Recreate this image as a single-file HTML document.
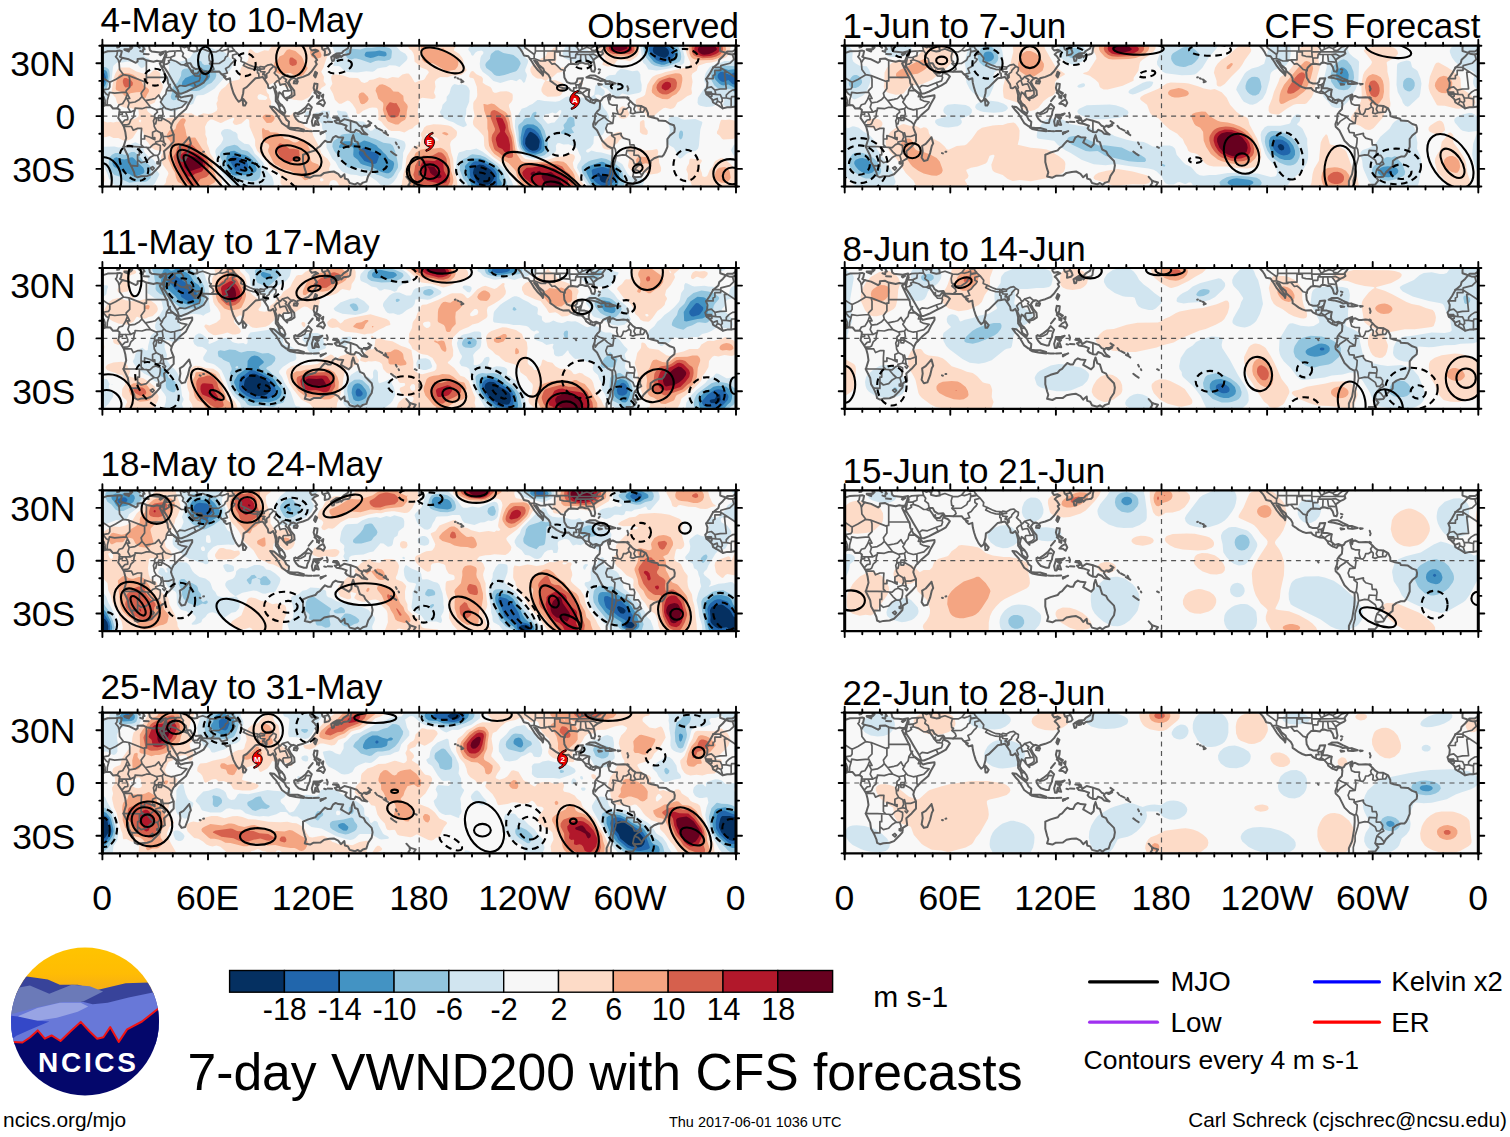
<!DOCTYPE html>
<html><head><meta charset="utf-8"><title>7-day VWND200 with CFS forecasts</title>
<style>html,body{margin:0;padding:0;background:#fff}svg{display:block}text{font-family:"Liberation Sans",sans-serif;fill:#000}</style></head><body>
<svg width="1510" height="1137" viewBox="0 0 1510 1137">
<defs>
<clipPath id="pc"><rect x="0" y="0" width="633.6" height="140.8"/></clipPath>
<g id="map" fill="none" stroke="#5E5E5E" stroke-linejoin="round" stroke-linecap="round"><path stroke-width="2.0" d="M0,7.4 5.3,5.6 14.1,5.3 17.6,4.9 19.4,5.6 18.5,9.7 17.6,10.9 19.4,12 26.4,13.6 33.4,17.1 35.2,15.8 35.2,13.2 40.5,12.8 44,14.6 51,16 54.6,15 56.8,15.5 60.2,15.3 57.4,17.8 59,21.1 62.5,28.2 65.1,33.4 65.6,37.3 68.6,43.1 72.2,45.8 75.7,48.4 76.2,50 78.3,51.9 82.7,50.7 89.8,49.6 89.8,51.9 86.2,58.1 83.6,63.4 77.4,68.6 73.9,72.2 71.3,74.8 69.5,78.3 68.6,81.8 69.5,84.5 71.3,88.9 71.3,95.9 66.9,100.8 61.6,105.6 62.5,112.6 58.1,115.3 57.7,119.7 54.6,123.2 49.3,128.5 44.9,130.2 38.7,130.6 35.2,131.6 32.4,130.2 31.7,126.7 29,120.6 26.4,116.2 25.5,110 21.1,101.2 23.8,92.4 22.9,86.2 21.5,81 19.4,77.4 15.8,72.2 16.7,68.6 17.2,64.2 15,62.5 10.6,62.8 7.9,59.5 3.5,59.3 0,60.7M633.6,60.7 628.3,61.6 624.8,61.6 620.4,62.7 616,59.8 610.7,56.8 609.8,53.7 607.2,51 604,48.4 602.8,44.5 604.6,42.2 605.1,37 603.7,33.4 607.2,28.2 610.7,22 616,17.6 616.9,14.1 620.4,10.9 623.4,7.4 626.6,8.4 630.1,8.8 633.6,7.4M618.1,0 617.8,2.3 617.8,5.3 622.2,6.7 623.9,6.9 624.8,5.8 630.1,5.8 632.7,4.2 633.6,2.5M0,2.3 0.5,0M60.2,15.3 61.6,12.3 63.4,7 63.4,5.6 58.1,6.7 53.7,6.2 49.3,5.8 47.5,4.4 46.6,0M60.2,15.3 61.4,18.5 60.4,21.5 59.1,20.8 57.4,17.8M61.4,18.5 61.6,21.1 65.1,26.4 68.6,32.6 72.2,38.7 75.3,44 76.6,48 79.2,47.9 84.5,45.8 91.5,42.2 96.8,39.6 101.2,37 105.2,30.8 103,28.7 99.4,27.3 99.1,24.3 96.8,25.5 95,27.8 90.6,27.6 90.6,24.6 89.4,26.4 88,23.8 85.4,20.2 84.5,17.6 88,17.6 89.8,21.1 93.3,23.4 98.6,22.9 100.3,25.5 108.2,26 117,25.9 118.8,28.2 120.6,29.6 123.2,30.8 121.4,31.2 124.1,33.8 127.6,32.6 128.1,37 129.4,42.2 131.1,47.5 133.8,52.8 136.4,56.1 139,54.2 140.8,47.5 141.2,43.1 144.3,41.4 149.6,36.1 153.1,32.6 156.6,32 160.2,31.2 161.9,33.4 165.4,38.7 166,42.2 168.1,42.6 170.7,40.8 172.1,44 173.4,49.3 173.4,55.4 176,59 177.8,65.1 182.2,67.9 183,66 181.8,62.5 179.5,59.5 176.9,57.2 175.1,53.7 176,49.3 176.9,46.6 179.5,48.4 181.3,51 184.8,54.6 184.8,52.8 188.3,51.9 192.2,49.3 191.8,44.9 188.3,40.5 186.2,36.1 188.3,33.4 191,32.2 193.6,33.4 194.5,34.3 195.4,32.6 200.6,31.2 205.9,29 209.4,25.5 211.2,22.9 214.4,18.5 213,15.8 214.7,14.4 212.1,10.6 210,8.8 212.1,6.7 215.6,5.3 213,4 209.4,4.8 207.7,2.6 207.7,1.4 211.2,0M219.1,0 220,3.5 222.6,5.3 222.3,9.7 226.2,8.8 227.9,7 227,4.4 225.3,1.8 224.4,0M228.8,11.4 229.7,15.3 231.4,15 232.3,11.4 230.6,10.6 233.2,10 237.6,9.5 238.8,11.4 241.1,9.3 244.6,8.8 246.4,8.4 247.8,7 248.2,3.5 249,0M246.4,0 245.5,2.6 241.1,5.3 239.4,7.4 234.1,7.9 230.6,10 228.8,11.4M233.2,10.7 236.7,10.2 236.4,11.8 234.1,12.3 233.2,10.7M213,26 214.7,27.3 213,31.7 211.6,29.9 213,26M191.8,35.2 195.4,35.6 194.5,37.8 191.3,37.5 191.8,35.2M140.8,53.3 144,57.2 142.6,59.8 140.8,59.8 140.4,56.3 140.8,53.3M86.8,91.5 88.5,97.7 87.1,100.3 85.4,107.4 82.7,114.4 79.2,115.3 76.9,111.8 78,105.6 77.4,100.3 81,98.2 84.5,94.2 86.8,91.5M167.7,60.7 171.6,61.2 176.9,66 182.2,70.4 183.9,73.9 186.6,76 186.2,80.6 183.9,80.6 179.5,77.4 176.9,73 173.7,67.8 170.7,64.6 167.7,60.7M185.2,81.8 191,82.2 195.4,82.2 201.5,84 201.5,85.5 193.6,84.5 187.4,83.2 185.2,81.8M191.8,67.8 195.4,67.4 198.9,65.1 203.3,61.6 205.9,58.1 209.4,61.6 207.7,66 207.3,69 205,73.9 204.2,77.4 201.5,77.4 196.2,75.7 193.6,73 191.8,69.9 191.8,67.8M211.2,69 216.5,68.8 220,67.8 217.4,69.9 212.1,70.4 213.5,72.2 216.5,72 214.7,73.9 215.6,76.6 216.5,79.2 213.8,78.7 213,75.2 212.1,80.1 210.3,80.1 209.4,75.7 210.8,71.3 211.2,69M203.3,85.2 205.9,85.4 209.4,85.5M211.2,85.4 216.5,85.2M218.2,87.1 223.5,85.4 220,87.1 218.2,88.4 218.2,87.1M224.4,67.2 225.3,69.5 224.9,71.8M225.3,76 229.7,76.2M221.8,76.2 223.5,76.6M212.1,37.8 215.1,38.2 214.7,42.2 213.8,44.9 218.2,47.5 217.4,48.4 214.7,46.1 212.4,45.8 211.2,42.2 212.1,37.8M214.7,58.1 217.4,55.4 220.9,53.7 222.6,57.2 220.9,60.4 218.2,58.4 214.7,58.1M206.3,55.4 210.3,50.5M216.5,52.8 217,50.2M219.1,50.2 220.9,48.8 220.5,51.9 219.1,50.2M214.7,51.9 216.1,50.2 214.5,49.6 214.7,51.9M212.1,47 213.8,48.4M230.6,71.8 235.8,71.8 237.6,76.2 242,73.4 248.2,75 254.3,77.1 257,80.1 260.1,81.3 259.1,82.7 261.4,86.2 264.9,88.9 259.6,88 257,85.4 253.4,84 251.7,86.6 248.2,86.2 244.6,84.5 242.9,82.7 244.3,80.1 239.4,78.3 234.1,77.4 232.3,75.3 235.8,74.4 233.2,72.2 230.6,71.8M261.4,80.1 264.9,80.1 267.5,78 267.5,79.7 264,81.5 261.4,80.1M265.8,75.3 268.9,77.4M272.8,80.1 274.6,82.4M276.3,83.2 279.8,85M281.2,86.8 283,87.8M283,85.4 283.9,87.3M284.2,88.5 285.6,89.4M293.4,96.8 294.3,98.6M296.2,101.2 296.6,102.1M288.6,105.8 291.3,107.9 293.9,109.6M312.4,101.2 314.2,102.1M200.6,109.1 200.6,116.2 202.4,123.2 203.6,126.7 202.4,130.8 207.7,132 211.2,130.1 218.2,129.9 221.8,127.2 227,126.2 231.4,125.8 235.8,128.1 238.5,131.6 242,128.5 242.5,132.9 245.5,133.8 247.3,137.3 252.6,138.7 255.2,137.3 257.8,139 260.5,136.9 264,135.9 265.8,130.2 269.3,125 270.2,119.7 269.3,115.3 265.8,111.8 263.1,109.1 261.4,105.6 257.5,103.8 256.1,99.4 255.2,96.4 252.6,95.4 250.8,89.4 249.4,93.3 249,98.6 246.4,101.4 242.9,99.4 238.5,96.8 240.8,91.9 235.8,91.5 233.2,90.3 230.6,92 228.4,96.4 225.3,96.4 222.6,95 220,97.7 217.4,100.8 215.1,102.1 213,104.7 205.9,106.8 200.6,109.1M304,131.1 307.1,134.6 308.9,135.5 313.3,136.8 311.5,139.6 311.2,140.8M307.1,134.6 307.5,137.3 305.9,139.6 308,140.8M359,36.6 361,35.9 359.4,34.8 359,36.6M357.8,33.8 358.9,34M355.2,32.6 356,32.9M352.5,31.7 353.2,31.5M414.8,0 418,3.5 419.8,6.2 421.5,9.7 425.9,10.6 427.7,13.2 429.4,15.8 432.1,20.2 435.6,24.6 439.5,28.2 440.5,29.9 440.9,27.3 437.4,22.9 433.8,17.6 431.7,14.8 434.7,15.8 436.5,19.4 440.9,22.9 441.8,25.5 446.2,29.4 447.9,32.6 447.9,35.2 450.6,37 454.1,39.6 457.6,41.4 461.1,42.6 466.4,42.2 468.2,44.4 471.7,46.1 475.2,47.2 479.6,47.5 482.8,51 483.6,53.2 486.6,55.4 488.4,56.3 491.9,57.6 493.7,54.9 497.2,55.4 497.7,58.1 497.2,63.4 494.6,66 492.8,68.6 492.4,73.9 490.7,78.3 491,81 494.6,84.5 497.2,89.8 499.8,95 505.1,100.3 509.9,102.8 510,109.1 509.5,116.2 508.3,123.2 507.4,128.5 504.2,135.5 504.2,140.8M524.5,141.7 524.1,139 530.6,138.7 533.8,134.6 532.9,133.8 530.6,130.8 533.3,131.6 538.6,131.1 541.2,126.7 544.7,123.2 547.9,120.6 548.2,115.3 551.8,112.6 556.2,110.9 559.7,110.9 561.4,109.1 563.2,105.6 565,101.2 565,93.3 567.6,89.8 572,86.2 572.4,82.7 571.5,79.6 567.6,78.3 563.2,75.3 556.2,74.8 555.3,73 549.1,71.6 545.6,70.4 545.6,67.4 543.5,62.8 538.6,60.2 533.3,59.8 530.6,58.1 528,55.4 524.5,51.9 521,51.6 516.6,51.9 513.9,51.9 510.4,50.2 508.1,51 507.4,54 506.9,51 507.4,48.8 502.5,51 500.7,51.9 499,54.6 497.6,55.4 493.7,53.7 490.2,54.6 486.6,51.4 486.3,48.4 487,44 482.2,42.6 478.7,42.6 477.8,42.2 478.7,38.7 480.5,32.6 475.2,32.9 474.3,36.1 472.6,37.8 468.2,37.8 464.6,36.4 462,31.7 461.5,26.4 462.9,22 466.4,18.5 469.9,18.1 475.2,18.8 477,17.1 479.6,16.9 483.1,18 485.8,18 488,21.1 489.3,25.5 491.9,26 492.8,22.9 491.6,16.7 491,14.1 495.4,10.9 499,9.3 500.7,7.9 499.8,5.3 502.5,1.8 503.4,0M484,31.7 487.5,29.9 492.8,29.9 498.1,32.6 503,34.8 498.1,35.4 495.4,34 489.3,32.4 484,31.7M502.7,35.6 506.9,35.6 513,37.7 508.6,38.4 503.4,38.2 502.7,35.6M495.8,38 499.5,38.7 496.3,39.1 495.8,38M515.3,38 518,38.2 515.7,38.7 515.3,38M525,51.6 526.2,52.4 524.8,52.6 525,51.6M525.4,44.9 525.9,43.1M525.5,42.2 525,40.5M496.3,23.6 497.7,24.1M496.3,27.6 497.2,26.4M22,3.5 27.3,3.2 26.4,5.8 22,4 22,3.5M28.2,3.5 29.9,1.8 29,0M27.6,0 28.2,3.5M37.8,5.3 40.5,6.2 40.8,3.5 42.2,3.5 40.1,0M37.3,2.1 35.2,0M41.4,8.3 46.3,8.6M57.2,8.8 60.7,7.7 58.1,9.5 57.2,8.8M15,0 14.8,1.8 16.7,1.4 17.1,0M87.1,0 86.8,1.8 86.2,4.4 88,4.9 91.5,5.8 95,5.3 94.7,1.8 93.3,0M473.1,71.1 473.8,72.2M100.8,106.1 101.6,106M97.3,107.4 98.2,107.7"/><path stroke-width="1.7" d="M15.1,5.5 14.4,9.7 13.2,10.9 15.8,14.1 16.7,17.2 18.1,14.6 20.2,12M16.7,17.2 17.2,23.8 21.1,29 13.2,33.8 7.4,36.6 5.6,35.6 0,32M633.6,32 625.2,26.4M21.1,29 26.4,29.9 42.2,36.1 42.2,35.2 44,35.2 44,31.7 44,14.8M44,31.7 64.9,31.7M26.4,29.9 27.3,33.4 27.3,41.4 23.8,44.9 23.8,46.5 17.6,47 12.3,47.5 7,46.6 6.3,49.8M7.4,36.6 7.4,41.4 6.2,43.3 1.8,44 0.4,44 3.9,48.4 6.3,49.8 4.9,54.6 4.8,59.1M2.8,59.5 2.6,54.6 1.4,51M2.1,59.7 0.9,56.3 0,51M15,62.1 16.7,59 20.2,58.1 22.9,53.7 25,48.4 24.6,47.5 23.8,46.5M24.6,47.5 26.4,51 27.3,52.8 24.6,52.8 26.8,57.2 32.6,56.3 37,53.7 39.6,51 38.7,47.5 42.2,42.8 42.2,36.1M26.8,57.2 25.5,61.6 28.2,66.5 23.2,66.5 19.9,66.5 17.2,66.4M17.2,68.6 19.9,68.6 19.9,66.5M28.2,66.5 32.6,64.2 32.7,62.5 39.6,63 44,61.6 48.2,61.6M39.6,51 43.1,55.1 48.2,61.6M43.1,54.9 49.3,53.7 52.8,52.8 56.3,49.3 58.1,52.8 59.8,53.7M67.8,38.7 64.2,44 63.4,48.4 60.7,51.4 59.8,53.7 58.1,56.3 61.6,60.9M64.2,44.9 66.9,44.9 70.4,44.9 74.6,48.4 73.6,51 75.7,51 76,50.2M75.7,51 75.7,53.7 79.2,55.4 84.5,56.3 79.2,61.6 73.9,63 72.2,63.5 68.6,64.2 63.4,62.7 61.6,60.9 59.8,63 54.6,63.9 54.2,64.2 48.2,61.6M72.2,63.5 72.2,70.4 73,73.4M59.8,63 60.7,68.6 59.8,70 59.8,72.2 66.4,76 69,78.7M54.2,64.2 55.1,66.5 52.3,69 52.1,72.9 53.7,72.2 59.8,72.2M56.3,69.9 59.8,69.9 59.8,72.2 59,74.8 56.3,74.8 55.8,72.2 56.3,69.9M52.1,72.9 51,75.2 51.6,78.1 51.9,81 54,84.8 50.2,86.6 50.2,92.4 52.4,91.9 52.4,94 47.5,91.5 42.2,89.8 42.2,93.3 38.7,93.3 38.7,89.8 39.2,82.7 35.2,82.7 30.8,84.5 29,80.8 22.9,80.8 21.5,80.6M53.7,72.2 54.2,74.6 53.7,76.2 53.3,78.1 51.7,78.1M21.5,79.2 25.5,78.8 26.9,78 28.5,73.9 31.3,71.3 31.7,66.9 32.6,64.2M19.7,77.3 22.5,74.3 25.3,73.9 25.3,71.3 23.2,66.5M38.7,93.3 38.7,98.9 41.2,101.4M20.8,100.8 24.6,101 32.6,101 41.2,101.4 44.4,101.7M37,102.6 37,109.1 35.2,109.1 35.2,114 35.2,120.4 29.9,120 29,120.7M35.2,114 38.7,117 44,115.6 47.5,111.9 51.7,109.5 48.4,106.5 44.4,101.7 47.5,101.9 50.7,98.9 53.5,97.9 53.2,96.4 58.1,95M53.5,97.9 57.9,99.8 57.9,103.8 57,107.9 55.1,109.8 51.7,109.5M55.1,109.8 56.3,113.5 56.3,117.6 57.9,117.7M54.6,116.2 56.3,116.5 56.1,118.3 54.6,117.9 54.6,116.2M48,122.3 50.2,120.9 51.7,122.5 50.2,124.3 48,122.3M54,84.8 58.1,87.1 59,91.5 57.7,94.5 58.1,95 60.7,95.9 63.2,98.4 62,100.3 60.4,98.6M59.8,87.1 60.7,90.6 61.2,95 61.6,95.7M60.7,90.6 66,90.8 71.1,88.9M630.1,8.8 631.5,13.7 627.4,17.6 618.5,19.9 618.3,21.6 610.4,21.6M603.7,32.9 610.7,32.9 610.7,29.9 612.5,29 612.5,24.6 618.3,24.6 618.3,22 625.2,26.4 622,26.4 623.7,41.4 623.9,43.1 617.8,43.3 612.5,44.4 609,41.2 604.6,42.2M612.5,44.4 613.4,48.6 609.8,48.2 604.2,48.8M604.2,46.5 609,46.5 609,47.2 604.2,47.3M609.5,48.4 609.5,50.5 607.2,51M613.4,48.6 617.8,48.9 619.5,52.3 619.9,55.4 618.6,57 620.4,62.7M610.4,54.6 614.8,52.8 615.1,55.4 618.6,57M615.1,55.4 613.4,58.3M619.5,52.3 623.9,52.3 623.9,49.3 626.6,46.6 630.1,44.4 633.6,44M628.7,61.4 628.8,56.3 628.7,53.7 629.2,51 633.6,51M623.9,52.3 628.7,53.2M625.2,26.4 633.6,32M61.4,18.5 62.5,13.2 62.7,12 64.2,9.7 63.7,7M61.8,12.1 63.4,11.8 68.3,11.6M61.6,18.8 64.2,18.5 66.9,16.7 66,15 68.6,14.1 68.3,11.6 72.2,9.9 72.5,6.2 74.6,5.1M63.7,7 66.9,5.6 74.6,5.1 78.8,4.9 81,7.9 80.1,10.6 83.6,13.2 84.5,17.6M68.6,14.1 73.9,15.8 78.7,19 81.8,19.2 84,20.2 85.2,20.2M81.8,19.2 84,17.6 84.5,17.6M75.3,41.5 77.4,39.8 82.7,40.5 91.5,37 96.8,35.2 97.9,31.7 97.2,30.4 92.6,30.1 90.8,27.8M91.5,37 93.5,41.2M97.2,30.4 98.2,27.8 99.1,26 98.7,24.6M78.8,4.9 78,1.1 78.8,0.5 81.8,1.9 84.5,0.7 86.1,2.8M78.8,0.5 76.9,0M94.9,4.8 100.3,3.2 104.7,4.9 107.7,6 106.5,10.6 107,15 108.8,15.8 107.2,18 110.5,20.8 111.4,23.4 108.4,26M107.2,18 116.7,17.8 122,14.3 123.2,11.4 125.1,10.4 126,6.3 131.1,5.3M107.7,6 113.5,6.3 117,4.6 119.7,5.3 123.2,4.2 125.8,3 126,5.8 131.1,4.9 132,4.4 130.2,2.6 129.7,0.9 125,0.9 124.1,0M117,4.6 119.3,1.8 120.6,0M120,28.7 125,27.3 123.2,22.9 126.5,21.1 129.2,17.6 131.3,15.7 132.5,13.6 130.2,12.3 130.2,9.3 135.5,7.9 132,4.9M135.5,7.9 139,12.3 138.5,15.5 142.6,17.2 147.8,19.7 151.4,21.1 155.1,21.3 156.6,22 158,20.8 161.9,21.5 165.4,19.4 169,18.7 171.2,20.6M141,19.7 146.1,22.2 151,23.6 155.1,23.9 155.1,21.3M142.6,17.2 141,19.7M156.6,22 158,23.4 161.9,23.1 161.9,21.5M171.2,20.6 169.3,22.4 167.2,24.6 166.7,26.4 164.2,28.2 164.4,31.7 163,32.9 162.4,34M156.6,32 156.3,27.6 155.1,27.3 155.1,23.9 158,24.6 158,25.9 162.6,26.2 160.5,28 160.5,29 162.4,28.7 163,32.9M171.2,20.6 173.7,22 173.5,25 171.8,27.3 174.1,29.6 175.1,30.1 176.4,32.7 178.1,33.1 176.2,34.5 174.2,35.6 172,37.8 173.7,41.7 172.8,43.6 174.6,47.5 173.5,52.8M178.1,33.1 179.9,31 184.1,34.1 183,35.7 185.2,37.5 189.2,44.5 189.4,48.8 186.6,51 183.9,52.1M176.2,34.5 177.8,39.4 179.5,38.7 183,38.2 184.4,41.4 185.9,45.1 181.3,45.2 180.4,46.5 181.1,49.8M185.9,45.1 189.2,44.5M179.9,31 185.3,29.4 187.8,31.7 190.1,32.6M176.2,59.1 177.9,60.4 179.7,59.5M192.9,66.9 195.4,68.6 198.9,67.8 202.4,66 203.8,62.8 207,63M248.2,75 248.2,86.2M221.8,3.5 226,2.5M218.2,86.8 220,86.6 220.4,87.3M427.5,13.2 431.7,12.8 438.2,15.3 443.2,15.3 443.2,14.4 446.2,14.4 449.7,18.5 452.3,18 455,20.2 458.5,23.8 462.5,24.8M422.4,1.8 431.9,8.8 431.7,12.8M422.4,1.8 422.4,0M433,5.3 433,0M432.8,7 433,5.3 467.1,5.3M431.9,8.8 432.8,7M441.8,15.3 441.8,0M446.2,14.1 452.3,14.1 452.3,6.2 457.6,6.2 457.6,9.7 461.1,10.6 467.5,11.1M452.3,6.2 452.3,5.3M454.1,5.3 454.1,0M468.2,12.3 468.5,17.6M468.2,12.3 473.1,12.3 473.4,8.8 476.1,6.2 476.6,5.3 479.6,3.5 484.4,1.6 488.2,2.8 489.3,4.4M467.5,11.1 467.1,6.2 467.1,0M467.1,6.2 475.7,6.2M478,17.1 478.4,8.8M483.8,15.8 482.9,8.8M474.8,8.8 487,8.8 491,8.4 495.3,10.7M484,15.8 490.2,16.4M476.1,6.2 489.8,6 500,6.1M487,8.8 491,14.1M476.6,5.3 474.8,1.8 472.6,0M489.3,4.4 492.8,4.8 497.2,1.2 500.7,0.5M488.2,2.8 491.9,0.5 491.9,0M479.6,3.5 479.6,0M484.4,1.6 484.4,0M471.3,44.9 471.3,42.1 474.3,42.1 473.4,39.1 476.6,39.1 478.4,37.8M476.6,39.1 476.6,42.4 477.3,42.4M477.3,42.8 476.4,45.1 475,46.3M476.4,45.1 479.1,46.8 479.4,47.5M480,47.5 482.2,45.8 484.9,44.4 487,44M482.8,50.9 486.3,51.2M487.7,56.1 488.2,53.5M497.4,57.6 497.6,55.1M507.9,49.5 505.3,51.9 506.2,55.4 506.9,58.1 510.4,59.5 514.8,59.5 514.3,63.4 515.7,68.3 510.4,67.4 511.3,71.3 510.4,77.8 505.1,74.4 501.2,70.6 497.2,69.2 494.9,67.9M501.2,70.6 500.7,72.2 495.4,75.7 492.8,79.2 492.4,76.4M510.4,77.8 505.1,78.3 503.4,82.7 504.8,86.6 509.5,87.1 509.3,89.8 512.5,92.4 512.2,96.8 511.5,101.2 509.9,102.6M511.5,101.2 513,103.8 513.9,110.5 513,114.4 510.4,123.2 510.4,128.5 508.6,134.6 508.6,140.8M509.3,89.8 518.7,87.6 518.7,89.8 521,92.4 527.1,94.2 527.6,99.1 531.5,99.1 532.4,102.1 531.9,105.2 524.5,104.7 523.6,109.5 520.1,109.1 513.9,110.5M523.6,109.5 530.6,114.4 532,118.3 535,118.4 537.7,115.5 538,112.6 535.9,109.6 531.5,109.5 531.9,105.2M537.7,115.5 539.1,118.3 535,120.6 532.2,123.6 535.9,125 539.6,129.7M532.2,123.6 531.2,126.7 530.6,130.2M515.7,68.3 518.3,69 520.1,66.5 521,63.4 523.6,63.4 526.8,61.2 528.4,62.5 528.5,64.4 528,67.2 530.6,68.1 533.3,66.9 538.2,66.4 540.8,66.4 542.6,63M526.8,61.2 525.9,58.6 528,55.6M533.3,66.9 531.5,63.4 532.9,59.8M538.6,60.4 537.9,64.2 538.2,66.4M507.2,35.7 507.4,38.5"/></g>
<clipPath id="lc"><circle cx="85" cy="1021.5" r="74"/></clipPath>
</defs>
<rect width="1510" height="1137" fill="#fff"/>
<!-- panel 1 -->
<g transform="translate(102.4,45.7)" clip-path="url(#pc)">
<rect x="0" y="0" width="633.6" height="140.8" fill="#F8F8F8"/>
<path d="M149.1,0 147,0.7 145.5,0ZM247.4,140 237,140 234.6,136 233,134.7 231,134.2 228.5,135 227.6,136 226.4,140 180.3,140 178.3,138 178,137.1 178.3,131 177.1,128 175,126 168,121.8 164.8,116 154.7,105 152.8,100 152.7,94 147.2,81 146.7,74 145,73.2 144,73.4 139,77.9 134,79.4 132,78.8 130.5,77 130.4,76 132,73 131,71.8 123.1,75 119.4,77 118,77.2 110,73.7 108,73.9 105,76.2 102.6,81 103.1,86 103,89 104.7,93 104.4,96 104.7,98 106.4,102 108,108 111.3,113 114.4,124 118.7,132 119.2,134 119.6,140 61,140 63.4,137 63.9,133 66.1,128 65.5,126 60.4,119 59.6,117 58.5,111 60.1,107 59.9,106 59,105.4 53,104.2 49,101.8 45.8,97 43,94 40.6,86 39,83.3 38,82.6 37,82.5 36,83.2 30.4,92 28,93.8 25,94.8 21,94.9 16,92.4 11,92.2 7,90.3 4,91.3 0,91.9 0,75 5,76.8 8,76.3 11,76.8 14,76 17,76.1 23,75.2 28,73.6 32,73.3 35.7,71 36.5,69 36,64 35,62.6 32,63.7 29,62.4 22.9,62 17,59.8 14.6,57 13.2,52 10,48.2 9.2,45 11.5,32 13,27.6 15.7,23 17,22.2 19,21.7 27,21.8 34,25.8 45,29 47,28.6 51,24.8 53,24.4 55,25 57.6,27 58.1,31 57.7,35 60.2,39 60.5,42 57,49.9 54.1,53 52.1,57 47,59.4 45,61 44.5,64 45.6,66 57,74.8 58,74.9 65,72.3 72,71.8 74,70.9 78,67.8 80,67.2 85,67.8 89,67.6 93,69.8 95,70.2 101,67.6 106,68.4 109,67.9 112,66.6 114.3,65 115,63 114,57.5 115.4,55 115.2,52 116.8,47 119,43.7 123,40.7 126.3,37 130,35.3 136,34.1 137.5,33 137.8,32 137.1,27 138.7,22 141,19.1 145.5,15 146.4,11 145.4,7 147,3.8 148,3.5 149,3.9 152.9,7 155,7.3 162,4.6 166,5 168.2,2 170.3,0 220.6,0 222,2.3 225.4,5 226.1,8 223.9,13 221,22 218.8,26 221.6,31 221.2,35 221.5,36 223.2,38 223.4,39 222.6,40 219.2,42 217,45 215,46 212,45.4 210,45.9 207.9,50 206,51.8 201,54.3 199,54.7 191.3,54 189,53.2 188,52 187.7,48 188,47.2 191.1,46 191.2,44 190.3,42 189,41.6 184,41.8 180,39 173,36.9 170.6,37 165.6,40 164.2,42 164,45 165,47.2 166.6,49 166.9,52 168.9,56 168.3,60 169,62 171,62.6 173,62.3 174,62.7 178.1,67 186,69.5 189,69.4 191,66.9 192,67 193.3,69 192.8,71 194.2,73 199.9,77 203,81.1 209.4,84 210.9,90 217.3,102 218.6,107 221.1,110 225.1,113 227.7,117 228,119 226.6,123 227,124.7 236,129.4 242,131.2 244,132.4 245.6,134 246.8,136 247.7,139ZM227.8,43 227.7,42 230,38 228.8,33 228.8,31 229.9,29 231,28.7 234,28.7 241,29.9 247,32.1 255,32.2 256.6,33 259,36.4 262,37.4 265,36.3 267,34.3 271,33.9 277,31.6 285,33 290,31.4 296,32 300,28.7 304,27.7 306,27.9 307,28.6 309,31.1 312,36.4 313,36.8 317,35 321,34.3 322.4,33 324,30 326.3,27 326.3,26 324.6,24 318,21.6 315,18 312.2,16 311.7,10 310.7,7 309.4,5 306.8,3 305.2,0 354.4,0 351.8,3 351.5,4 351.8,5 356.7,8 359.7,12 360.7,14 361.5,20 364.2,24 364,25 359,29.2 350,29.9 345,31.6 338,31.4 336,32.2 333.6,34 332.4,36 333.1,41 331.6,47 333.1,50 333,52 332,52.8 330,53.3 320,52.1 318,52.7 316.5,56 315.3,66 316.8,76 316.4,78 312.6,80 310,82.8 307,83.8 302,86.9 297,85.2 289,85.3 286,84 281.1,79 279,76 275.8,74 276.1,71 275.7,65 275.1,63 274,62.1 270,61.7 267,62.2 260.6,65 257,68 255,68.3 254,67 253.9,65 253.1,63 250,58.3 247,55.2 245,54.8 239,58.1 237,58.1 236,57.6 232.5,54 230.6,48ZM491.8,0 535.7,0 536.5,3 536.5,6 535.7,9 534.3,11 528,15.4 527,15.6 523,14.6 516,14 514.5,15 512.3,18 509.4,20 507,20.9 505,20.9 500,19 500.4,17 502.7,14 503,13 502.6,12 498,7.2 495,2.6ZM535.5,64 533.5,58 533.3,55 533.6,54 534.9,53 541,50.6 542.7,49 545,38.7 548.5,33 550.3,31 554,29.1 559,27.9 563,26.2 584,21.7 587.6,19 588,17 584.5,9 583.5,5 583.2,0 628.4,0 628.2,2 625.9,9 624.4,11 622.9,12 614,15.6 609,16.8 604,17.4 595.8,20 594.3,25 590,27.9 589.2,30 590.2,36 589,43 589.6,47 589,48.9 585,50.3 579,54.8 575,56.9 572.7,61 571,62.6 568,63.4 563,62 561,62.5 556.2,66 550,71.6 547,72.6 545,72 543.3,68 541,65.4 539,64.7 536,64.7ZM433,31.8 430,29.2 428.2,26 427.8,23 429,20.6 431,18.7 435.1,16 438,13.2 442.5,11 443.5,10 444.9,6 449,5.3 451,2.2 452,1.5 454,1.8 454.4,3 453.7,6 454.1,13 453.1,17 453.3,18 457,21.9 458,22.2 461,21.5 462,23 461.2,25 459,26.4 455,27.1 450,31.6 446.3,33 444,34.8 443,35 439,33 435,32.7ZM158.5,25 158.7,24 158.2,23 156,21.9 153,21.7 152,22 151.5,23 151.6,24 152.5,25 155,26 157,26.3ZM482.2,140 415.8,140 414.5,137 410.7,132 408.3,127 405,122 401,118.3 390.6,111 382.9,103 381.8,100 381.5,92 381,90 375.6,84 372.2,81 370.9,79 370.5,77 370.7,75 372.3,70 370.9,63 370.8,58 371.3,56 373.7,53 374.6,51 374.9,49 374.4,41 371.4,33 370,32.2 368,32 366.8,31 367,29 368.5,26 370,25.3 371,25.5 374,28.5 379.3,31 380.6,33 380.3,37 383.2,39 388,41.4 389.3,43 390.5,46 392,47 394,47.1 398,45.7 404,45.5 406.4,46 409.9,48 410.4,50 410.2,54 409,56.2 406.5,59 406.6,61 408.7,67 410.6,81 412.4,89 414.7,103 416.6,107 421,111.8 423,113.3 431,114.6 442,114.3 446,113.8 454,111.3 460,110.7 464,108.3 468,108.1 471,108.9 472,109.8 472.5,111 472.2,113 470.4,117 471.3,122 476.1,130 478.4,135ZM439.3,46 438.9,44 439.3,42 441.5,37 443,35 447,35.3 450,34.4 453,34.5 459.6,37 461,38.2 461.5,42 460,47 458.7,49 457,50.2 454,50.8 445,51.1 441,48.6ZM480,39.1 479,39.5 478,39.2 476.8,38 476.4,36 477,35.4 479,35.9 480.4,37 480.6,38ZM164.9,52 164,50.8 158,48.3 156,49 155,51 155.5,53 157,54 163,54.3 164.6,53ZM521,73 519,72.9 517,71.9 515.9,70 515.4,67 516,64 518,61.7 520,60.5 523,61.4 524.8,63 526.7,68 526.6,69 525.3,71 523,72.5ZM38,76.8 38.9,75 38,73.9 37,74 36.4,75 36.6,76ZM614.6,88 614.5,86 616.2,83 617,79 618.3,75 619,74 623,74.3 627,73.8 633,75.1 633,92.2 630,93.4 621,93.8 619.6,93 617.4,90ZM544,89.2 540,88.6 538,87.1 537.5,86 537.5,77 538,75.8 540,74.5 541,74.4 542,75.3 542.4,81 545.3,85 545.3,88ZM354.9,140 299.2,140 299.8,135 300.7,132 300.7,129 302.9,122 303.9,113 304.8,110 310,102.1 312,100.7 316.7,99 317.9,98 319.7,92 318.5,90 318.2,88 320.4,85 321.6,82 324,80 331,78.5 338,78.8 346,79.8 349.3,81 354.1,85 354.7,87 354.2,90 353,91.7 349,95 348,97 347.7,99 348.9,107 350.8,113 351.4,124 353.9,132 354.9,137ZM500.4,102 499,98 499.5,96 507.9,89 516,86.1 518,86.2 519.2,87 520.7,90 520.2,92 517.4,94 515,97.5 512,99.1 511.4,101 511.6,103 508.4,104 505.1,104 502,103.2ZM336.5,94 334,91.8 328,90.3 325,87.9 323.8,88 322.9,91 323.1,92 333,95.1 335.9,95ZM558,126.4 555,127.7 548,128.7 542,126.6 537,126.1 532,126.4 529,124.9 526.2,122 525.6,120 527.2,111 526.8,109 525.5,107 524.8,105 526,101.5 527,100.4 528,100.1 533,102.2 538,102.5 541,104.3 543,104.7 550,104.3 554,103.4 555,103.7 555.9,106 555.3,109 556.5,113 556.8,117 558.7,122 558.6,125ZM632.3,140 589.5,140 588.2,136 586,134.3 585.3,133 585.5,128 583.9,124 584.6,121 586.5,118 587,114 588,113 589,112.9 592,113.3 597,113.2 599,114 599.4,115 599.2,116 597.3,119 597.4,122 599.4,127 600,130.6 602,131.4 604,130.8 605,129.8 607.4,124 610.1,121 612,116.5 613,115.3 618,112.6 620,112.6 622,113.3 628.9,119 633,125.1 633,137.9ZM0,137.8 0,126.1 1.9,130 2.3,134 1.9,136ZM220.9,135 221.2,134 220,132.5 219,132.2 217.8,133 217.5,134 218,135.4 219,135.9ZM256.6,140 258,137.7 259,137.1 260,137.2 260.4,138 260.2,139 259.3,140ZM254.3,140 251,140 252,139.2Z" fill="#FDDBC7" fill-rule="evenodd"/>
<path d="M355,21.2 352.7,24 344,25.6 331,17.9 329,17.4 325,17.6 322,16.6 319.7,14 320.1,8 318.1,1 319,0 321.2,0 325,1.2 329,1.5 334,4.3 336,4.2 340,2.6 341,2.6 347,8 352,10 353.3,11 355.9,16 355.9,19ZM534.3,5 532.8,8 531,9.3 528,10.5 511,10.7 506,9 502.8,7 500.9,4 500,0 533.4,0 534.2,2ZM623.6,4 622.7,7 621.5,9 619.1,11 617,12 610,14.2 598,14.6 592,13.5 590,12.5 588.5,11 587.2,8 586.6,0 623.2,0ZM218.8,11 217.9,12 214,13.1 210.7,12 209,10.7 207.6,7 207.4,5 208.3,4 211,3 214,3 216,3.7 217.4,5 219.1,9ZM205.2,23 201,29.4 199,30.3 195,30.6 192.7,30 188,27.2 185,27.2 180,29.2 176,27.9 174,26.8 172.5,25 171.6,23 171.5,21 172,17 172.8,16 175,15 177,10.9 181,9.1 184,4.9 185,4 187,3.6 193,5.3 199,10.6 200.5,13 202.3,18 205.2,22ZM43.3,52 42,52.6 40.2,52 39.7,48 38,46.4 34,46.6 28,47.5 25,50.5 24,50.8 22,49.9 18.4,46 14,44.5 13.3,43 13.7,37 15,32 16,30 18,28.1 20,27.2 27,27.7 30.8,29 37.7,34 39,35.6 41,39.8 45,42.2 46.6,44 46.5,46 44.5,49ZM549.7,47 549.3,45 550.2,40 554,34.7 556,32.9 565,29.3 573,27.6 577,27.7 579.1,29 579.9,32 579.9,35 578.7,41 577.5,44 574,48.4 570,50.3 567,52.8 565,53.6 560,53.3 554,50.8ZM296,78.8 293,78.9 286,76 284.9,75 282.2,70 280.4,64 281,59 280.7,57 275.9,53 274.5,48 273.1,45 273.9,42 277,39 280,38.6 283,39.6 288,42.3 291,45.8 296,46 300.9,50 301.4,55 304.8,59 305.4,61 304.4,66 304.1,71 302.7,74 299,76.1ZM260,58.6 259,58.3 257.8,57 256,51 256.8,48 259,46.7 261,46.9 262,47.5 265.5,51 266.2,53 266,54.1 264.7,56 262,58ZM477.5,140 422.2,140 415.3,132 414.4,130 413.7,126 412.4,124 406,117.2 399,113.1 392,108.2 389.3,105 386.7,100 386.1,95 385.8,86 385,83 384.9,74 381.8,65 381,58.3 382,58.2 385,59.1 389,57.9 392,58.6 397.5,63 403,66.4 405,68.3 407.4,76 408.2,82 410.9,91 413.5,107 419,115.3 422,116.5 432,116.9 438,116.2 447,116.2 455,115.2 461.1,116 464,118.1 470.3,126 471.9,129 473.6,136ZM172.3,73 171,75.4 169,77 165,77.4 164,77 160.2,72 160.2,71 161,69.9 163,68.9 170,69.3 172,70.7ZM106.2,140 80.5,140 79,137.8 76,136.5 75,135.4 73.6,132 72.6,127 70.2,123 65.8,113 65.9,110 68.3,104 68.1,97 67.5,95 64.5,92 64.4,89 67,84.8 68,84.3 71,84.6 73,83.3 74.2,79 78,73.9 80,72.5 82,72.8 83.3,74 83.4,75 81.6,79 83.1,84 84.2,90 85,91.1 87,92 92,91.7 93,92 99.1,102 108.1,114 109.6,117 111.6,126 113.7,131 113.8,133 113,135.6 111.9,137ZM216,122.6 213,126 209.3,128 206,133.3 205,134 203,134.5 202,134.2 199,131.3 195.2,130 192.8,128 188,125.1 180,123.2 176,120.4 173,119 171.1,117 165.8,106 165.7,104 166.9,101 166.6,99 165,97.7 162,96.5 161,95.1 160.1,92 159.5,84 160,82.5 161,82.2 163,84.3 166,84.6 168,86.6 173,86.7 175,87.1 179,89.3 181.8,93 186,93.9 191,96.6 193,96.9 195,96.4 198,94.1 199,93.9 202,95.1 204.8,98 207.5,104 207.1,109 208.5,115 210,116.5 216,118.9 216.7,121ZM345.9,89 344,89.8 340,88.1 339.9,87 342,86.3 344,86.7 345.8,88ZM349.5,140 307,140 305,127 307.2,122 308.3,118 311.6,113 312.3,109 313.4,107 318,104.1 327,102.2 332,102.7 338,102.1 340,102.7 342,104 345,107.4 347.5,114 348.6,125 350.3,130 351,134 350.7,137ZM533.7,114 534.8,112 537,110.8 545,111.6 549.4,117 548.8,118 548,118.2 543,117.5 538,119.4 536,119.6 534.4,119 534,118.2ZM625,136.3 622,137.1 619,137.1 612.9,134 612.2,133 612,131 613.2,126 615,123.3 617,122.1 622,121.3 624,121.7 626,123.4 627.3,126 628.3,132 627,134.6Z" fill="#F4A582" fill-rule="evenodd"/>
<path d="M532,5 530.6,7 527,8.5 511,8.4 507.4,7 505,5.4 503.6,3 503.7,0 531.1,0 532,2ZM620.6,4 619.9,6 618,8.5 614,10.8 609,12.1 600,12.5 593,10.5 591,9.3 589.7,7 589.2,2 589.7,0 619.8,0 620.6,2ZM193,19.6 190,20.2 187.7,19 187.1,18 186.9,15 187.2,13 188,11.9 190,11.8 194,14.6 194.6,17 194,18.7ZM557,47 555,44.7 554,42 554.6,39 557,35.8 560.1,34 567,31.8 572,32.9 573.5,34 574.6,37 574.2,41 573.4,43 571.4,45 566,48.3 564,48.9 560,48.5ZM29.8,40 28,41.1 23,41.8 21.5,40 20.5,37 20.4,35 21.1,33 22,32.3 24,32.2 29,34.7 30.5,37 30.4,39ZM295,71.1 292,72 289,72 287.2,71 286,69.6 283.5,63 284,60.9 287,56.8 288,56.5 292,57.5 294,57.4 297.4,63 297.8,65 296.1,70ZM409.6,112 406,112.4 400.2,110 396,106.6 393,104.9 391.7,103 389.4,95 389.2,92 389.9,89 392.4,85 392.6,83 388.6,73 387.9,70 388.2,67 389,65.5 390,64.7 392,64.4 395,65.6 401,69.2 403,71.6 405.1,77 406.2,84 409,91.8 410,97 410.7,109 410.5,111ZM92.6,140 89.4,140 86,138.2 82,134.1 78,131.1 76.8,126 73,119.1 70.9,111 73.3,107 75,101.6 76.8,100 82,99.8 87,97.7 89,98.2 103,111.7 105.9,116 106.7,120 105.9,124 106.7,128 106.4,129 104,131.2 98,133.2 94.6,138ZM194.7,114 193,115 189,115.5 187,117.4 186,117.7 184,117.4 182,116.2 177.7,111 173.9,104 174.1,102 176.6,98 178,97.5 182,99 187,103.1 191,103.1 196.2,104 196.8,105 197.3,110ZM345.4,140 314.7,140 312.9,137 312,132.2 310.9,129 312,125.2 312.7,120 317,112.2 321,109.7 326,110.2 330,109.7 336,106.5 339,106.9 341,108.4 343,110.8 344.1,113 345.3,124 347.8,132 347.7,136ZM470.9,140 427.2,140 421.9,136 418.1,131 417.1,128 417.3,124 418.5,122 420.9,120 424,119 432,119.1 440,117.9 448,118.7 453,118.5 455.7,119 460,120.8 462.9,125 467,128.1 468,130 469.1,135Z" fill="#D6604D" fill-rule="evenodd"/>
<path d="M529.5,4 529,5.1 527,6.2 518,7 512,6.6 510,6 508,4.7 506.7,3 506.4,1 506.8,0 528.3,0 529.5,2ZM618,4 616,6.9 613,8.6 608,10.2 601,10.8 597.8,10 593,7.1 592,5 591.9,3 592.5,1 593.3,0 616.3,0 617.8,2ZM563,44.8 559.8,43 559.2,42 559.4,40 560.7,38 563,36.4 565,36.1 567,36.6 568.5,38 568.6,41 566,43.9ZM406,106.7 404,106.8 402,106.1 400,103.4 396,101.6 395,100.1 393.4,94 393.6,92 395,89.3 397.7,86 397.7,85 393.7,73 394,71.8 397,71.7 400,72.9 402.9,79 403.4,82 402.3,86 406,91.9 407.6,99 407.5,105 407,106.1ZM89,131.1 86,130.7 83.5,129 79.2,123 76.5,117 76.1,112 76.7,110 84,104.8 86,104.8 91,106.2 96,108.9 101,112.8 103,116 103,120 100,125.2 98.9,126 92.6,128ZM344,136.5 342,137.6 337,137.8 324.5,135 323,130.8 320,128.1 318.1,123 318.1,120 320,116 322,115.1 324,114.8 332,115.3 337,113.1 339,113.8 340.1,115 340.8,117 341.5,125 344.3,130 345,132 345,134ZM465.8,138 464.6,140 435.3,140 432,138.2 428,137 423,133 420.6,130 419.8,127 420.9,125 424.3,122 430,121.8 439,119.9 442,119.9 446,121.5 451,122.3 454,123.9 459,128.9 464.6,133 465.7,135Z" fill="#B2182B" fill-rule="evenodd"/>
<path d="M524.9,2 524.3,3 519,5.1 517,5.2 511.4,4 510.2,3 509.8,2 510.7,0 516,0 524,0ZM614.5,3 614.3,4 613.3,5 610,7.1 606,8.5 602,9 600,8.8 598,7.9 596,6 595.4,4 596,1.8 598.9,0 610.9,0 613.2,1ZM82,121 81.5,118 82.2,115 85,112.1 88,110.5 91,110.7 97,112.9 99,114 100.5,116 100.4,119 99.3,121 98,122.1 87,125.9 85,125.1ZM339,131.2 338,132.2 336,132.5 329.9,129 327.8,127 326.6,123 324.7,121 325,120.5 331,120.9 332,121.4 333.7,124 339.1,130ZM428.3,129 428.1,128 429,126.8 431,125.9 432.8,126 432.9,127 430,129.5 429,129.6ZM438,128.5 437,128.4 434.9,127 434.5,126 437,125.1 438,125.5 438.4,127ZM458.9,140 444.5,140 443,138.6 439.5,132 439.1,130 440.3,129 444,127.2 448,126.4 449,126.6 456,132 459,137 459.2,138Z" fill="#67001F" fill-rule="evenodd"/>
<path d="M0,60.7 0,3.5 3.4,0 44.8,0 43.3,2 43.1,6 41.8,10 42.4,11 46.8,13 47.2,14 46.8,15 43.6,18 42,21 41,21.9 39,22.2 38,21.8 36,19.5 33,14.7 32,14.6 29,16.2 25,15.9 20,16.7 16,16.3 14,17.2 11.1,20 10.7,21 9.3,33 4.3,53 2.7,56 2,59.1 1.3,60ZM57,62 58.6,56 62,50.5 64.2,48 65.1,46 65,42 65.7,37 64.7,32 66.1,28 66.8,21 65.5,17 66,15.1 67,14.3 70,13.2 72,13.3 75,15.4 77,16 82,14.9 87.6,12 90.8,7 96.1,3 98,1 99.9,0 103,0.4 110,2.6 113,4 116,3.6 118,4 124.3,8 126.2,11 129.7,14 130.4,19 128.8,23 124,28.2 121,33 112,43 105.6,47 101,49.3 96,49.5 94.5,50 93.7,51 90.9,58 88.4,59 80,59.9 75,64.6 72,66.1 65,64.8ZM305,13 304,14.7 297,21.2 293,19.9 287,19.6 284,21.4 280,21.7 275,22.7 272,25.3 270,26 264,25.6 255,26.7 245,26.4 241.9,25 238,21 236,20.3 230.9,20 230.8,19 232.3,16 232.1,12 233.1,9 229.7,0 292.6,0 295.1,2 298,5.3 303,8 305,11ZM422.7,36 422,36.9 421,37 418.9,34 417,33.3 414,35.5 410,34.3 408,34.2 398,37.3 391,35.2 386,30.2 380.2,26 377.8,22 377.3,18 378.1,12 378.9,10 380.8,8 381,6 379,4.9 375,5.6 372.8,7 371,9.8 370,10.1 369,9.2 368.2,7 365.9,4 366.3,2 368.6,0 422.8,0 423,2 422.4,3 419.6,5 421,7 423,11.9 425.4,14 425.8,15 425.5,17 422.8,24 423,26 424.2,28 424.5,30ZM492.8,14 491,15.9 489,16.6 481,16 477,17.7 475,17.6 472,16.2 466,14.4 462,12.4 460.2,10 460.2,7 461.9,3 464,0.4 464.9,0 472.4,0 476,2.2 482,2.5 486.7,5 491,6.4 492,7.2 492.9,9 493.2,12ZM581.8,17 580,18.8 568,22.5 558,24.4 554,24.9 546,23.8 543.2,19 541,17.4 540.3,16 538.4,3 537.5,0 579.6,0 582.2,11ZM596,59.1 595.1,57 595.5,52 603.6,40 603.9,39 602.2,36 601.7,34 603.1,28 604.1,26 607,21.8 609.3,20 617,17.6 622,15.4 628,15.3 631.7,13 632.4,12 631.9,6 633,3.9 633,60.7 628,61.2 625,60.2 621.7,60 620.7,59 620.7,58 621.9,55 621.9,54 621,52.7 620,52.8 618,54.1 615.6,58 610,60.7 604,61.2 597.8,60ZM499.7,40 499.5,39 502.1,36 503.2,32 504.2,31 507,29.6 512.9,29 514.7,26 518,23.4 522,23.5 530,25.6 535,24.9 536.6,26 538,28.7 538.1,34 539.3,39 539.1,45 538,46.5 536,47.4 526,49.4 520,47.9 519,48.3 516,51 511,51.5 510,50.6 509,47.9 504.6,43 501,41.5ZM361,81.5 355,79 351,76.5 346.2,75 342,72.9 339.9,71 337.7,67 337.6,66 339.3,63 340.2,59 344.1,55 344.3,51 347,47.9 348.6,42 350,39.9 352,38.4 356,39.3 359,38.5 364,39.9 366,41.9 367.4,45 366.8,56 363.9,63 363.7,68 362.3,73 362.6,75 364.5,79 364,80ZM540.3,140 485.4,140 479.8,132 474.6,122 475.1,119 478.4,114 478.7,111 477,108.2 475.3,104 474,102.1 472,100.7 466,98.5 461,98.8 457,97.2 455,97.6 453.4,100 453.8,104 453.1,106 447,110.6 444,112 441,112.7 432,113 426,111.8 423,110.5 418.2,106 415.7,101 412.5,81 412.6,75 413.2,72 415.9,69 419.3,63 424,61.5 427,59.5 430,58.2 435,54.4 437,54.3 442,55.4 453,56.1 457,55.2 463,51.5 465,50.9 470,51 475,52.5 479,51.9 483,52.5 489,51 491.8,49 493,40.2 494.1,39 496,38.6 497.7,40 498.7,42 501.6,44 502.5,46 502.2,48 501,49.9 500,50.6 496,48.7 493.5,49 492.5,50 495,53.3 498,55.4 501.3,62 504.5,66 506.7,71 506,77 505.4,79 502.9,83 501.6,87 500,89.3 498,90.3 492,90.4 491.5,91 491,98 488,102.1 484,104.4 483.7,106 485,106.9 486,106.8 489,104.8 494,106.4 499,106.9 509,109.5 513.2,114 520,118.6 525,127.7 527,130.1 530,131.5 539,132.6 541,133.7 541.6,136ZM291,136.6 288,138.9 284,139.9 280,139.9 278,139 274,135 268,131 264,130.1 259,130.7 254,129.2 248,128.9 241,126.5 238.9,125 236.3,122 233.1,116 229.9,113 224.1,102 223.9,97 223.2,94 223.5,90 223.1,88 219.8,83 219.6,79 219,77.4 213,73.4 211.7,72 210.9,70 211.9,68 214,66.9 217,66.8 220,64.8 224,65.2 227,64.9 227.5,66 227,70 230,74.4 231,74.6 235.7,69 235.6,68 234.5,66 234.7,65 236,64.8 239,65.6 243,65.8 244.6,67 247.2,73 247.1,75 248,76.3 253,75.5 261,75.9 262.6,77 264.3,79 265.8,83 267.7,85 270,84.9 273,82.1 275.1,82 277,83 277.8,84 279,86.8 282,88.4 285,91.2 292,92.4 300,94.7 302,95.9 303,98 303.2,100 302.6,103 300.7,107 300.7,111 299.3,123 296,128 294.3,132ZM440.8,73 445,77.8 446,78.1 449,77 452,76.9 456,72 458.7,67 459,65 458,64.2 457,64.5 454,67.6 453,67.8 450,66.7 446.5,68 443,68.5 441.4,70ZM205,70.4 203,69.6 202.5,68 203.7,66 205,65.2 206,65.4 206.5,66 206.9,68 206.3,70ZM578,112.7 577,112.5 575.6,111 572.7,104 571.3,102 566.2,99 564,96 564,93 566.9,88 567.5,85 567.2,82 565.7,77 565.8,74 567.1,72 570,70.7 575,71.1 579,73.3 582,74.1 593,73.4 599.7,76 600,77 597.9,84 596.5,100 595.6,103 593,105.3 589,105.9 584,108.1 579.6,112ZM171.2,140 130.5,140 127.3,136 123,132.1 116.9,123 116,118 114.5,114 112.8,106 113.3,104 114.6,102 118.6,98 120.7,94 120.7,92 118.6,88 118.5,87 119.6,85 122,83.5 125,83.2 128,83.9 131,85.8 133,86.4 135,88.2 135.4,92 136.5,94 142,98.1 146,98.5 147,99 150,103.1 152.4,108 155.8,111 161,117 163.6,124 169.8,131 171.4,137ZM52.3,138 50.1,140 14.8,140 11.6,139 6.7,133 5.4,129 0.6,118 0,114.4 0,99.9 2,101.1 12,100.7 16,101.9 20,101.5 24,101.9 26,101.1 29,98 33,96.6 39,99.2 41.1,102 41.6,105 42.4,107 46,110.9 51,113.7 54,118 54.7,125 56.8,128 56.9,129ZM633,111.9 630,107.6 628.7,105 629,103.5 631,99.7 632,98.7 633,98.8ZM411.1,140 359.2,140 358.6,137 354.3,126 353.7,123 353.6,120 354.6,112 356,107.5 357,106.6 361,105.6 364,104.3 368,104.2 374,102.7 380,105.7 397.8,119 403,124 409.6,136Z" fill="#D1E5F0" fill-rule="evenodd"/>
<path d="M578.4,14 577,16 576,16.6 565,20.5 559,21.3 552,19.8 549,18 543.9,12 541.5,6 540.5,0 574.8,0 576.4,2 578.4,7 578.8,11ZM289.5,6 288.9,12 287.2,14 282,15.4 276,14.9 273,15.2 268,17.2 258,13.7 254,12.8 252,12.9 249,13.8 247,13.4 245,12.3 244,11 242.9,7 243.5,5 248,2.9 258,3.8 264,1.8 269,2 278,0.9 283,1.3 287,2.4 289.1,4ZM414.3,25 413,25.8 402,29.3 397,30.3 394,30.1 391.8,29 389.2,26 384,22.4 383,20.1 383,18.5 383.7,17 387.6,13 388,10 388.9,8 393,4.7 396,4.5 401,7.2 411,9.2 415.8,13 417.8,16 418.3,18 416,22.7ZM69,53.4 68.3,51 69.6,47 70.3,42 71.4,40 75,37 78.6,30 79,26 80.1,24 82,23.1 85,22.7 88,22.9 92,24 94,23.4 95.3,21 94.5,17 94.8,16 96,15 97,14.9 99,15.9 100.1,18 102,19.4 108,18.7 110,19.1 111.2,20 113.7,26 113.9,30 112.8,33 109,37.4 105,39 102,41.7 97,44.7 94,45.2 84,45.3 82,46 77.9,51 73,54.4 71,54.6ZM633,47 632,46.7 629,44.1 627,43.1 617,43.5 615,42.4 612,39.7 609.3,35 608.4,31 608.9,27 611,23.9 615,21.3 621,19.7 633,20.6ZM0,46.9 0,20.8 4,21.9 6,23.2 7,25 7.4,30 6.9,34 4.4,42 2,45.5ZM521.4,41 520,41.8 519,41.5 518.5,41 518.5,40 519,39.3 520.2,39 521.4,40ZM432,111.1 428,110.4 424,108.8 421,106.4 418.5,103 417.2,100 416.3,95 416.3,87 415.7,81 416.3,79 420,76 422,73.4 424,72.4 427.8,72 429.9,68 431,66.9 433,66 434,66.4 434,68 432.1,72 432.6,73 438.9,79 442.3,85 445.5,97 445.6,104 444.9,107 442,109.6 439,110.5ZM459.1,88 458.5,87 458.7,86 462,83 461.1,80 461.2,79 463.9,76 465.2,73 467,71.2 468,70.8 471.3,72 471.8,73 472.5,80 469.3,82 469.2,83 471.7,87 465,88.7ZM578,93.8 576.6,92 576.4,89 577.2,86 578,85.1 579,84.9 580.5,86 580.7,89 579.9,92 579,93.4ZM295.5,122 291,129.9 289,131.8 286,133 283,132.4 279,130.3 274,128.7 269,125.8 264.2,124 255,122 249,122.4 246,121.9 243.3,120 238.3,112 235,109.2 231.6,105 230,101 230.3,97 231.5,95 235.9,92 239,89.1 242,88.3 248,87.9 254,86.4 264,89.6 268.6,92 273,93.4 281,97.1 288,98.1 290.5,100 292.9,106 293.4,110 294.4,112 295.7,119ZM157,132.6 154,134.7 150,135.7 140,133.5 134,134.3 129,132.2 124.1,127 120.1,121 119.6,115 117.4,110 118,107.1 122,102.6 124,101.1 132,99 135,100 139.3,104 145,105.3 147,106.8 153,112.9 158.4,120 158.8,122 158,130ZM48,132.6 45,135.2 43,136 41,136.3 36,135.9 27,137 21,134.4 17,130.9 12,129.2 8.1,125 7.2,123 6.2,118 6.9,112 9.5,109 13,107.2 16,107.2 22,109.1 24,108.7 29,106.2 32,106.2 37,110.4 40.3,115 45.3,118 48.4,121 48.6,123 48.1,127 48.5,131ZM404.3,140 365.5,140 364.4,137 360.9,133 357.3,124 357.5,120 359.5,115 361,113.3 364,112.2 368,109.3 370,108.6 378,109.6 383,111.6 394.9,120 399.4,125 401.3,128 402.4,133 404.2,136ZM521.5,140 488.7,140 486.9,138 480,127 479.1,123 479.4,121 482.6,118 486,115.8 489,114.6 499,112.2 504,113.2 512,117.3 517.5,122 520.1,127 521,132 522.4,135 522.5,136Z" fill="#92C5DE" fill-rule="evenodd"/>
<path d="M574.8,12 573.6,14 572.2,15 562,19 559,19.1 554,17.5 551.4,16 546.4,10 543.6,4 544,0 568.3,0 573,2.3 575,4.9 575.7,8ZM262.2,9 262.9,7 264.2,6 273,5.6 277,4.8 283,6 284,7.4 284.2,9 283.9,10 282,10.9 276,10.1 271,11.9 268,12.3 263.4,11 262.4,10ZM633,42.1 631,41.6 626,38.7 621,39.9 619,39.4 617,38 613.1,34 611.4,31 611.5,29 613.2,26 615.5,24 619,22.8 622,22.9 626,24.2 631,23.5 633,23.7ZM0,42.1 0,23.8 3,24.6 4,25.3 4.9,27 5.4,31 5,34 3,39.4 2,40.9ZM80,40.8 79.4,39 80,36.1 83,32.3 94,27.7 99,24 101,23.7 104,24.6 106,25.9 107.4,28 107.7,31 106,33.7 101,37.2 97,38.7 95.5,41 94,41.9 92,41.8 87,40.2 82,41.2ZM439,107.4 433,109.1 429,108.8 424,106.7 422,104.9 420,102.2 418.5,98 418.2,92 419.7,83 420.6,81 422,79.7 425,78.5 431,78.9 435,81 438,84.5 441.6,95 442.3,102 441.7,105ZM291,122 290,124.2 288,126.5 286,127.5 284,127.5 278.5,126 271,122 260,118.8 258,117.7 255.4,114 251.4,111 250.8,109 251.2,103 250,101.1 245,100.2 238,102.3 236.8,102 236.5,101 236.8,100 240,96.2 242,95.6 248,95.6 252,97.7 258,96.7 261,95 262,94.9 267,96.2 274,99.5 276,102.1 278.7,104 281,106.9 283.6,109 286.2,113 291,115.8 291.8,118ZM153.2,126 151,127.6 143,129.3 133,129.9 130,129.2 126.8,125 123.8,119 124,112 125.4,108 128,105.6 132,105 139,108.5 143,109.3 146,110.7 150,114.4 151.7,117 154.3,123 154,124.9ZM41.8,127 40.6,128 34,130.5 32,130.8 30,130.4 27,128.4 20,126.2 17.1,124 12,121.4 11,120.2 10.1,118 10,116 10.6,114 12,112.3 14,111.5 19,113.3 22,113.7 24,113.4 28,111.7 30,111.6 32.1,113 35.4,117 41,122 42,125ZM399.2,140 369,140 367.8,136 364.6,131 363.2,126 362.5,121 362.8,120 368,114.6 370,113.1 372,112.7 378,112.9 382,114.1 391.2,120 395.3,124 397.1,128 397,133 399.4,137ZM515.8,138 513.3,140 493.2,140 490,137.8 488.5,136 484.1,127 483.8,125 484.2,123 485,121.8 487,120.4 499,116.1 501,116.2 505,118.5 510,119.7 514.2,123 516.9,128 517,130 515.9,134Z" fill="#4393C3" fill-rule="evenodd"/>
<path d="M572.2,9 571,11.3 569,13 562,16.4 559,16.6 554,14.5 548.7,9 546.7,5 546.4,3 547.3,0 564.4,0 571.3,5 572.5,7ZM633,39.1 630,38.2 626,34.2 621,36.3 619,35.9 616.8,34 615.4,32 615.2,30 615.9,28 618,26.2 620,26 627,29.1 628,29 631,27.1 633,26.7ZM0,38.8 0,26.6 1.4,27 2.4,28 3.5,32 3.2,34 2,36.8ZM434,106.8 431,107.2 426,105.7 423,103.2 420.5,99 420.2,96 421,90.5 423.2,84 425,82.3 428,82 432.2,84 436,87.9 438.7,93 439.4,96 438.9,103 437.2,105ZM274.4,117 273,118.1 271,118.3 262,115.3 256.9,109 256.3,107 257,105.2 260.7,102 264,101.6 265.1,102 267,105.4 272,106.5 275,108 276,109.1 276.6,111ZM144.3,124 142,125.5 139,126.1 133,124.7 127.9,116 128,113.7 129.4,111 131,110.2 133,110.5 143,114.4 144.3,116 145.7,119 145.6,121ZM394.2,140 374.9,140 373,138.7 368.4,132 367.6,130 367,122 367.6,120 368.9,118 371,116.2 373,115.6 380,115.9 390.2,122 392.9,125 394.3,128 394.3,134 394.9,138ZM512.6,134 511,136.4 508,138.7 504.8,140 499.3,140 495,137.7 491.8,135 490.7,133 489.2,125 489.7,124 491,123.2 499,121.2 501,121.4 505,122.9 509,122.6 511.2,125 513,129 513.2,131Z" fill="#2166AC" fill-rule="evenodd"/>
<path d="M565.6,10 563,12 561,12.1 556,10.3 552.1,8 551.1,7 550.4,5 550.5,3 551.3,1 552.3,0 559.4,0 563.9,2 565.8,4 566.5,6 566.6,8ZM433,104.9 430,105 427,103.7 424,100.7 422.7,98 423.1,93 426.6,87 428,86.1 430,86.7 433,88.8 435,90.8 437,94 437.3,96 436.3,102 435,103.9ZM387,138.5 385,139 378,138.4 376,137.5 374.5,136 371,129 370.5,127 371.4,123 373.7,120 377,118.8 381,119.4 388.3,124 390.9,127 392,130 391.5,133 388.8,137ZM506.6,134 504.8,136 503,137 501,136.9 499,136 497.5,134 497.3,131 496,130.7 495,129.6 495,127.5 496,127.1 497.4,128 498,129.4 499,129.8 502,128.8 504,129.5 506.6,132Z" fill="#053061" fill-rule="evenodd"/>
<path d="M0,70.4H633.6M316.8,0V140.8" stroke="#555" stroke-width="1.2" stroke-dasharray="5,4.6" fill="none"/>
<use href="#map"/>
<g fill="none" stroke="#000" stroke-width="2.1"><ellipse cx="188.9" cy="109.2" rx="31.5" ry="17.8" transform="rotate(20 188.9 109.2)"/><ellipse cx="190" cy="109.2" rx="16.8" ry="8.8" transform="rotate(15 190 109.2)"/><ellipse cx="194.2" cy="113.4" rx="2.9" ry="1.7"/><ellipse cx="119" cy="150.9" rx="69.9" ry="19.9" transform="rotate(46 119 150.9)"/><ellipse cx="116.5" cy="149.5" rx="59.8" ry="14.3" transform="rotate(48 116.5 149.5)"/><ellipse cx="114" cy="148" rx="50" ry="9" transform="rotate(50 114 148)"/><ellipse cx="188.9" cy="12.6" rx="15.1" ry="18.5"/><ellipse cx="102.9" cy="14.7" rx="7.3" ry="13.6"/><ellipse cx="0" cy="134.4" rx="9.4" ry="16.8"/><ellipse cx="0" cy="134.4" rx="18.9" ry="23.1"/><ellipse cx="314.9" cy="123.9" rx="8.4" ry="12.6"/><ellipse cx="340.1" cy="14.7" rx="23.1" ry="9.4" transform="rotate(25 340.1 14.7)"/><ellipse cx="325.4" cy="126" rx="21" ry="14.7"/><ellipse cx="327.5" cy="126" rx="9.4" ry="7.3"/><ellipse cx="443" cy="134.4" rx="48.3" ry="16.8" transform="rotate(30 443 134.4)"/><ellipse cx="447.2" cy="136.5" rx="33.6" ry="12.6" transform="rotate(25 447.2 136.5)"/><ellipse cx="449.3" cy="138.6" rx="21" ry="8.4" transform="rotate(20 449.3 138.6)"/><ellipse cx="451.4" cy="140.7" rx="10.5" ry="4.6" transform="rotate(10 451.4 140.7)"/><ellipse cx="529" cy="119.7" rx="18.9" ry="17.8" transform="rotate(30 529 119.7)"/><ellipse cx="535.3" cy="122.8" rx="5.2" ry="3.8" transform="rotate(-30 535.3 122.8)"/><ellipse cx="518.5" cy="1" rx="16.8" ry="11.5"/><ellipse cx="519.6" cy="1" rx="25.2" ry="19.9"/><ellipse cx="518.5" cy="1" rx="9.4" ry="6.3"/><ellipse cx="627.7" cy="128.1" rx="16.8" ry="14.7"/><ellipse cx="629.8" cy="130.2" rx="9.4" ry="8.4"/><ellipse cx="459.8" cy="42" rx="5.2" ry="2.9"/></g>
<g fill="none" stroke="#000" stroke-width="2.1" stroke-dasharray="6.5,4.5"><ellipse cx="138.6" cy="122.8" rx="25.2" ry="11.5" transform="rotate(25 138.6 122.8)"/><ellipse cx="137.5" cy="121.8" rx="13.6" ry="5.9" transform="rotate(25 137.5 121.8)"/><ellipse cx="138.6" cy="121.8" rx="5.9" ry="2.1" transform="rotate(25 138.6 121.8)"/><ellipse cx="159.5" cy="134.4" rx="42" ry="12.6" transform="rotate(25 159.5 134.4)"/><ellipse cx="260.3" cy="113.4" rx="25.2" ry="11.5" transform="rotate(15 260.3 113.4)"/><ellipse cx="52.5" cy="31.5" rx="10.5" ry="8.4"/><ellipse cx="142.8" cy="18.9" rx="10.5" ry="11.5"/><ellipse cx="237.2" cy="21" rx="12.6" ry="6.3" transform="rotate(-15 237.2 21)"/><ellipse cx="31.5" cy="117.6" rx="12.6" ry="18.9" transform="rotate(-30 31.5 117.6)"/><ellipse cx="377.9" cy="130.2" rx="25.2" ry="14.7" transform="rotate(20 377.9 130.2)"/><ellipse cx="377.9" cy="130.2" rx="15.7" ry="8.4" transform="rotate(20 377.9 130.2)"/><ellipse cx="380" cy="131.2" rx="7.3" ry="3.8" transform="rotate(20 380 131.2)"/><ellipse cx="457.7" cy="98.7" rx="14.7" ry="11.5"/><ellipse cx="501.7" cy="134.4" rx="23.1" ry="14.7" transform="rotate(10 501.7 134.4)"/><ellipse cx="501.7" cy="136.5" rx="12.6" ry="7.3" transform="rotate(10 501.7 136.5)"/><ellipse cx="558.4" cy="4.2" rx="16.8" ry="8.4" transform="rotate(25 558.4 4.2)"/><ellipse cx="581.5" cy="12.6" rx="14.7" ry="9.4"/><ellipse cx="583.6" cy="119.7" rx="12.6" ry="15.7"/><ellipse cx="514.3" cy="40.9" rx="5.9" ry="2.9"/><ellipse cx="480.7" cy="18.9" rx="8.4" ry="4.2"/></g>
<g transform="translate(327.1,96.1)"><path d="M-5,0C-5,-4 -2,-8 3.4,-9.6L3.7,-8.1C1.5,-7.4 0.3,-6.3 0,-5A5,5 0 0 1 5,0C5,4 2,8 -3.4,9.6L-3.7,8.1C-1.5,7.4 -0.3,6.3 0,5A5,5 0 0 1 -5,0Z" fill="#E60000" stroke="#000" stroke-width="0.9" stroke-linejoin="round"/><text x="0" y="2.9" font-size="8" font-weight="bold" style="fill:#fff" text-anchor="middle">E</text></g>
<g transform="translate(472.4,54.2)"><path d="M-5,0C-5,-4 -2,-8 3.4,-9.6L3.7,-8.1C1.5,-7.4 0.3,-6.3 0,-5A5,5 0 0 1 5,0C5,4 2,8 -3.4,9.6L-3.7,8.1C-1.5,7.4 -0.3,6.3 0,5A5,5 0 0 1 -5,0Z" fill="#E60000" stroke="#000" stroke-width="0.9" stroke-linejoin="round"/><text x="0" y="2.9" font-size="8" font-weight="bold" style="fill:#fff" text-anchor="middle">A</text></g>
</g>
<path d="M102.4,45.7v-6.0M102.4,186.5v6.0M120,45.7v-3.1M120,186.5v3.1M137.6,45.7v-3.1M137.6,186.5v3.1M155.2,45.7v-3.1M155.2,186.5v3.1M172.8,45.7v-3.1M172.8,186.5v3.1M190.4,45.7v-3.1M190.4,186.5v3.1M208,45.7v-6.0M208,186.5v6.0M225.6,45.7v-3.1M225.6,186.5v3.1M243.2,45.7v-3.1M243.2,186.5v3.1M260.8,45.7v-3.1M260.8,186.5v3.1M278.4,45.7v-3.1M278.4,186.5v3.1M296,45.7v-3.1M296,186.5v3.1M313.6,45.7v-6.0M313.6,186.5v6.0M331.2,45.7v-3.1M331.2,186.5v3.1M348.8,45.7v-3.1M348.8,186.5v3.1M366.4,45.7v-3.1M366.4,186.5v3.1M384,45.7v-3.1M384,186.5v3.1M401.6,45.7v-3.1M401.6,186.5v3.1M419.2,45.7v-6.0M419.2,186.5v6.0M436.8,45.7v-3.1M436.8,186.5v3.1M454.4,45.7v-3.1M454.4,186.5v3.1M472,45.7v-3.1M472,186.5v3.1M489.6,45.7v-3.1M489.6,186.5v3.1M507.2,45.7v-3.1M507.2,186.5v3.1M524.8,45.7v-6.0M524.8,186.5v6.0M542.4,45.7v-3.1M542.4,186.5v3.1M560,45.7v-3.1M560,186.5v3.1M577.6,45.7v-3.1M577.6,186.5v3.1M595.2,45.7v-3.1M595.2,186.5v3.1M612.8,45.7v-3.1M612.8,186.5v3.1M630.4,45.7v-6.0M630.4,186.5v6.0M648,45.7v-3.1M648,186.5v3.1M665.6,45.7v-3.1M665.6,186.5v3.1M683.2,45.7v-3.1M683.2,186.5v3.1M700.8,45.7v-3.1M700.8,186.5v3.1M718.4,45.7v-3.1M718.4,186.5v3.1M736,45.7v-6.0M736,186.5v6.0M102.4,45.7h-3.1M736,45.7h3.1M102.4,63.3h-6.0M736,63.3h6.0M102.4,80.9h-3.1M736,80.9h3.1M102.4,98.5h-3.1M736,98.5h3.1M102.4,116.1h-6.0M736,116.1h6.0M102.4,133.7h-3.1M736,133.7h3.1M102.4,151.3h-3.1M736,151.3h3.1M102.4,168.9h-6.0M736,168.9h6.0M102.4,186.5h-3.1M736,186.5h3.1" stroke="#000" stroke-width="1.9" stroke-linecap="round" fill="none"/>
<path d="M100.9,45.7H737.5M100.9,186.5H737.5" stroke="#000" stroke-width="2.2" fill="none"/>
<path d="M102.4,44.7V187.5M736,44.7V187.5" stroke="#000" stroke-width="3" fill="none"/>
<!-- panel 2 -->
<g transform="translate(102.4,268)" clip-path="url(#pc)">
<rect x="0" y="0" width="633.6" height="140.8" fill="#F8F8F8"/>
<path d="M102.1,59 101.9,58 103,56.6 104,56.5 107,57.4 114,54.6 118,51 117.9,45 115.1,40 112.5,37 110.9,34 109.2,22 109.9,10 112.9,5 111.7,0 136.6,0 138,3.4 141.5,7 142.8,9 144.1,14 144.4,19 145.4,21 150,26.7 155,30.6 157.6,32 158.5,33 158.9,35 158.6,38 156.2,41 156.1,42 157,43.1 162,43.8 166.2,43 166.8,42 167.5,38 172,34.8 173,33.5 174.4,30 178.5,28 180.7,24 187.8,19 190,14.3 194,7.7 196,6.9 199,6.9 200,6.5 203,3.8 205,3 206,2 206.2,0 252,0 253.3,4 253.2,9 252,12.2 249.3,16 248.8,20 248,21.7 247,22.4 240,21.1 238.2,22 235,25.1 233,26.1 227,27.9 221.7,28 216.6,29 216.1,30 217.4,33 217.2,35 215.6,39 212,42.5 210,42.4 205,39.1 202,38.5 200,39.3 192,44.8 190,44.9 184,43.8 182,44.4 179,46.2 174,46.4 173,47 171.9,52 166.8,57 163,58.7 154,60.1 150,59.4 147.5,58 146,56 141,54.9 139.9,53 139.8,49 139.3,48 138,47.2 137,47.4 133,50.1 131.3,53 132.2,55 135.3,58 137.6,61 138.4,63 138.3,64 137,65.4 133,66.6 130,66.5 125,64.6 121,65.8 113,67.2 111,67.1 105.9,64ZM365.9,7 365,9.3 362,11.6 357,12.7 348,17.5 341,19.5 329,15.8 319,14.5 307.2,4 301.4,0 362.8,0 365.1,3 365.8,5ZM474.1,44 472,45.4 469,45.7 465,48.1 460,48.5 459,48.3 455,45.2 453,44.2 447,44.9 446,44.1 444,40.6 438.1,33 433,31.5 422,26.4 419.6,22 419.6,19 420.9,17 423,15.1 425,14 430,12.5 433,10 441,5 444.6,2 445.3,0 446.7,0 446.3,2 448,3.5 453,5.9 454.2,9 457,12 458.6,13 462,13.7 471,17.3 473,18.7 476,22 476.2,24 474.5,28 474.9,32 473.4,37 474.3,43ZM514.6,21 515.5,19 519.6,16 522.4,12 524,11.3 527,11.5 527.6,11 530,4.4 529.5,0 578.3,0 571.5,6 572.6,9 572.4,10 568.4,17 563.8,22 562.6,27 564.5,30 564.6,31 563,34 562.2,37 559,40.3 555,43.1 550.1,50 547.3,53 546,53.7 541,53.2 538,51.7 536.3,49 532.9,46 530.8,40 528,35.8 525,32.4 521.4,30ZM16,24.6 15.1,23 15.1,21 17.5,18 17.7,14 18.7,11 19.1,7 21,2 23,1.2 28,2.9 32,2 33,2.4 33.8,4 33.5,5 32.1,6 29,6.8 27.4,8 27.7,13 26.7,18 26.7,22 26.1,23 25,23.6 22,23.9 18,25.1ZM569,5.2 568,2.9 567,2 567,4 568,5.1ZM588.7,10 588.6,8 589.9,5 591,3.9 593,3 597,3.4 602,3 604.6,4 605.4,5 605,7 603,9.2 601,10.4 599,10.3 595,8.7 593.7,9 591,11.1 589.9,11ZM294.3,140 295.5,136 296.7,134 302,129.4 303,129.2 304,129.7 305.2,133 307,134.2 309.7,134 311,132 311.3,130 310,128.4 302,127.7 300,126.4 297.6,123 297.2,121 298,119.5 302,118 302.7,117 302.7,116 302,115 298,114.9 297,114.4 295.8,113 294.4,109 292,106.6 290,105.9 286,105.6 284,104.6 280.8,101 279.6,96 277,94.1 273,93.1 269,93.6 266,93.2 263,94.3 258.4,93 257.5,92 260.8,86 265,81.9 267,81.2 270,81.5 271,81 272,79 273,71.4 273.4,71 278,70.3 283,72.3 290,73.2 298.9,78 303,79.2 309,82 311,94 310.8,101 312.3,103 315,104.8 318,106.1 320,106.3 331.9,103 333.9,101 334.3,97 330.1,90 325,86.9 320,86.2 317,85.3 313,82.4 310.1,81 308.9,78 306,74 306.5,71 306.6,66 309.6,60 310.2,55 311.1,53 313.5,50 315,45.1 317.7,42 318.2,39 319,37.4 320,36.8 324,36.4 336,31.8 348,25.7 350,25.3 358,25.3 360,25.7 361.9,27 364,29.6 365,30.2 366,30.1 369,27.7 375,21.2 380,18.4 383,17.7 392,21.1 394.4,20 400,15.2 401,14.9 402,15.2 402.2,16 401.8,18 403.5,23 403.2,26 400.9,29 397.4,32 392,35.5 385.5,39 384.5,42 385.1,48 384,50 376,55 370,56.6 366.2,59 361,60.9 357,63 351.1,69 349.8,71 349.4,76 350.8,82 350.7,88 348,92.1 345.6,94 345.3,95 351.8,100 358,107.8 362,109.1 366.4,113 370.8,125 373,129.8 372.2,135 373.3,139 372.5,140 356.5,140 355,139.5 353.6,140ZM31,30.5 27.9,29 27.2,27 28,25.8 30,26.1 31.1,27 31.8,29ZM1.8,44 2,42 3.3,39 5.1,36 7,33.8 10,31.6 16,30.1 18,30.2 23,32.3 30,33.2 33,32 38,32.3 43,31.1 46,31.4 48,32.3 53,36 54.6,38 55.5,41 55,43 54,44.5 50,48.2 46,49.1 44,50.3 42,50.7 38,50.1 35,48.7 34,49.2 31,53.7 25,56.8 16,55.5 10,52.9 4.1,49 2.7,47ZM368.3,48 370,48.3 375,46.4 375.9,44 375.3,42 374,41.1 372,40.9 368,45.3 367.7,47ZM546,48 546.1,47 545,45.9 543.4,46 542.7,47 544,48.4 545,48.6ZM288,56 287.7,57 284,58 281,59.8 277,61.4 270,65.5 265,65.8 262,66.5 254,64.8 243,63.7 239.1,62 236,59.6 235,59.3 230,60 228,59.6 225.8,58 224.7,55 224.9,54 228.3,51 230,50.3 233.3,51 238,55.4 240,54.3 241.9,52 247.6,50 268,46.2 284.2,51 287,53ZM202,58.9 201,59 199.4,57 199,55 200,53.9 202,54.2 203,55.8 203,58ZM328,58 328,54.7 327,53.7 326,53.4 322.3,54 320.8,55 320.5,56 321.3,58 324,59.9 326,59.7ZM503.8,140 432.2,140 427.4,136 426.3,134 426,132.2 426.4,130 429.5,126 430.5,118 430,116 426,111.7 424,108.5 418,104.2 416.9,100 412,96.3 403,93.7 399.4,91 396.6,88 393,86.3 390,83 386,80 385,78 383.6,71 383.7,69 384.5,67 386,65.1 389,63 400,59.3 404,59.5 413.6,62 419.6,66 421,70.1 424.4,74 425.2,80 424.4,88 425.4,91 425.3,95 426.7,97 430,99 431.8,102 434,102.1 435,101.6 438.6,97 439.9,92 441,91.4 445,93.8 450,94.8 453,98.2 457,100.5 459,100.9 463,100.4 467.5,102 469,103 471.2,106 473,106.2 477,104.8 480,105.6 482,107.3 487.2,110 489.4,112 490.9,115 491.8,119 494.3,126 498.9,132 501,137ZM271,70.3 270,70.3 269,69.4 269,67.8 270,67.9 271,69 271.4,70ZM546,140 547.8,138 547.9,137 546.5,135 541.8,131 538.6,122 534.5,113 534.3,111 535.3,108 535.4,106 532.3,95 533.6,91 534.8,85 538.6,80 539,75 540,74.5 542.1,75 543.2,76 545,79 547,80.4 556,81.8 564,87.2 567,88 569,87.4 572,85.6 581,83.5 587,81 595.3,81 596.9,80 599,76.6 605,73.1 607,72.7 611.2,73 614,71.9 619,71 623,68.9 627.1,71 631,72.3 633,73.9 633,86.3 631,87.6 629,88.1 622,87.1 616,88.6 612,87.8 610,88.7 606.6,93 606.1,99 602.6,105 600,108 599.5,111 598.6,113 591,120.9 582,128.5 579.6,130 578.9,131 577.4,136 575.2,140ZM19.1,75 18,76.1 16,76.9 12,75.6 10.8,74 10.8,71 12,69.9 14,70.3 18.2,73 19.1,74ZM0,85.5 0,74.6 1.6,77 2.1,79 1.3,83ZM256.8,93 255.5,95 252,97.2 249,100.2 244,102 242.4,104 240.9,111 240.4,116 237.7,128 234.8,135 234.1,140 223.4,140 223,139.5 221.8,140 210.7,140 207.6,136 201,132.8 199,131.4 190.5,121 186.7,115 183.6,105 183.9,103 185.2,101 189.7,98 194,96.9 200,97.6 208,97 215,95.9 218,94.3 221,90.6 228,86.6 230,86.9 233,90 235,90.4 238,88.1 242,86.9 245,85.5 248,84.9 251,85 253.6,87 255,90.2 256.7,92ZM51.4,140 22.6,140 22.9,138 24.8,134 23.9,132 20.4,129 19.5,127 19.8,121 22.4,117 23.1,115 21,110.3 20.5,108 19.4,107 16,106.5 13.1,105 7,103.1 4.8,102 3.2,100 3.2,99 4.6,97 6.3,96 11,94.6 19,93.8 22,94.6 24.8,97 26,100.7 27.8,103 26.2,108 31,109.7 36,109.3 41,110.3 46.7,114 52.7,119 53.8,124 55.7,127 56.3,129 55.4,133ZM135.1,140 90.5,140 89.4,136 86.9,132 86.9,125 85.1,120 84.6,116 84.7,114 87.2,103 88.9,100 91,98.5 93,97.7 97,97.9 103,99.9 111,100.8 115.8,104 117.3,106 118.2,109 126,125.7 127.3,128 132,133 134.3,137ZM312,122.4 312.7,121 312.5,117 311,116 309,116.5 307.5,119 308,121 309,122.3 310,122.7Z" fill="#FDDBC7" fill-rule="evenodd"/>
<path d="M129,42.4 126,42 122,40.4 115.8,34 114,30 112.5,22 112.8,16 114,13.1 116,10.6 121.3,6 125.5,0 130.8,0 133.1,4 138.7,10 140.8,18 143.6,26 143.6,28 142.2,33 139,39.4 136.5,41ZM200.5,26 200.4,23 204.4,14 206,12.4 209.3,11 212,7.5 214,6.3 218,4.8 223.6,4 228,1 230.2,0 238,0.1 240,1 243,3.9 246,4.4 246.1,6 245.3,9 243,12.5 240,14.6 231,19.1 226,22.7 220,23.7 214,23.1 209,23.3 207.1,24 203,27.3 201.2,27ZM353.3,6 352,9 348,12.5 342,14.4 338,14.6 323,11.6 314,6.1 306.6,0 351.1,0 352.9,4ZM548,25.2 546,25.2 540,21.7 539,22 538.2,24 537,24.9 535,24 534.7,23 536.5,20 538,14 537.6,11 536,8 535.7,6 536.2,4 538.7,0 548.3,0 558,6.9 560.9,11 560.8,14 557.3,19 553,21.5ZM469.7,32 468,34.2 463,35.2 459,38.5 455,38.5 446,34.8 442.1,30 439.7,28 438.9,26 440,24 444.7,22 447,20 453,20.7 459,19.5 462,20.7 466,20.8 468,21.5 469.4,23 469.8,25ZM384,33.1 378,32.6 375.8,31 374.8,29 376.1,26 379,23.5 381,22.4 383,22.5 385.9,24 387,25 388,27 387.7,29 385.7,32ZM345,64.1 343.7,63 342.7,59 341.5,57 336,54.2 335.3,53 335.5,44 336,41 338.7,36 340.8,34 343,33.8 346,34.6 348,34.7 352,32.1 354,32 359,35.2 359.8,37 359.7,38 357.1,41 353.4,44 352.9,49 353.4,56 349.6,60 348,63.2 347,64ZM47.3,38 47,40 46,41.5 43,41.1 41.7,40 42,38.5 44,37.3 46,37ZM250.9,59 251,58 254.1,55 259,54.3 263.1,52 265.4,52 266.2,53 263,56.3 261.5,60 260,61.2 257,61.2ZM271,59.1 270,59.4 269.4,59 269.8,58 270.9,58ZM392,73.7 391.4,72 391.6,71 393,69.5 397,68.2 401,65.9 403,66.1 404.2,67 404.4,69 401,73.5 396,75 394,74.8ZM343.8,83 343,83.7 342,83.7 340,82.5 338.7,81 336.9,77 335,75.3 332.1,74 331.7,73 332,72.6 333,72.6 335,73.4 339,72.5 341.6,73 342.6,75 344,80.6ZM631.1,80 630.8,81 629,82.2 627,82.4 624,81.9 620,82.5 618,81.8 617,80 617.7,78 619,76.8 621,75.7 624,75 627,75.5 629,76.5 630.4,78ZM414,86.3 412.9,86 412.7,83 413,80.9 414,79.8 416,81.6 416.7,84 416,85.4ZM304.1,96 303,97.1 298,97.8 294,96.4 288,96.4 287,96 286.2,95 286,92 285.5,91 282.5,89 281.6,88 281.6,87 283,84.7 284,84.2 288,83.9 292,81.6 294,81.5 296,82.1 299.1,84 300.7,86 301.5,91 303.8,94ZM546.2,127 544.7,124 544,118 544.7,112 543.6,106 544.4,104 547.2,100 549.4,94 551,92.1 554,91.6 560,93.9 564,94.4 567,93.7 572,89.7 574,88.9 585,88.7 590,87.5 595,87.5 596.7,89 597.7,91 597.8,93 595.4,100 594.6,109 592,115 590,117.2 586,120 582,123.5 574.6,127 573.6,128 572,131.8 571,132.8 563,135.9 559,135.8 558,135.2 556,132.8 551,129.6 548,128.4ZM236,121 232.5,128 229,130.5 227,131.3 222,131.4 211,129.3 207,129.4 205,128.9 201.1,127 196,122.9 194.4,121 190.2,113 189.8,107 191,105 194,103.3 198,103.3 203,101.7 210,101.3 215,100.5 226,100.7 232,104.3 235.1,109 236.5,114ZM130.5,140 103.6,140 100.4,135 95,132.4 93,130 92.1,128 89.8,117 90.6,112 92.5,108 93.1,105 94,104.2 102,103.7 109,104.3 113,106.2 117.9,114 119.5,119 122.7,126 124.3,132 128,134.4 129,135.6 130.3,138ZM362.8,129 362,130.2 360,131.7 353,134.1 348,136.9 344.2,140 335.5,140 331,136.9 323,127.6 321.4,123 321.2,120 324.3,111 326.8,109 331,107.7 336,107.3 340,106.1 347,106.4 351,108.8 356,113 358,113.8 361,114.2 362.2,115 364.1,120ZM495,140 438.5,140 437.2,138 435.1,133 433.6,131 433.2,129 436,119.6 438,117.6 441,115.8 449,113.3 460,111.8 462,112.1 466,113.9 468,113.7 472,112 474,111.9 478,114.3 482.4,116 488.1,123 494.8,135ZM48.4,131 47,132.2 45,133 38,133.7 36,133.3 28,126.5 26.4,122 26.8,119 29,116.4 31,115.3 39,115 43,116.3 45.2,118 48.9,123 49.4,128Z" fill="#F4A582" fill-rule="evenodd"/>
<path d="M349.5,5 348.4,8 346,10.2 341,11.8 336,11.6 331,10.3 324,9.2 315.4,4 311,0 347.6,0 348.9,2ZM210.9,17 212,15 218.6,10 224,7.8 230,4.4 232,4.3 236,5.5 238,6.9 238.7,8 238.6,10 237.1,12 231,14.9 224,19.8 219.7,20ZM129,38 126,37.6 124,36.8 119,32 116.4,26 115.4,21 116,17.6 118,14.7 120,13.1 124,11.5 129,8.2 131,8.6 134.6,12 139.3,21 140.4,25 139.4,30 137,34 132.9,37ZM545,13.5 543.7,12 543.7,10 545,8.6 546,8.2 547,8.5 547.8,10 547.6,12 547,13ZM550.5,124 549.9,123 549.8,120 550.1,118 551.5,115 551.4,111 552,105.7 552.9,104 557,99 559,98.2 566,97.2 569,95.7 574,92.3 577,91.7 580,92 582.9,93 586.9,97 590,99.1 591,101.6 591.2,105 590.8,108 589.3,113 588,114.7 585,116.7 580,121.4 563,127.4 561,126.9 558,124.9 553,125.1ZM232.8,118 232,119.9 228.6,125 227,126.3 224,127.6 222,127.7 217,127 212,124.9 205,125.2 203,124.3 197,120 194.4,114 194.1,111 195,109.1 196,108.4 205,105 225,104 228,105.3 230.4,108 232.5,113ZM120,139 115,139.9 112,139.3 108,137 102,131.8 98,130.1 97,129.1 95.8,127 94.9,124 93.7,116 94.2,113 96,110.1 97,109.5 101,109.1 105,107.6 108,107.7 110,108.7 113.8,113 115,115 115.8,119 118.1,123 120,127.7 120.4,133 121.4,137 121.1,138ZM327.7,125 328.2,121 330.7,117 332,113.7 336,114.7 339,114.9 347,112.5 349,112.6 357.8,118 358.9,120 358.7,124 357.3,126 352,129.3 344,132.7 341.6,135 340,135.8 337,135.3 332,132.9 329.8,130ZM490.7,139 490.4,140 443.9,140 441,135.6 439.5,131 439.3,129 441,124 442.2,122 443.7,121 450,118.9 459,116.7 466,118.7 474,118.7 481,120.8 485,123.9 487,129 489.9,134ZM43.9,125 42.6,127 41,127.9 37,127.4 32.7,125 31.3,123 31,121 31.5,120 33,119.2 40,119.4 42.3,121 43.5,123Z" fill="#D6604D" fill-rule="evenodd"/>
<path d="M346.9,5 346,6.7 344,8.1 340,9.3 336,9.4 324,6.3 318.2,2 316.8,0 344.4,0 346.8,3ZM130,34.1 126,33.1 121.7,30 119.9,27 118.5,21 119,19 120,17.8 127,13.5 129,12.9 131,13.8 135,18.3 137.4,23 137.8,25 137.1,28 135,31.6 133,33.3ZM557.5,120 556.4,118 555.3,111 557.9,104 560,101.6 567,99.6 571,97.7 575,95.1 577,94.8 579,95.2 581,96.3 586.6,102 587.6,105 586.8,109 582.9,114 578,118.9 571,121.3 564,122.7 561,122.1ZM229.1,117 226.9,122 226,123 224,124.1 221,124.2 217,122.7 213,122 206,122.4 203,121.3 200,119 198.8,117 197.9,113 198.6,111 199.7,110 205,107.8 222,107.4 224,107.9 225.3,109 229,115ZM115,132.6 113,133.3 109,130.2 100,126.4 98.6,124 98,121.3 98.2,118 99,116.4 100,115.6 102,115.2 110,116.1 111,118 112,122.9 115.7,129 115.9,131ZM334.6,128 333.5,123 333.6,122 335,120.6 345,117.3 348.2,118 350,120 350.2,121 349.6,123 347.5,126 346,127.3 344,128.1 338,129 336,128.9ZM487,137 486.1,139 484.9,140 451.6,140 450,138.6 447,137.6 446,135.3 445.5,132 446.5,130 450,126.6 452,122.8 456,121 460,120.5 468,122.7 477.3,124 480.4,125 482,126.5 483.8,131 486.2,134Z" fill="#B2182B" fill-rule="evenodd"/>
<path d="M343.9,4 343.4,5 341.4,6 337.9,7 335,7.1 325,3.6 323.1,2 322.6,0 341.3,0 343.1,2ZM131,30.9 129,30.8 126,29.2 124.7,28 123.7,26 123.5,24 124,21.7 126,19.2 128,17.9 129.4,18 131.1,19 132.1,20 133,22.2 133.8,26 133.6,28 132.6,30ZM562.6,118 561.3,116 560.6,113 560.9,108 562,106.5 567,104.7 571.4,101 576,98.5 579,99.3 583,103.1 583.9,105 583.5,107 580.8,111 577,114.2 571,117.5 568,117.6 564,118.6ZM223.6,117 223,118.4 222,118.8 218,117.5 214,118.2 206,117.9 204,116.6 203.1,115 202.9,113 204,111.3 206,110.6 214,111 219,110.4 220.6,111 223.1,115ZM481.1,136 480.6,137 477.2,140 460.5,140 456,138.2 454.4,137 452.9,133 452.8,131 455,127.9 458.3,127 461,124.4 463,124.2 471,126.9 477.4,130 478.4,131Z" fill="#67001F" fill-rule="evenodd"/>
<path d="M81,140 62.3,140 62.1,138 63.4,134 63.7,129 62.1,126 58.9,122 58.2,118 57.4,116 56,114.8 52,113.1 49,110.6 46.9,108 42,105.8 37.2,102 33.1,98 30.5,94 30.5,93 32,90.2 33,86 35,83 38,80.4 40,79.7 43,82.3 44,82.6 45.4,82 45.7,78 47.7,70 49,67.3 52,64.4 54.3,64 54.7,63 52.7,60 52.7,57 55.5,50 60.9,41 59.4,34 58.1,32 52,29.9 45,25 44.8,24 45.6,21 45.9,17 45.5,11 42.5,3 40,0 100.9,0 101.1,4 102.8,8 103.5,11 106,16 106.8,26 106.5,32 108,43 107.5,44 103,46 101,47.7 98,46.6 90,45.8 81,48.6 78.1,51 77.4,53 79,68 77.7,72 76,73.1 71,73.9 69,73.6 66,72.2 64,72.3 62.7,73 62,79 64.5,87 64,91.2 68.5,98 72.1,101 75,105 77.4,110 79.7,128 81.2,131 81,132.6 79.3,136ZM189.2,0 187.4,8 185,11.5 182.3,14 175.2,18 171.7,23 169.5,25 167,26.4 165,26.8 158.8,26 157,24.8 153.5,21 148.8,18 148.2,17 147.2,8 146.1,6 143.1,3 141.7,0ZM308.6,12 307,14 301,15.8 296.2,19 294.1,23 292,23.8 288,22 282,21.1 279,22.4 277,22.5 274,19.5 269,18.4 264,15.3 259,13.3 258,12 257.6,9 258.4,6 263.9,0 295.9,0 301,2.3 304.7,5 307.4,8 308.3,10ZM434.2,2 433.6,4 432,5.3 428,6.3 424,8.8 417,10.2 412,12.1 407,10.7 403,10.3 393,11.7 391,11.6 382,8.7 380,7.2 378,4.8 374.8,3 376.2,0 434,0ZM527.6,53 524,54.7 522,56.8 516,57.8 510,56.7 507,55.6 499.5,51 492,48.9 490.5,48 489.2,46 488,40.9 484,36 483.6,33 483.9,31 485.5,29 489,26.2 493,25.5 497,22.7 502.8,20 501.7,19 496,18.5 491,16.5 486,16.2 484,15.5 482,14.1 476.7,9 474.4,6 474.1,4 478.9,0 508.2,0 512,3.6 516,4.3 516.2,5 515.8,6 511.2,12 508.9,17 508,18.2 505.1,20 511.8,26 515.3,31 522.9,37 524.6,39 526.2,42 526.8,48 528.4,51ZM624.2,0 622,2.3 619,2.9 616,2 613.1,0ZM469.5,7 468,7.9 466,7.5 464.6,6 464.5,4 466,3.2 467.8,4 469.6,6ZM546,68.8 545.4,67 545.6,65 547,62.2 552,58 555,53.6 558.4,51 562,47 567,43.5 572,39 576.4,34 577.4,32 578.8,25 581.7,21 581.8,17 583,15.1 585,15.5 590,18 592,18.5 602,17.7 606,18.5 611,18.7 615,20.6 620,24.9 626,26.4 626.9,25 627.3,22 628.3,20 630,18.6 633,17.8 633,29.8 625,31.6 623.3,34 622.4,38 619.5,41 619.3,42 620,43.1 624,44.8 629.3,50 630.7,56 630.4,58 628.9,60 627,60.5 624,60 621,60.3 620,59.9 617,56.5 616,56.7 614,59.7 608.9,63 605,64.8 599.7,66 596.3,69 589,68.9 585,70.4 581,70.1 578,71.1 574,69.5 572,69.5 569.6,71 567,74.3 566,74.9 563.3,74 563,73.4 562,74.2 561,77 560,78.1 558.2,78 557.2,77 555,72.5 554,71.9 550,71.2ZM0,29.6 0,17.6 3,17.2 5,17.6 5.7,19 4.8,21 4,25.9 3,27.3ZM280.6,38 280.6,36 281.5,34 287,27.4 290,25.6 293,24.6 297,24.6 304,27.5 308,27.4 309,26.8 311.2,22 313,20.5 323,18.3 327,17.9 330,18.5 335,20.7 338.4,23 339,24 338.9,25 338,26.2 328,31.2 325,31.7 319,31 313,31.6 312.2,36 310,38.9 304,42.3 300,45.6 297,46.8 295,46.8 291,45.3 287,45.4 285,44.8 283.3,43ZM368,23.7 367,24.4 364.9,24 360.4,20 360.2,19 360.8,18 362,17.5 364,17.5 367,18.1 368.9,19 369.3,21ZM533.7,140 513.5,140 507.5,136 504.9,132 502.3,126 499.7,122 499,119 499.3,115 497,111.6 495.5,107 492,104 490.6,102 490.2,100 491.8,95 491,92.9 489,92.7 486,93.9 484,93.4 479,90.5 473,90.9 471.4,90 466.7,85 466,82.7 465,82.5 462,86.1 460,87.7 456,88.5 453.3,88 451.6,86 451.4,82 450.3,80 450.2,79 451.2,76 450,75.8 444,77.1 440,74.2 434,72.3 432,71 431.6,69 432.2,67 433,65.9 436.4,65 436.5,64 436,63 434,62.3 432,63.4 431,63.3 428.7,62 426,58.9 424,57.9 417,57 411,57.1 405,55.7 400,55.5 392,54.4 391,53.7 390.6,52 391.3,45 392.1,43 397.6,37 401,34.4 410,29 412,28.3 414,28.3 417,29.2 421,31.8 425.8,34 430,36.9 434.7,39 435.6,41 435,46 436,46.9 439,47.9 439.5,49 439.6,52 441,53.6 443,54.7 447,54.4 451,52.5 455,54.3 459,55 461,54.7 465,53 469,53.4 473,53.3 476,54.4 483,58.6 485,59.3 491,57.6 495,58.4 497,59.9 500,63.4 503,64.4 508,64.5 510,65.5 517.4,72 521.9,78 525.2,81 525,82.4 522.4,86 522.5,88 524.1,92 523,95.3 522.4,99 523.3,101 529,105.5 530,107 530.7,112 535.4,128 535,136ZM266.9,39 266,42 263.8,44 257.8,46 253,46.9 240,45.8 233,43.1 231.3,41 231.6,40 238,34.6 248,30.7 252,30.5 255,29.6 261.6,33 266.6,38ZM198.3,140 139.1,140 137.6,135 130.2,127 126.4,121 122.6,110 119,102.3 115.4,99 112,96.6 110,95.7 104,94.3 101.2,92 100.8,91 100.9,89 104.6,83 104.5,82 100,79 95,78.4 92,76.2 90.7,73 92.6,68 93.4,67 96,65.6 98,65.6 100,66.5 105.7,71 106.5,73 105.9,75 107,75.9 113,73.6 118,70.8 124,69.7 126,70.1 130,73.9 132,74.8 136,75.5 141,74.9 143,76.3 144,76.3 145.1,75 145.3,70 146,67.1 148,64.5 165,62 170,60.6 173,60.9 175,60 176,60.4 178,64.1 179,64.6 182,64.8 183.6,66 184.2,68 183.8,69 180.6,71 180.9,75 183,77.1 188,78.3 192.4,81 193.3,83 193.4,87 194.1,90 193.1,92 191.4,93 188,93.9 180.4,99 176.7,103 176.7,105 179.8,109 181.8,114 188.3,124 192.7,137 194,138.3 197,138.5ZM423.9,140 383,140 372.8,123 369.7,112 367.9,108 367,101 364,98.9 359,97.9 357.1,95 357.4,93 359.2,90 359.6,88 357.6,85 355.2,79 354.5,75 355.7,72 359,67.5 361,66.4 366,65.6 372,63.5 376,63.4 378.1,64 378.9,66 378.6,70 379,74 378.5,78 377.7,80 373,84 370.7,87 371.5,93 371.2,96 371.6,97 374,97.2 377,96.2 379.8,94 382.2,90 384,88.9 386,88.7 387,89.7 387.2,92 385.3,97 387.6,99 390,99.7 394,98.3 398,98.4 402,99.3 404,100.4 405,102 404.5,106 405,107 408,108.3 410,110.2 413,112.1 416,117.3 420,120.3 422,123.2 422.7,125 422.4,131 423.7,137ZM223.4,80 222.1,81 218,82.3 214,87.2 210,86.3 208,85 206.1,83 205,81 204.8,77 200.2,72 200.1,70 200.8,68 203,66.1 207,65.1 215,64.9 220.2,67 220.8,68 221.1,73 223.5,79ZM240,77.4 238.3,75 237.5,73 239,69.8 247,68.4 248.9,69 249.1,70 248.3,72 244,77.2 242,78.2ZM329.7,99 328,100.5 323.6,102 321,102.1 317,101.1 315,99.6 314.2,98 313.9,95 315.1,92 317,90.7 323,90.3 325,90.7 327,91.8 328,93 329.8,98ZM290.1,133 288,135.4 282.2,140 244.9,140 241.8,137 240.6,134 241.7,129 241.3,123 243,115.8 245.3,111 249,106.4 255,102.8 257,103.8 259.4,107 261,108.3 265,108.6 268,110.8 269,111 270,110.6 270.8,109 270.5,105 271,103 272,101.6 273,101.4 274.2,102 275.5,104 275.7,113 276.5,115 277,115.2 283,113.3 287,111.2 288,111.4 289,112.4 289.2,115 291.3,119 292.8,125 292.4,128ZM633,110.4 633,140 583.3,140 583.8,135 588.2,128 594,122 602.9,115 605.3,112 611,108.6 613,105.9 614,105.4 616,105.7 624,110.2 626,110.2 630,109ZM0,140 0,110.8 4,110.9 5,111.7 7,115.7 7.8,116 7,116.4 6.3,118 6.5,120 7,121.1 10.6,125 11,127 10.5,129 6,135.9 1.9,140ZM10.3,116 10,116.4 8.2,116Z" fill="#D1E5F0" fill-rule="evenodd"/>
<path d="M99.6,39 98,40.2 95,41 89,40.6 83,41.6 81,41.4 79,40.5 71,34.1 67,33.1 66.3,32 65.4,29 64.2,28 59,26.7 57,25.6 54.2,23 53.1,21 53.4,16 52.3,12 51.6,6 49.8,2 49.9,0 86.7,0 91.5,4 94,8.6 99.5,14 101.5,18 102.4,22 102.8,28 102,32.2ZM177.9,7 173,12.3 168,16.7 166,18 164,18.6 155,14.8 153.7,12 152.4,3 153.6,1 155.9,0 173.5,0 175,1 177.3,4 178.1,6ZM301.2,8 299,10.5 291,13.9 279,14.5 269,12.9 266,11 265.2,10 264.8,8 265.7,4 268,1.9 271.6,0 278,0 284.7,0 292,1.4 299.9,5 300.7,6ZM419.9,2 419.5,4 418.7,5 417,5.9 403,8.2 394,8.7 388,7.6 385,6.5 383.4,5 382.3,2 382.7,0 398,0 419.7,0ZM485,9 484.9,8 485.5,7 490,3.4 498,2.6 499,3 499.8,4 499.8,5 498,7.2 494.7,10 492.7,11 491,11.3 488.2,11 486,10.1ZM331.5,24 330.4,26 329,27.1 327,27.7 323,27.2 321.2,26 320.7,25 321,23.4 322,22.2 326,20.9 328,21 330,21.9ZM569.4,57 569.6,55 570.8,52 574.6,47 575.6,43 577,40.5 582,35.8 584.9,30 591,25 599,22.5 606,23.4 611.5,25 616.4,29 616.8,30 616.6,31 612.3,36 611.3,38 610.5,42 610.9,46 610.5,48 608,52 605,54.5 603,54.9 597,54.2 595,54.5 590,57.2 584.7,59 581,61.7 575,60.2 570.2,58ZM518.6,43 516,46.6 514,48.4 511,49.9 508,49.9 501,46.8 498,44.9 493,39 492.1,36 492.5,34 494.4,31 497,29.6 501,29.1 507,29.9 510,31.4 517.7,38 519.1,40 519.2,41ZM294,34 293.2,32 293.9,31 295,30.7 296.8,31 297.4,32 296.9,33 295,34ZM255.7,42 254,43.1 252,43.1 251,42.6 247.6,38 247.3,37 248.5,36 251,35.3 253.7,36 255,37.7 256,40ZM414,42 412,42.8 410.4,42 410.2,41 411,39.2 412,39.1 413.9,41ZM464,70.4 462,68.9 461.1,66 462,63.5 464,62.4 465.4,63 465.6,64 465.4,69 465,69.9ZM373,78 371,79.3 369,80 363,79.6 361,78.5 360,77.3 359.6,76 359.9,74 361,71.9 363,69.9 367,69.2 370,69.6 373,71.2 374.4,73 374.1,76ZM181.3,134 180,135 175.5,136 172,138.4 170,138.7 162,137.7 151,138 147,137.5 145,136.4 142.4,133 139,130.7 133,125.5 130.5,122 128.5,117 127.7,113 128.4,108 127.4,105 129.2,102 129.2,100 127,94.6 121.2,92 119,90 116.6,89 116,88.2 115.4,85 115.8,83 118,82.3 122,83 127,81.5 133,81.9 137,84 139,84.4 145,83 152,83 160,85.4 166,85.1 172,88 173.1,90 172.5,93 169,97 164.9,99 163.9,100 164,101 167,103.1 170,106.2 174,108.9 178,115.9 181.7,120 183.3,124 183.6,126 183.1,129ZM500,99.8 498.1,98 498.4,96 502,90.1 505,87.8 507,84.5 508,84.3 509,85.3 510.3,88 514,90 515,91 515,92 513,97 512,98.3 510,99.6 505,99.6 502,100.2ZM136,99 135.1,98 134,98.2 133.1,99 133.1,100 134,100.5 135,100.4ZM72,124.2 70,124.2 67,123 65,121.6 64,120.2 63.3,117 63.9,111 59,108.5 57.6,107 57,104 58,100.6 60,100.1 63,101.6 64.4,104 66.2,110 70,111.6 73,114 73.6,116 73.5,121 73,123ZM419.2,140 388.7,140 380.1,130 375.4,122 374.3,119 373,110 373.5,108 376,105.9 380,105 384,105.4 391,105 398,106.8 399,107.5 403.9,113 411,118.3 416.7,125 419.5,137ZM526.4,140 521,139.7 516,135.6 511,132.9 509.3,131 508.4,129 508.1,124 507.1,119 507.7,110 509,108.2 516,105 518,105 525,110 527.4,113 529.1,117 530.5,123 530.8,128 529,135.9ZM257,138.2 254,138.3 249,135.8 247,134 246.4,132 244.8,123 245.2,118 247,115.3 252,111.7 257,111.4 260,112.3 266.2,118 268.4,123 267.8,130 266.9,132 260,137ZM633,121.1 633,134.3 631,137 626.7,140 592.6,140 591.8,139 591.3,136 592.1,131 593.9,127 596,124.8 609,115.2 615,113.6 625,115.3 627,116.2ZM0,133.3 0,122.2 1.5,125 1.8,127 1.3,131Z" fill="#92C5DE" fill-rule="evenodd"/>
<path d="M96.9,34 94,36 85,36.4 80,34.8 76.7,33 72.9,28 67,22.8 65,21.8 62,21.8 61,21.1 59,16 58.6,13 59.8,5 61,2 62,0.9 64,0.3 66,1 68,2.6 69,2.7 71,2.2 74.6,0 76.2,0 78.1,1 81,3.4 84,4.4 88,7.8 91.7,14 96.2,17 98,19.9 98.9,24 99,29 98.5,31ZM415.4,1 415.3,2 414,3.3 409,5 401,6.7 394,6.9 387,5 385.5,3 386,1.1 387,0 414.9,0ZM294.6,7 293.9,8 290.8,10 285,11.1 272.4,10 270.4,9 269.5,7 270.1,5 271.3,4 275,2.3 278,1.8 287,3.7 291.1,4 293.1,5ZM168.6,8 167.6,9 166,9.7 163,10.2 161,9.4 159,8 158.4,6 159,4.8 160,4.1 161.2,4 167.8,6 168.7,7ZM581.8,53 581.3,44 588,33.5 595,28.8 601,29.3 603,30 604.3,32 603.7,35 603.9,37 606,41 604.9,46 603.7,48 602,49.6 600,50.5 595,50.9 584,53.5ZM512.5,44 511,45.1 509,45.2 502,43.2 498.5,38 498.1,36 498.7,34 500,32.8 502,32.4 507,33.6 509,34.7 513,40 513.3,42ZM368.3,76 367,76.3 365.8,76 365.2,75 365.4,74 367,73.1 368,73.4 368.9,75ZM174.1,132 166,134.5 161,133.7 153,134.4 150,134.1 148,133.3 141,128.7 135.8,124 134.4,122 133.2,118 131.7,115 131.8,113 135.2,107 144,100.4 145,99.2 145.2,93 147.3,90 149,88.4 152,87.5 155,87.9 156.8,89 160.9,93 161.5,94 161,95 157.3,98 156.6,99 156.6,100 159.6,103 171.4,111 173,113 175,117.1 178.5,121 179.3,124 178.7,127 177,129.7ZM415.1,140 392.7,140 382.6,130 379.4,125 377.3,120 376.7,117 376.8,113 378,110.2 380,109.1 386,108.3 391,108.8 396,111.1 402.3,116 409,120 412.4,124 414.4,129 415.6,137ZM523,134.6 520,134.2 514,129.9 512.2,128 511.6,126 511,120 512,114.8 513.3,113 518,111.1 521,111.4 524,113 526,115.8 527.5,120 528,124 527.5,127 525,132.9ZM256,133.3 253,132.8 251,131.2 249.2,125 249.6,121 250.7,118 252.6,116 255,115.2 257,115.4 259.5,117 263.4,122 264.6,125 264.3,128 263,130.2 260,132.1ZM629.8,127 629.4,131 628.2,134 625,136.8 622.4,140 597.8,140 596.9,138 596.1,133 597,129 601,125.4 606,122.6 611,118.7 616,117.8 624,118.7 626,120.4Z" fill="#4393C3" fill-rule="evenodd"/>
<path d="M407.6,2 406.7,3 404.5,4 399,5 394,4.9 392,4.4 389.7,3 389.5,2 391,0 398,0 406.3,0 407.5,1ZM94,29.1 92.1,31 89,32.4 86,32.9 84,32.3 78.9,29 77.7,25 77,24 73,21.5 69.6,17 64.7,13 65.1,12 70,7.6 72,7.4 74,8.2 89.6,19 93.9,24 94.5,27ZM589,48.3 587.1,46 586.8,44 587.1,43 592.7,36 594,35.1 596,35.2 600.4,39 600.9,40 600.6,42 597.7,46 596.4,47 591,48.6ZM171.9,127 171,128.1 166,130.7 164,131.1 151,131.1 144,127.7 139.3,124 137,120.9 136.6,118 137.3,111 138,109.3 139,108.2 142,106.9 147,103 149,101.9 152,102.4 160,106.5 165.8,110 169.6,113 171,115 173.7,122ZM410.5,137 408,138.9 405,139.7 398,139 395,138 393,136.7 385,129.8 382.2,126 379.5,119 379.7,116 380.7,114 382.7,112 385,110.9 387,110.6 390,111.1 394.6,113 398,116.1 408,122.2 410,124.6 411.2,128 411.1,135ZM520,127.8 517,127.3 515.3,126 514.3,122 515,120 517.9,116 519.2,115 521,114.7 523,115.9 524,117.3 525.1,120 525.3,122 525,124 524,125.9 522,127.3ZM258,128.4 255,128.5 253.6,127 253.2,124 253.8,122 255,120.6 257,120.7 260,124.3 260.3,126 259.9,127ZM601,137.6 599.6,135 599.7,133 604.8,127 612.2,122 616,121.3 620.9,122 622.3,123 625.7,127 626.1,129 625.3,132 620,137.7 616.6,140 611.6,140 609,139.3 603.7,139Z" fill="#2166AC" fill-rule="evenodd"/>
<path d="M164.9,126 162,127.4 156,128.1 151,127.1 145,124.4 142.4,122 141.2,119 142.2,113 143.2,111 148,106.6 150,105.8 152,105.7 154,106.2 164,111.9 167.1,115 168.5,121 167.9,123ZM407,135.8 406,136.5 404,136.8 398,135.6 394,134.2 389.3,131 386,127.9 383.7,124 382.1,119 383,116.1 385,114.5 387,113.8 391,114.1 393,115.1 395.5,118 401.7,121 406,124.1 407.8,126 408.5,129 408.3,133ZM608,134.6 607.2,133 607.7,132 609,131.4 612.2,131 613.1,130 614,127 615,126 616.8,126 617.8,127 618.2,132 617,134.1 615,135.3 609,135Z" fill="#053061" fill-rule="evenodd"/>
<path d="M0,70.4H633.6M316.8,0V140.8" stroke="#555" stroke-width="1.2" stroke-dasharray="5,4.6" fill="none"/>
<use href="#map"/>
<g fill="none" stroke="#000" stroke-width="2.1"><ellipse cx="128.1" cy="18.9" rx="14.3" ry="12.2"/><ellipse cx="214.1" cy="19.9" rx="21" ry="10.5" transform="rotate(-20 214.1 19.9)"/><ellipse cx="212" cy="20.4" rx="6.3" ry="2.7" transform="rotate(-10 212 20.4)"/><ellipse cx="109.2" cy="123.9" rx="28.3" ry="12.6" transform="rotate(50 109.2 123.9)"/><ellipse cx="114.4" cy="127" rx="8" ry="3.4" transform="rotate(30 114.4 127)"/><ellipse cx="217.3" cy="109.2" rx="28.3" ry="16.8" transform="rotate(5 217.3 109.2)"/><ellipse cx="216.2" cy="110.2" rx="15.1" ry="8.8"/><ellipse cx="8.4" cy="128.1" rx="23.1" ry="21" transform="rotate(40 8.4 128.1)"/><ellipse cx="6.3" cy="134.4" rx="13.6" ry="11.5" transform="rotate(40 6.3 134.4)"/><ellipse cx="32.5" cy="10.5" rx="6.7" ry="17.8"/><ellipse cx="344.3" cy="4.2" rx="25.2" ry="10.5"/><ellipse cx="340.1" cy="1" rx="14.7" ry="4.6"/><ellipse cx="346.4" cy="126" rx="17.8" ry="13.6" transform="rotate(20 346.4 126)"/><ellipse cx="348.5" cy="127" rx="8.8" ry="6.7" transform="rotate(20 348.5 127)"/><ellipse cx="459.8" cy="136.5" rx="26.2" ry="23.1"/><ellipse cx="461.9" cy="138.6" rx="17.8" ry="13.6"/><ellipse cx="464" cy="140.7" rx="10.5" ry="7.3"/><ellipse cx="426.2" cy="109.2" rx="11.5" ry="19.9" transform="rotate(-15 426.2 109.2)"/><ellipse cx="553.2" cy="117.6" rx="18.9" ry="15.7" transform="rotate(-30 553.2 117.6)"/><ellipse cx="555.3" cy="120.7" rx="5.2" ry="4.6"/><ellipse cx="631.9" cy="117.6" rx="4.2" ry="8.4"/><ellipse cx="447.2" cy="3.1" rx="17.8" ry="10.5"/><ellipse cx="544.8" cy="4.2" rx="15.7" ry="17.8"/><ellipse cx="479.7" cy="38.8" rx="10.1" ry="7.3"/></g>
<g fill="none" stroke="#000" stroke-width="2.1" stroke-dasharray="6.5,4.5"><ellipse cx="81.9" cy="18.9" rx="17.8" ry="15.7" transform="rotate(20 81.9 18.9)"/><ellipse cx="81.9" cy="17.8" rx="9.4" ry="7.3" transform="rotate(20 81.9 17.8)"/><ellipse cx="165.8" cy="15.7" rx="14.7" ry="14.7"/><ellipse cx="167.9" cy="14.7" rx="6.3" ry="5.2"/><ellipse cx="155.4" cy="118.6" rx="28.3" ry="15.7" transform="rotate(20 155.4 118.6)"/><ellipse cx="156.4" cy="118.6" rx="18.9" ry="9.4" transform="rotate(20 156.4 118.6)"/><ellipse cx="161.6" cy="119.7" rx="6.3" ry="2.9" transform="rotate(20 161.6 119.7)"/><ellipse cx="302.3" cy="117.6" rx="16.8" ry="9.4"/><ellipse cx="293.9" cy="4.2" rx="21" ry="9.4" transform="rotate(10 293.9 4.2)"/><ellipse cx="54.6" cy="117.6" rx="16.8" ry="27.3" transform="rotate(-40 54.6 117.6)"/><ellipse cx="395.7" cy="122.8" rx="31.5" ry="15.7" transform="rotate(40 395.7 122.8)"/><ellipse cx="395.7" cy="123.9" rx="21" ry="9.4" transform="rotate(40 395.7 123.9)"/><ellipse cx="396.8" cy="123.9" rx="9.4" ry="3.8" transform="rotate(40 396.8 123.9)"/><ellipse cx="480.7" cy="111.3" rx="21" ry="18.9"/><ellipse cx="520.6" cy="132.3" rx="16.8" ry="12.6" transform="rotate(30 520.6 132.3)"/><ellipse cx="524.8" cy="136.5" rx="8.4" ry="5.2" transform="rotate(30 524.8 136.5)"/><ellipse cx="604.6" cy="126" rx="17.8" ry="16.8"/><ellipse cx="606.7" cy="130.2" rx="9.4" ry="7.3"/><ellipse cx="497.5" cy="9.4" rx="14.7" ry="10.5"/><ellipse cx="523.8" cy="38.8" rx="8.8" ry="6.7"/><ellipse cx="401" cy="2.1" rx="12.6" ry="6.3"/></g>
</g>
<path d="M102.4,268v-6.0M102.4,408.8v6.0M120,268v-3.1M120,408.8v3.1M137.6,268v-3.1M137.6,408.8v3.1M155.2,268v-3.1M155.2,408.8v3.1M172.8,268v-3.1M172.8,408.8v3.1M190.4,268v-3.1M190.4,408.8v3.1M208,268v-6.0M208,408.8v6.0M225.6,268v-3.1M225.6,408.8v3.1M243.2,268v-3.1M243.2,408.8v3.1M260.8,268v-3.1M260.8,408.8v3.1M278.4,268v-3.1M278.4,408.8v3.1M296,268v-3.1M296,408.8v3.1M313.6,268v-6.0M313.6,408.8v6.0M331.2,268v-3.1M331.2,408.8v3.1M348.8,268v-3.1M348.8,408.8v3.1M366.4,268v-3.1M366.4,408.8v3.1M384,268v-3.1M384,408.8v3.1M401.6,268v-3.1M401.6,408.8v3.1M419.2,268v-6.0M419.2,408.8v6.0M436.8,268v-3.1M436.8,408.8v3.1M454.4,268v-3.1M454.4,408.8v3.1M472,268v-3.1M472,408.8v3.1M489.6,268v-3.1M489.6,408.8v3.1M507.2,268v-3.1M507.2,408.8v3.1M524.8,268v-6.0M524.8,408.8v6.0M542.4,268v-3.1M542.4,408.8v3.1M560,268v-3.1M560,408.8v3.1M577.6,268v-3.1M577.6,408.8v3.1M595.2,268v-3.1M595.2,408.8v3.1M612.8,268v-3.1M612.8,408.8v3.1M630.4,268v-6.0M630.4,408.8v6.0M648,268v-3.1M648,408.8v3.1M665.6,268v-3.1M665.6,408.8v3.1M683.2,268v-3.1M683.2,408.8v3.1M700.8,268v-3.1M700.8,408.8v3.1M718.4,268v-3.1M718.4,408.8v3.1M736,268v-6.0M736,408.8v6.0M102.4,268h-3.1M736,268h3.1M102.4,285.6h-6.0M736,285.6h6.0M102.4,303.2h-3.1M736,303.2h3.1M102.4,320.8h-3.1M736,320.8h3.1M102.4,338.4h-6.0M736,338.4h6.0M102.4,356h-3.1M736,356h3.1M102.4,373.6h-3.1M736,373.6h3.1M102.4,391.2h-6.0M736,391.2h6.0M102.4,408.8h-3.1M736,408.8h3.1" stroke="#000" stroke-width="1.9" stroke-linecap="round" fill="none"/>
<path d="M100.9,268H737.5M100.9,408.8H737.5" stroke="#000" stroke-width="2.2" fill="none"/>
<path d="M102.4,267V409.8M736,267V409.8" stroke="#000" stroke-width="3" fill="none"/>
<!-- panel 3 -->
<g transform="translate(102.4,490.3)" clip-path="url(#pc)">
<rect x="0" y="0" width="633.6" height="140.8" fill="#F8F8F8"/>
<path d="M19.8,140 20.4,137 19.2,131 17.4,128 15.6,122 10.5,113 8.3,105 5.8,100 5.1,93 1.6,89 0,86.3 0,43.8 1.1,42 3.3,40 10,36.5 12,36.2 17,36.7 24,35 27.3,33 30,30.2 34.4,23 39,18.9 48,6.1 51.1,3 53.3,0 73,0 74.3,5 77.8,14 78,18 75,25.7 73,29 72,33.5 70.5,36 69.5,39 65.3,43 63.4,46 62.5,51 63,56 64.5,58 68,60.2 69.8,64 69.5,66 67,68.1 62,69.4 52,67.9 47.9,68 46.6,69 45.5,78 46.3,84 47.7,88 49,89.2 54.1,92 54.7,93 55.1,97 56,99.4 62,104.8 65,106.5 65.9,108 67,114 72.7,125 73.9,130 74.9,132 75.2,136 77.6,140ZM185,78.1 182,79.9 180,79.9 177,77.2 171,74.3 166,73.2 163,71.1 157,69.2 155.8,68 151,59.9 140,49.6 139,48 138.5,45 137.1,42 133.6,37 128.9,32 127.1,28 125.8,19 123.2,12 124.8,4 123.7,0 169.1,0 168,2 164.1,5 163.4,7 163.9,13 165.6,17 168.1,26 168,33 172,38.9 173,39.5 178,39.8 184,38.8 186,39.3 188.9,41 190.7,43 192.3,49 192.3,53 191.1,56 189,58.1 185,60 183,59.8 174,53 172,52.5 171.1,54 170.6,58 171.2,60 174.6,63 176.1,66 185,75.1 185.6,77ZM215.1,27 215.1,25 216.1,22 217.3,20 220,17.4 222.7,12 224,10.7 227,9.4 231,6.1 235,5.6 240,6.6 244,4.1 250.9,3 252.3,2 253.4,0 314.7,0 316.7,6 316,7.9 313,11.5 309.8,18 307,21.1 305,22.4 302,22.7 292,20.9 289,20.9 283,21.7 279,22.9 274,22.8 266,24.2 255,27.5 246,27.9 238.3,32 232,37.4 230,38.5 226,37.9 222,39.9 220,39.1 218.8,37 220.5,34 220.9,32 219.4,30 216,28.3ZM388.7,140 355.1,140 349.9,134 346.7,128 346.8,118 346.1,114 346.2,110 344,103.9 343,99 343.3,93 344,91.2 345,90.6 351,89.8 352,89 352.3,88 352,85.8 351,84.8 347,83.8 346,82.9 343.7,79 342.8,75 341.3,74 336,72.5 330,73.3 328.5,75 328.4,80 327,81.2 325,81.4 322.2,80 317.1,76 314,72.8 312.5,70 312.7,67 314,65.4 318,64 319.2,63 323.9,61 329,60.5 330,59.9 332.1,57 332.9,54 328.3,44 328.5,43 333,40.9 337,35.1 350,30.1 352,29.6 354,30.4 358,35.1 360,36.7 365,37.7 369,40 377,42 386,40.7 392,41.7 394,40.1 396,40.8 397.6,40 397.8,39 396,37 395.7,35 396.5,30 400.1,15 399.5,12 398,9.6 396,8.5 394,8.1 391,8.8 384,11.8 380,12.7 364,12.1 360,10.5 354,6.3 350.8,3 350.2,0 412.9,0 412,2 411.9,4 412.9,7 414,8 425,10 429.5,12 432.1,14 430.8,20 426.8,27 415,38.9 405.7,46 403.9,48 404.3,50 408,55 409,57 408.4,60 405.8,63 403,64.7 392,63.9 388,64.8 383,64.9 377,66.3 375,68.5 375,70 375.9,71 379,71.8 380.6,73 382.6,78 380.9,83 380.7,85 381.6,89 383.2,93 383.4,102 385,114 384.5,117 381.9,123 381.7,125 383.6,133 385,135 387.4,137ZM450.4,21 450,16 450.4,15 453,12.6 454,10 454.6,2 454.4,0 508.4,0 507.3,9 506.3,11 491,19.9 487,20.5 478,18.9 469.6,19 465.8,20 461,22.5 456,23.4 452,22.9 450.8,22ZM613.2,16 609,16.8 605,18.5 603,18.7 598,18.4 593,16.7 586,16.4 578,14.6 576.1,15 574,17 572,16.7 570,15.6 568.6,11 564.2,3 564,0 605.5,0 607,6 609.7,12 611,13.6 613.2,15ZM594.5,140 557.7,140 556.1,136 555,129 553,124.2 552,122.9 548,120.4 545.1,117 542.8,113 539.2,109 536,102.6 531.2,97 530.8,95 531.2,91 530.9,89 529.9,88 524,85 518.4,79 514.4,76 512.6,73 511.3,67 511.5,66 514,64 514.4,63 514.4,60 513.4,57 513.9,55 517,51.3 523.2,45 527,43 529,38.2 530,37.7 533,39.1 535.5,38 535.4,37 528,35.6 521,36 517.1,35 515.6,34 516.2,33 518.9,31 527,27.1 533,26.5 537,23.8 552,22.6 559,23.1 567,24.5 577,28.5 578.8,30 579.9,33 579,43 581.8,53 581.9,55 581,56.9 579,58.6 578,58.9 575,58.4 574,59 573.2,61 571.8,68 573.3,71 577,72.6 578.6,74 581.8,81 585,85 585.3,86 585,91 585.4,95 586.2,98 589.5,104 590.4,110 591.9,115 594.2,134ZM633,60.5 631.8,54 632.2,48 633,45.4ZM303,58 300,58.2 298,56.5 297.5,54 298,52.3 299,51.2 301,50.8 303,51.2 304.5,52 305.2,55 304.3,57ZM209.5,63 211.8,58 217,56.2 218,56.6 219,58.3 222,59.6 232,58.8 234,59 236,60 236.9,61 237.1,62 235.5,65 233,66.4 230,66.7 222,65.6 218,67.2 216,67 211,65 209.7,64ZM112.6,66 112.7,64 116.1,59 117.5,58 119,57.6 121,57.8 124,58.9 128,59.2 132,60.6 136,60.3 137,60.9 137.6,63 137,64.5 131,68.8 127,68.6 123,69.1 116,69.1 114,68.4ZM619,87.3 615,84 613.5,82 612.2,75 612.8,72 615,70 626,66 627.9,67 628.2,69 629,69.9 629.9,69 630.3,67 633,61.4 633,85.3 625,83.6 623,84.7 621,87.1 620,87.6ZM10,68.3 10.6,67 10.6,64 9.7,63 8,62.4 6.2,63 5.8,64 7,67 8,68.2 9,68.6ZM336.7,140 303.7,140 297,138.1 295,138.6 293.8,140 282.6,140 285.5,132 285.1,123 284,120 279.9,116 277,110.8 275,109.6 273,109.2 270,109.5 262,111.5 260,111.4 255,110 252,108 251.9,107 253.6,104 253.7,103 249,101.8 247.9,103 248.8,107 248.5,108 247,109 245,109 238,106.1 237.1,105 234.9,100 236.2,96 237,94.7 240.3,92 245,86.9 248,86.4 252,87.6 253,87.6 254,87 254.1,85 252.2,81 252.5,79 258.6,73 262,70.7 268,68.6 271,71.6 277,72.5 278.2,72 282,68.6 289,68.8 292,69.4 295,72 296.5,75 296.5,77 295,83.6 293.4,87 293.7,89 300,91.5 302.5,94 303.8,96 302.6,101 302.7,108 303.1,110 305,114 305.1,118 305.7,120 311,124.8 315.6,128 317.4,131 318.9,136 320,137.3 322,138 335,139.1ZM498.6,140 445,140 436.3,127 428,118.3 425.2,114 422.8,109 418.8,104 416,98.7 413.3,95 413,91.8 411.3,89 410.7,87 411,78 412,75.1 417,76 425,74.3 429,74.6 434,75.7 441,74.6 447,71.7 452,72 456,70.5 462,69.7 464,70 465.1,71 465,71.9 464,72.5 460.9,72 459.9,73 461,74.2 463.2,74 464.6,73 465,72.1 468,71.9 469,72.6 469.4,74 468.4,76 468.2,78 469.6,82 469.9,85 468.5,89 468.6,91 470.2,93 478,99.8 481.9,106 482.8,112 485,117.7 493.6,130 495.4,134 498,138ZM183.6,117 184.2,123 180.4,133 179.8,140 150.3,140 149,138 147,137.2 143,138.8 140,139 136,138.2 131,136.4 128.6,135 128.2,134 128.9,132 130,130.6 139,124.9 145.2,109 147,107.4 149,107.2 153,107.9 159,110.8 165,111.5 170,113.9 174,113.1 181,114.1 182.5,115Z" fill="#FDDBC7" fill-rule="evenodd"/>
<path d="M147,43.2 143.9,42 140,37 135,31.9 130.8,24 129,19.1 127.6,14 127.6,11 131.3,4 132.1,0 157.3,0 158.1,14 161.5,21 162.1,25 161.8,28 160,31.4 156,33.9 153.8,36 150.3,38 148,42.8ZM227,22 227,20 227.9,19 236,15.5 246,9.2 250,8.7 256,9.1 259,8.6 270.3,5 275,1.7 279.1,0 293.8,0 297,2.3 304,5.7 305.2,5 304.5,7 305,9 304.8,11 301,15.6 299,16.6 284,18.3 278,19.9 268,19.2 258,21.9 245,20.6 243,21.6 239.6,26 235,27.4 232,27.1 230,26.1 228,24ZM399.5,0 398.9,2 396.2,4 392,5.4 384,9.6 379,10.5 368,9.9 365,9.3 357,5.5 355.4,4 354.6,2 355.1,0ZM503.8,6 503.2,8 502.1,9 499,10.4 492,15.1 489,16.3 484,16.8 473,15.8 463,15.9 461,15.3 459,13.2 457.7,5 458.9,0 503.6,0ZM601.6,7 600.3,10 598,11.8 595,12.7 591,12.6 585,11.3 579,10.8 576,9.9 573.6,8 572.9,6 572.9,4 574,1 575.6,0 599.2,0 601.4,4ZM7.8,53 6.4,50 6.4,48 7.5,45 9.1,43 11,42.5 19,44.4 22,44 26,41.8 29,38.5 33,36.3 36.8,33 37.5,32 37.3,29 37.9,27 42,22.8 46,13.9 51,9.5 54,8.1 64,7 69,8.5 71,10 72.4,13 72.6,16 66.7,25 62,30.3 60,31 56,30.4 54.5,31 51,35.5 48.4,38 48,40 51.1,52 50,53.9 47,56.4 44,57.4 37,56.5 33,53.2 31,49.1 30,48.1 27,47.4 24,47.8 21,51.5 20,52 14,51.9 10,53.9 9,53.9ZM403,35 400.4,31 399.9,29 400.1,27 401.3,23 403.6,18 407,13.9 408.2,13 410,12.5 421,12 424,12.6 426,14 427.1,16 427.5,18 425.6,24 424,26.4 418.4,32 413,36.3 408,37.9 406,37.5ZM374.5,55 373.2,57 371,58 369,57.9 365,56.8 358,56.5 352,55.1 347.8,53 340,50.7 337,48.2 336.9,46 340,42.3 347,37 349,36.1 352,36.3 355,37.9 359,42.4 364,46.4 366,46.7 369,46.3 371.2,47 372.8,49 374.4,53ZM584.1,140 564.5,140 563.4,139 561.2,136 560,133.1 558.1,126 556.8,115 556,112.6 555,111.5 547,109.2 545.3,108 543.1,105 541,100.4 537.5,97 536,94 535.3,89 532.1,80 532.2,78 535.1,72 536.3,66 534.5,60 536,58.2 538,57.6 546,60 547.3,60 549,59.1 549.4,58 548.6,54 549.2,52 552,47.6 556,45.4 561,44.6 564,45.1 568.2,47 570.3,51 570.7,53 570.5,55 566,63.3 565,64.2 560.9,66 561.1,67 563,69.5 563.8,74 563.2,78 563.5,80 565.3,83 568.9,91 570,92.1 574.6,94 576,95.2 583.9,105 584.9,107 586,112 585.6,117 588.4,123 586.4,133 584.6,137ZM160,56.5 155.4,54 154.8,53 154.7,51 156,49.7 162,47 162.8,48 163.3,54 163,55.2 162,56.3ZM187.1,51 185,52.7 183,52.3 180.6,50 180.4,49 180.7,48 183,47.3 186.2,48 187.3,49ZM374,134.8 368,134.4 365,134.8 359,131.3 354.9,127 352.2,118 352.2,111 353.2,107 351.9,101 352.9,99 358.5,93 360,85 359.8,81 360.7,78 362.5,76 365,75.1 368,74.9 370,75.4 373,76.7 374.1,78 374.4,80 373.9,84 374.4,87 377.8,93 380.5,103 380.6,108 379.5,115 378.9,117 376.6,121 376.2,126 376.4,131 375.4,134ZM283,88 282,89.1 280,89.8 278,89.8 276,89.1 274,87.7 269.3,82 269,81 275,78.2 278.9,79 280.3,80 281.8,82 283,86.5ZM490.5,140 450.7,140 447.9,135 438.3,123 434,119.4 430.7,114 430.3,112 430.8,108 430.3,104 430.9,100 430.1,98 427.5,96 427.2,95 429.3,89 432,85.7 433.8,84 441,79.7 444,79 447,79.5 451,82.1 457,89 461.9,92 464.6,96 468,99.5 474,103.1 476,106 478,113 482.7,121 484,127 487.9,131 488.7,135ZM264,84 264,82.9 266,80.3 267,80 269,81 267,82 265,84.2ZM64,133 61,134.4 57,135.2 53,136.9 47,138.5 41,138.9 39,138.3 34,132.2 25,125.6 21,121.6 19.2,119 17.5,114 17.2,108 16,98 16,94 15.4,91 15.7,90 20,86.3 22,85.4 24,86 26,87.6 29,88.5 31,88.5 36,86.6 39,86.8 41.4,88 46.6,95 50.7,105 56.7,109 60.7,115 61.6,119 65.9,124 66.3,126 65,131.8ZM308,131.3 307,132 302,132.6 295,130.6 293,129.1 291,124 288.4,120 287,116.5 282.7,113 279.3,105 275.3,100 274.5,98 275.3,96 277,95.2 281,95.3 289.2,99 294.3,105 297.8,113 301,116.8 302.4,121 306.7,126 308.2,130ZM265,101.7 264,101.2 263.8,100 264.9,98 266,97.4 267,98 267,99.5 266,101.3Z" fill="#F4A582" fill-rule="evenodd"/>
<path d="M391.9,0 391.4,2 387.1,6 383,8.2 379,8.9 367,7.8 359.9,4 358.3,2 358.6,0ZM498.8,4 497.5,7 495,10 493,11.6 488,13.9 482,14.6 469,13.2 466,12 463,9 462,6 461.7,3 462.3,0 498.3,0ZM147,31.6 142,31.8 139,30.5 137.3,28 136.2,24 133.4,19 132,14 132.2,11 133,9 136,5.1 138,3.6 142,3.6 147,2.5 149,2.9 152.9,7 154.3,10 154.9,16 156.7,21 156.5,23 154,27.4ZM267.2,13 267.2,11 268,10.1 272,7.9 276,4.5 278,3.5 283,2.3 285,2.1 292,3.8 294.7,6 296,8 295.7,11 292.4,14 283,15.4 278,17.2 273,17.1 271,16.6 268.5,15ZM595.9,6 595,7.2 593,7.7 590.9,7 589.6,6 589.7,5 590.8,4 593,2.9 594.1,3 595.4,4ZM64.9,16 64.2,19 62.3,23 60.9,25 59,26.3 56,26.9 51,26.6 48,25.6 46.7,24 46.7,21 48,16.6 49.2,15 52,13.3 61,11.8 63.8,13 64.6,14ZM404,31.1 403.1,29 403.5,26 406,20.5 408,18.4 411,16.3 413,15.7 420,16 422.3,17 423.4,20 422.9,23 421.6,25 417,29.7 412,32.9 409,33.5 406,32.8ZM352.8,48 350,48.2 347.9,47 347.5,46 347.9,44 349,42 350,41.3 352,41.7 353,43 353.8,46 353.7,47ZM562,58.5 560,59.4 558.6,59 557,57.8 555.4,54 555.3,53 556,51.5 562,50.5 564,51.7 564.6,53 564.5,54ZM577.5,140 571.4,140 568,138.4 565.2,136 562.8,132 560.5,126 559.6,120 559.5,109 558.9,106 558.2,105 557,104.6 553,104.8 551,104 546,100.2 541,93.5 536.9,83 535.9,79 537,76.3 542.4,69 544,67.7 547,66.9 549,67.2 554,72.1 556.3,75 556.6,78 554.7,81 554.6,83 557,85.8 561,88 562.8,90 563.1,91 562.5,96 563,100.2 565,100.6 569,99.1 571,99.3 579,104.8 580.8,107 582.9,117 584.7,123 584.7,125 582.5,132 579.3,138ZM481.8,140 456.5,140 451.1,133 446,127.5 441.1,120 438.2,117 436.5,113 436.4,105 437,101 435.7,95 436.3,93 438,90.5 442,86.4 444,85.4 445.8,86 448.9,93 452,94.4 456,94.8 458,95.6 461.2,99 466.9,103 471.6,108 472.5,110 473.2,114 477.1,118 479.7,123 479.7,128 481.5,132 482.4,135ZM375,104.3 374,104.8 372,104.8 368,103.8 366.5,103 364.6,99 365.3,96 366.6,94 368,93.7 373,94.9 374,95.6 375,97.9 375.6,102ZM49.8,130 48,130.5 44,130.3 38,129.2 29,123.8 23.8,118 22.7,114 23,112.2 24.4,109 24,105 25.4,103 31,98.1 36,96.2 41,96.5 42.2,98 44,103.6 48,108.8 51.2,111 52.9,113 53.4,115 52,117 51.4,121 50.2,123 51.1,128ZM289,110.7 287,110.5 286,109.8 284.6,106 285,104.2 286.3,104 288,105.7 289.6,109 289.6,110ZM365,127.9 362,127.6 360,126.4 358,124 357.5,122 357.2,118 357.5,116 362,111.8 364.5,113 366,117 368.7,120 369.4,122 369,123.8 368,125.4ZM299,125.3 298,125.5 297,125 293.9,119 293.7,118 295,118.5 299.1,124Z" fill="#D6604D" fill-rule="evenodd"/>
<path d="M387.8,1 387.2,3 384,6 381,7.2 377,7.6 372,7.1 367,5.6 363.1,3 362,1 362.5,0 376,0 387.3,0ZM495.5,5 494.4,7 492.6,9 489,11.3 483,12.7 477,12.6 471,11.3 468,9.8 465.8,7 465.1,3 465.5,1 466.2,0 494.3,0 495.4,3ZM150,21.8 144,24.6 143,24.7 142,24 140.9,21 138,18.3 137.4,17 137.3,11 138.5,9 141,7.9 146,7.8 150,10.6 151.5,13 151.8,15 151.3,20ZM52,22.3 51,21 52,19.6 53,20 53.3,21 53,22ZM407,28.1 406.9,27 409.1,22 411,20.5 413,19.6 415,19.5 417,20.3 418.6,22 418.5,24 417.5,26 415,28 409,29.1 408,28.9ZM547.4,90 546,90.1 545,89 544.6,86 541.7,83 541.4,82 542,80.9 543,80.5 545,81 547.1,83 548.3,88 548.2,89ZM555,99.2 553.8,99 552.5,97 553,95.7 555,95.1 556,95.5 556.7,97 556,98.8ZM475.6,140 462.2,140 460.3,136 457,132.8 453,130.9 448,126 446.6,124 444.5,119 443.1,114 444.1,110 444.1,107 445.8,105 452,101.7 455,101 460,102.8 463.1,105 464.2,107 465.1,112 469,116.5 473.5,120 474.7,122 474.7,128 473.7,133 476,138ZM574,136.9 569.1,136 567,134.5 562.7,126 561.6,122 561.9,115 563.8,109 566,106.4 569,105.3 572,105.1 574,105.9 578,110.6 579.2,113 581.4,121 581.5,125 579.2,132 577,135.1ZM39,121 38,121.1 37,120 37,118.2 38,118.4Z" fill="#B2182B" fill-rule="evenodd"/>
<path d="M384.3,2 383.3,4 382,5 379,6 376,6.2 372,5.5 368.8,4 366.8,2 366.8,1 367.8,0 383.7,0ZM491.6,4 491,6 488.2,9 484,10.4 480,10.8 476,10.7 471.6,9 469,6.5 468.1,4 468.7,2 470.7,0 478,0 489,0 491,1.9ZM148,16 147,16.3 146,15.8 145.4,15 146,14 147,14.1 148,14.8ZM465,131.1 464,131.1 459,128.1 454,127.1 450.3,124 449.1,122 448.2,119 448.1,117 450.6,111 455,106.4 457,106.2 458.3,107 459,108 460.4,113 467,122.1 467.5,124 467.3,127ZM571,133 569,132.3 568,131 566.7,127 564.1,123 563.7,120 564.5,117 566,114.8 568,113.6 572,112.7 575,113.5 576.4,115 578.3,119 578.7,123 577.9,126 575.5,131 573,132.7Z" fill="#67001F" fill-rule="evenodd"/>
<path d="M0,33.9 0,0 41.1,0 42.7,3 43.4,6 43.2,8 41.9,11 40,13.4 36,17.1 26.6,24 25.4,27 24,28.7 20,30.8 14,29.6 5,33.3 2,34ZM105,73.7 103,73.9 100,72.4 95,71.2 91,69.4 87,68.9 84.3,67 81,66 77,60.1 72,56.5 70.4,54 70.2,50 71,46.3 76,40.1 79,37.2 81.1,32 80.9,30 79.5,27 81.3,22 81.7,15 79.5,5 80.1,0 117,0 120.1,5 119.5,12 120,13.4 122.8,17 123.6,20 123.4,30 122.3,34 122.4,35 125,39.8 126,40.7 129,42.1 132,46.2 132.9,49 132.3,54 131,54.8 126,54.2 115,54.9 111,56.8 107.6,60 105.3,63 105,66 106.5,71 106,72.8ZM178,34.1 176.8,30 173.6,24 173.1,13 178,5.7 182.8,2 183.8,0 217.7,0 215,1.7 209.4,9 209,11 211.3,14 211.6,16 209,21.6 203,27.5 199,28.9 197,30.4 196.2,32 195.1,37 194.1,38 193,38 190,36.1 188,35.4 185,34.9 180,35ZM312.1,25 313,23.1 319.3,17 322.5,7 324.1,4 326.1,2 331,0.3 336.3,0 345,0.3 354.1,9 359,15.9 361,17.5 365,17.5 370,16.3 375,17.2 377,17.1 389,12.2 392,11.5 394,12 395,13 395.8,15 396.4,19 395.4,26 394,28.3 392,29.8 389,30.8 386,30.1 382,32 378,32.2 372,34.7 362,32.4 359.8,30 358,25.7 357,24.8 350,24.8 345,25.9 335,26.1 333.6,27 332.5,30 330.4,33 328.8,37 327,38.7 325,39.4 322,38.9 316.6,35 314.6,32ZM452.2,3 451.4,6 449,8.5 442,11.8 440,12.2 420,6.2 418,4.3 417.6,2 418,0 451.1,0ZM495.7,25 496.3,22 498,20 500,18.7 506,17.3 509,17.4 513,15.7 517,16.6 519,15.9 519.5,15 519.1,14 512,10.2 510.7,8 510.5,6 511,4 512.3,2 514,0.8 516.1,0 555.6,0 557.3,6 557,9.2 548,19.7 546,19.8 545,19 544,16.8 543,16.3 538,18.4 532,19.5 529,21.3 524,20.6 523,21.3 522.1,24 521,24.6 519,25 516,24.4 512,24.5 508,27.4 504,28.6 502,28.5 496.3,26ZM599.9,140 599.6,135 596.8,126 596,119 594.1,110 595.8,103 598.8,96 597.7,92 597.6,88 596.3,85 595.4,81 594,79.2 591.6,78 590.6,74 589.8,73 584.3,70 583,68.2 582.8,67 583.2,66 586.6,62 587.4,60 587.9,56 586.8,51 587.5,49 593,44.8 595,43.9 600,45.9 604,45.9 605,45.5 606.5,42 606.6,36 605.9,33 607.4,27 608,26.5 614,27.4 616.4,27 618.1,24 621.9,21 625.3,15 631.3,11 631.7,9 631.2,4 628.7,0 633,0 633,33.4 630,30.3 624,26.8 620.8,27 618.8,28 618.2,29 619,32 625,35.4 628.9,41 629,43 627.1,47 626.7,50 625.4,54 623,58.2 621,59.3 616.3,60 613,63.4 606.1,75 604.5,79 602,81.1 601,83 602.1,85 607,88.9 608.3,91 608.3,94 606.5,96 607,96.4 616,93.4 622,92.9 628,91.6 630,92 633,94.6 633,140ZM412.1,52 412.4,50 414.7,46 417.4,43 418.8,39 420.2,37 434,22.9 437.2,21 440,17.6 441,17.2 443,17.9 443.9,19 445.5,23 447,24.8 450,26.4 456,27.3 461,27 469,29.1 473,29.1 477,27.8 478,28.4 480,31 485,29.6 489,29.6 491,30.3 495,34.7 497,36.1 501,35 504,35.2 504.7,36 506.3,40 508.7,43 509,44 508.9,46 508,48.2 504,50.7 502,53.4 499.5,55 497,60.4 496,60.4 493.1,58 489,56 488.1,55 487,52.4 486,51.8 483.6,52 478.4,55 474,54.2 471,55.2 470,54.6 466.9,50 465,49 462,48.6 457,50.4 455.4,52 455.3,54 455.9,58 455,62.2 454,62.7 451,62.6 450.3,60 449,59.5 445,60.2 442.3,62 439,67 437,68.3 435,68.7 432,68.1 427,65.2 423,64.6 422.1,64 419.3,60 414,56ZM243.3,71 240.9,66 242.2,63 241.3,59 242,57 241.8,55 238.1,52 237.4,50 239,41 241.2,37 243,34.8 245,33.9 255,33.4 260,29.9 266,27.7 274,26.8 278,27.6 284,25.7 288,26.7 292,25 299.1,27 301,28.2 301.9,31 301.8,35 301.3,37 296.2,41 295,45.5 292,47.3 291,49.6 290.3,54 289,55.6 286,56.5 285,56.2 281,53.1 278.1,53 271,61.1 267,62 261,64.3 253,64.6 249,65.5 246.9,67 246.7,70 246,71.7 245,72.1ZM108,52.5 108.5,51 107.5,46 106.9,45 104.7,45 103.7,46 103.6,51 104,52 106,52.7ZM326,54 325,54.8 322,55.4 318,54.7 315.5,52 315.2,50 315.8,48 317,46.7 320,45.6 322,45.6 324,46.5 325.6,48 326.8,50 326.9,52ZM102,60.6 102.7,59 102.1,57 101,56 100,56.1 98.8,57 98.5,59 100,60.8ZM302,69 301,68.8 300.1,68 300.1,67 301,66.4 302.2,67 302.5,68ZM551.3,140 507.3,140 506.1,137 500.4,132 495.3,126 488.2,116 486.5,111 486.5,104 485.9,101 484.8,98 482.4,95 482.2,93 483,92 486,91.5 488.1,90 488.6,88 488.1,82 489.6,76 491,75 494.3,74 495.1,73 496,69.3 498,67.4 500,67 501.6,68 502.1,70 501.5,74 503,76 513.7,81 515.8,83 519.7,91 521.3,98 526,102 531,107 534,111.1 538,114.6 539.8,118 542.2,121 544.1,126 548.1,130 550.8,137ZM136.6,118 134,121 133,121.6 129,122.4 121,128.2 120,128.2 118,127.3 115.1,124 113,122.6 110,121.9 107,122.4 104.9,124 103,126.8 100,129 98.9,132 94,134.2 90,134.4 89.3,134 89.4,133 92.5,130 93.5,128 93,126 90,123.3 87,123.1 84.1,121 79,119.6 77.2,118 75.2,115 74.5,113 74.2,104 73.5,102 72,100.5 68,98.9 66,97.1 62.4,91 61,87 56.6,84 55.9,83 55.8,82 56.4,80 58,77.5 60,77.4 61.9,79 63,81.8 64,82.3 65,82.1 65.1,81 63.8,79 64.2,78 71.2,73 75,71.8 84,72.3 87.1,75 90,80.6 92,82.9 97,86.7 103,88.1 107,91.1 108.2,93 110.2,99 113,101.8 114.5,105 115.7,106 121,107.3 134,106.1 136,108.8 137.1,112 137.3,115ZM131.7,80 130.5,81 128,81.8 124.9,82 123,80.5 121.1,77 120.9,75 122.7,74 125,73.8 130,75.3 131.1,76 131.5,77ZM440.3,140 400.6,140 396.6,135 391,131.9 390.2,130 390,126 388.7,122 388.7,117 386.6,107 386.3,101 389,90 390.2,87 390.4,83 393.3,77 396,74 398,73.5 402,73.7 404,74.1 404.9,75 405.3,77 405.1,82 402.2,90 402.1,92 404.8,95 412,100.4 415,103.4 420.1,112 422,116.3 433.2,129ZM481.2,79 480.6,77 481.3,75 483,73.7 485.4,74 485.5,75 483.7,77 483,79 482,79.5ZM122.8,95 123,93 124.3,91 126,89.9 130,88.6 132,87 133.4,84 133.8,81 137,78.1 139,77.6 144,78.1 152,74.6 157,74.8 160.9,76 164,79.2 168,80 173,83.2 177.1,87 178.2,89 177.2,93 173,101.1 171,102 167,102.1 163,103.5 160,103.3 154,100.5 151,100.3 140,102.5 133,106 127.6,102 123.7,97ZM339,132.2 338,132.6 334,131.3 325,131.1 323,130.6 322,129.8 319,125.4 313,122.3 309.7,119 309,117 310.3,107 310.2,102 312,98.8 313.7,94 313,92.9 306.9,92 305,90.6 303,88 301.9,85 301.4,80 301.7,78 303,75.3 304,75 309,78.3 316,80.9 317.9,82 318.9,84 319.2,87 320,89.1 324,89 326,89.3 331,91.5 335,92.5 337,94.5 340.1,103 341,110 341,114 341.7,117 341,121.6 338.6,126 339.7,130ZM270.7,140 186.9,140 185,134 186.2,132 190.5,128 191,126 191.1,118 188.6,109 188.8,107 190,105.9 196,104.3 200,100.4 204,99.7 208,97.3 216,97.6 222.9,100 223.7,101 224.1,105 225,106.3 226,107 229,107.7 233,110.3 235,111.1 240,111.8 246,113.9 257,115.6 266,119.5 272,126.7 272.5,128 272.4,130 269.8,136 269.8,138ZM15.3,140 0,140 0,100.9 4,106.6 5.8,112 9.2,118 12.2,125 15.2,136Z" fill="#D1E5F0" fill-rule="evenodd"/>
<path d="M39.4,8 38.4,10 35.8,13 32,16 26,18.3 21,20.8 16,20.8 13,19.2 9,14.2 5,11.5 3.2,8 2.8,4 4,1.7 8.6,0 35,0 39,6ZM449.4,3 448.7,5 446,7 442,8.3 438,8.4 432,7.9 427,6.3 423.9,4 423.4,2 425.1,0 447.4,0 448.5,1ZM551.5,6 550.6,9 549,10.4 543,11.6 538,14.1 534,14.5 529,13.5 520.5,10 516.9,7 516.1,5 516.8,4 525.5,0 548.3,0 550.9,3ZM118,29.7 110.8,35 104,38.5 102,39.1 100,38.9 97,38 90,33.8 86,29 84.9,26 85.4,21 84.8,17 85.5,9 87,5.9 90,3.5 92,3.4 95,3.7 99,6.2 100.4,6 102,4.8 104,4.2 109,4.8 113,6.1 115,8.7 116.9,15 120,18 120.4,19 119.6,27ZM353,19 351,20.6 345,22 338,21.7 331,19.8 328,18.2 326.5,16 326,13 326.6,9 329,5.3 332,3.9 337,3.4 345,4.9 349.5,8 352.1,11 353.4,15 353.5,17ZM185,27.7 183,26.9 181.1,25 177.8,19 177.7,16 178.9,14 183,9.4 187,7.8 189,7.6 192.7,12 196.9,15 197.6,16 198.2,19 198.1,21 197,22.5 191,26.4 188,27.4ZM390,25.7 388,25.2 386.4,24 385.6,23 385,21 385.9,18 388,16.4 390,15.7 391,15.8 392,16.5 393.5,21 392.8,24 392,25ZM421.7,53 420.9,51 421,48 422.7,44 423.6,39 426,35.8 428,34.6 436,32.1 439,30.7 443,32 447,31.6 448.2,32 449,33 449.2,34 448.7,35 447,35.8 444.9,36 444.1,37 443.4,47 442.6,53 442,54.3 440.9,55 437,55.8 434,58.9 426,56ZM251,52.3 250.5,51 251,49.2 258,42.5 260.6,39 262,35.2 263,34.1 267,33.1 269,33.3 270.3,34 274.4,40 275.1,42 274,44.6 271.3,47 269.3,50 268,50.8 259,53.2 253,53.2ZM494.1,45 493,45.8 488,46.6 482,46.3 479,44.4 477.8,42 479.2,39 482,36.4 485,35.1 488,34.9 490,36 492,38.5 494,43ZM600,72.5 598.6,71 598.4,68 601,65.3 603,64.3 604,64.3 605.1,66 604.7,68 602,71.8 601,72.5ZM146.9,94 144.2,90 144.7,89 147,87.3 149,85 152,84.5 154.4,87 154,87.5 150,88.6 149.3,90 148.9,93 148,94ZM168.1,93 167,94.2 165,94.9 159,94.6 157.7,93 157.9,90 157.1,89 160.9,86 163.7,86 168.2,91ZM157.5,88 157,88.9 154.7,88ZM104.9,113 103,114 100,113.1 95,115.6 92,115 86,112.6 81,108.2 79.5,104 79.2,100 76.2,94 76.2,92 77.1,90 79,88.7 82,88.6 85,91.6 90,92.9 94,95.1 95.3,97 96,100.7 98.7,104 98.3,108 99,110.2 100,111.5 101,111.7 104,110.3 105,110.7 105.4,112ZM539.4,140 520,140 517,138 514,134.1 513,133.4 508,132.1 505.8,131 495,118 491.3,112 490.6,107 491.4,101 492.5,99 496,96 498,95.2 500,95.3 504,96.4 509,96 511,96.8 519,102.3 523.8,105 528.4,110 538.1,123 541.2,134ZM323.3,105 322.7,104 323.1,102 325,99.2 326,98.8 330,99.1 332,100.7 332.7,102 332.8,104 332,105 326,106.2ZM435.2,140 411.2,140 409,138.5 405,136.9 403,135.6 397.5,130 395.7,125 393.5,121 389.7,108 389.8,104 391,100.6 393,99.2 398,98.7 406,100.9 411,104.2 414,107.4 418.6,117 422.8,122 426.1,127 433,134.6ZM633,140 603.3,140 601.1,126 599.7,121 598.9,114 599,111 600.6,108 610,101.7 613,100.6 621,99.9 629,104.1 630.7,106 633,109.9ZM226.5,137 223,137.5 219,135.4 215,135.3 214,134.5 213.2,133 213,129.7 209,129.9 207,129 206.5,128 207.2,125 207,124 203.7,121 202.2,119 203.2,116 203.5,112 205.1,109 207,107.4 210,106.3 212.3,107 228.3,118 228.7,119 227.1,122 227.4,125 227.1,129 228.1,134 227.6,136ZM11.9,140 0,140 0,110.8 3,116.1 6,120 8,125.5 10.3,130 12.2,137ZM328,118 327.5,116 327.7,115 330,113.8 331.4,114 331.7,115 331.2,116 329,118ZM231.2,121 231.4,120 235,118.8 237.6,117 239,116.8 241.1,118 242.5,120 242.7,121 242,122.6 235,123.2 233,123 231.6,122ZM257,131 255,132.9 252,133.7 248,135.9 245,136.4 242,135.8 240,134.6 238.5,133 237.8,130 238.4,128 242,123.6 243,123.1 245,123.1 248,123.8 253,126.1 256.4,129Z" fill="#92C5DE" fill-rule="evenodd"/>
<path d="M446.3,3 445.4,5 444,5.9 440,6.8 432,6.1 429.3,5 427.6,3 428.2,1 429.6,0 437,0 442.7,0 445,1.1ZM546.1,7 545,8 542,9 538,11.5 534,12.2 531,11.7 528,10.5 524.1,8 523,6 524,4 526.6,2 532,0.2 535,0 539,0.7 545,3.8 545.9,5ZM8.9,7 9.8,5 13,3.2 19,3.8 24,2.6 31,4.5 32.1,6 32.5,8 31,11.7 28,14 24,15.5 17,16.8 15,16.1 13.7,15 11.3,11 9.5,9ZM349.4,17 348,18.5 345,19.2 336,18.3 333,17.4 330.8,16 329.6,14 329.4,11 330,9 331.8,7 334,6.4 336,6.6 340,8.2 345,8.9 347,10.1 348.4,12 349.5,15ZM115.1,27 111,29.1 108.5,32 106,33.9 103,34.7 99.4,34 96,31.5 92,29.6 89,25.5 88.4,24 87.3,17 88,14 90,10.7 93,9 100,9.6 106,8.6 108,9 112,12.7 117.1,20 117,22.4ZM188,21.1 187,21.3 185,18.9 184,17 184.5,16 186,16 188,18 188.5,19ZM535.7,138 533,139.7 529,140 524,139.5 520.3,138 518.8,136 519.3,132 511,126.7 506,125 503,122 497,114 495.8,111 495.6,108 495.9,105 497,103 498,102.2 500,101.7 507,101.9 511,103.9 515,104.2 522,108 529,116 534.1,124 536.9,134 536.9,136ZM431.8,140 414.2,140 411,136.1 405,132.2 402,129.7 400,127.1 393.2,112 392.7,108 393.3,105 394,103.6 395,102.8 397,102.5 405,104.5 407,105.5 411,108.6 415.1,116 418.6,121 420.3,125 422.2,128 424,130 429,133.6 431.4,136 432,138ZM633,140 606.7,140 604.1,132 603.9,125 602.3,119 603.2,112 604,110.4 608,108.4 611,105.6 613,104.9 619,104.7 625,106.3 627.7,108 629.1,110 630.6,114 633,117.1ZM9.4,140 0,140 0,117.6 4,122.1 8.4,131 9.8,137Z" fill="#4393C3" fill-rule="evenodd"/>
<path d="M443.2,3 443,4 442,4.7 439,5.2 433,4.3 431.1,3 431.3,2 432,1.5 437,0.5 440.4,1 442.5,2ZM539.6,6 538,8.3 536,9.4 534,9.6 530,8.4 528.3,7 527.9,6 528.1,5 529.5,4 533,2.5 535,2.2 538,3.1 539,4ZM15,11 15,8.8 21,6.9 23,7.1 25,9 24.8,11 23,12.1 17,13.1 16,12.6ZM338.7,14 338,14.5 336,14.2 335.1,13 334.9,12 336,11.7 337,12 338.3,13ZM105,29.7 103,29.9 99,28.9 96,26.7 92.6,23 91.5,20 91.3,17 92.3,15 94,13.4 97,12.5 104,13.1 109.2,16 111,17.7 111.5,19 111.2,21 107.2,25ZM534,137 532,138.4 529,139 524,138.3 521.4,137 520.8,135 523.4,131 523.2,130 515.8,126 511,121.7 507,119.7 504,117.4 502.8,115 501.6,110 501.8,107 502.5,106 505,105.6 510,107.9 517,109.5 519,110.7 522,113.9 525,116.1 526.6,118 528.3,122 530.3,125 530.9,130 534.4,134 534.6,136ZM429.1,140 416.1,140 414.9,138 414,133.9 407.5,130 402,125.4 399,117 395.9,112 395.8,109 396.9,107 398,106.7 404,108.3 410,112.9 415.9,122 417.9,128 418.4,131 419.6,132 425,133.2 428.1,135 429.1,136 429.9,138ZM633,140 610.3,140 606.6,134 605.7,131 606.1,126 604.9,119 606,115.7 608,113 612,109.9 615,109 618,109 625,111.3 629.8,118 633,121.5ZM7.5,140 0,140 0,121.8 2.1,124 6.9,132 7.7,136Z" fill="#2166AC" fill-rule="evenodd"/>
<path d="M633,140 627,140 625,137.5 624,137 616,138.1 613,136.7 610,134.3 608.3,132 607.9,130 608.2,127 607.5,120 609,117 612,115 619,114.1 621,114.9 627,119.5 628.8,122 630.8,126 633,127.1ZM522.9,122 521,123.4 518,122.9 515.5,120 514.6,117 515.8,116 517,115.9 521,117.7 523.2,120ZM5.7,140 0,140 0,127.1 3,129.3 5,132.1 5.9,136ZM532.6,135 532.4,136 531.5,137 528,137.9 523.9,137 522.9,136 522.7,135 524.1,133 527,131.5 529,131.8 531,132.8ZM427.5,138 427,139 425.6,140 418.3,140 417.3,139 416.8,137 417.3,136 419,134.9 423,134.5 426,135.4 427.4,137Z" fill="#053061" fill-rule="evenodd"/>
<path d="M0,70.4H633.6M316.8,0V140.8" stroke="#555" stroke-width="1.2" stroke-dasharray="5,4.6" fill="none"/>
<use href="#map"/>
<g fill="none" stroke="#000" stroke-width="2.1"><ellipse cx="54.2" cy="18.9" rx="15.1" ry="14.7"/><ellipse cx="144.9" cy="16.8" rx="15.7" ry="15.7"/><ellipse cx="144.9" cy="14.7" rx="8.8" ry="8"/><ellipse cx="240.4" cy="15.7" rx="21" ry="8" transform="rotate(-25 240.4 15.7)"/><ellipse cx="34.6" cy="114.4" rx="26.2" ry="18.9" transform="rotate(45 34.6 114.4)"/><ellipse cx="33.6" cy="114.4" rx="18.9" ry="11.5" transform="rotate(50 33.6 114.4)"/><ellipse cx="35.7" cy="115.5" rx="11.5" ry="4.6" transform="rotate(55 35.7 115.5)"/><ellipse cx="138.6" cy="126" rx="27.3" ry="12.6" transform="rotate(30 138.6 126)"/><ellipse cx="262.4" cy="103.9" rx="29.4" ry="10.9"/><ellipse cx="373.7" cy="2.1" rx="19.9" ry="10.5"/><ellipse cx="373.7" cy="1" rx="11.5" ry="5.2"/><ellipse cx="366.3" cy="123.9" rx="23.1" ry="12.6" transform="rotate(40 366.3 123.9)"/><ellipse cx="370.5" cy="128.1" rx="10.1" ry="5.2" transform="rotate(30 370.5 128.1)"/><ellipse cx="453.5" cy="114.4" rx="35.7" ry="18.9" transform="rotate(55 453.5 114.4)"/><ellipse cx="457.7" cy="121.8" rx="31.5" ry="11.5" transform="rotate(55 457.7 121.8)"/><ellipse cx="451.4" cy="111.3" rx="6.3" ry="4.6" transform="rotate(60 451.4 111.3)"/><ellipse cx="468.2" cy="131.2" rx="11.5" ry="4.6" transform="rotate(30 468.2 131.2)"/><ellipse cx="572.1" cy="122.8" rx="21" ry="15.7" transform="rotate(70 572.1 122.8)"/><ellipse cx="574.2" cy="123.9" rx="6.3" ry="5.5"/><ellipse cx="498.6" cy="38.8" rx="8.4" ry="6.3"/><ellipse cx="582.6" cy="37.8" rx="5.9" ry="5.5"/></g>
<g fill="none" stroke="#000" stroke-width="2.1" stroke-dasharray="6.5,4.5"><ellipse cx="100.8" cy="18.9" rx="17.8" ry="14.7" transform="rotate(10 100.8 18.9)"/><ellipse cx="98.7" cy="16.8" rx="9.4" ry="8.4" transform="rotate(10 98.7 16.8)"/><ellipse cx="188.9" cy="18.9" rx="16.4" ry="11.5"/><ellipse cx="191" cy="18.5" rx="8.8" ry="4.6"/><ellipse cx="77.7" cy="110.2" rx="15.1" ry="17.8"/><ellipse cx="181.6" cy="116.5" rx="19.9" ry="15.1"/><ellipse cx="185.8" cy="116.5" rx="9.4" ry="5.9"/><ellipse cx="308.6" cy="5.2" rx="12.6" ry="6.3"/><ellipse cx="4.2" cy="134.4" rx="10.5" ry="12.6"/><ellipse cx="413.6" cy="119.7" rx="35.7" ry="15.7" transform="rotate(50 413.6 119.7)"/><ellipse cx="415.7" cy="121.8" rx="26.2" ry="10.1" transform="rotate(50 415.7 121.8)"/><ellipse cx="417.8" cy="124.9" rx="16.8" ry="4.6" transform="rotate(50 417.8 124.9)"/><ellipse cx="505.9" cy="115.5" rx="25.2" ry="14.7" transform="rotate(40 505.9 115.5)"/><ellipse cx="620.4" cy="122.8" rx="21" ry="17.8" transform="rotate(60 620.4 122.8)"/><ellipse cx="622.5" cy="126" rx="14.7" ry="10.5" transform="rotate(60 622.5 126)"/><ellipse cx="538.5" cy="42" rx="10.1" ry="9.4"/><ellipse cx="454.5" cy="40.9" rx="8.4" ry="6.7"/><ellipse cx="522.7" cy="6.3" rx="14.7" ry="5.2"/><ellipse cx="327.5" cy="8.4" rx="12.6" ry="6.3"/><ellipse cx="321.2" cy="123.9" rx="10.5" ry="8.4"/></g>
</g>
<path d="M102.4,490.3v-6.0M102.4,631.1v6.0M120,490.3v-3.1M120,631.1v3.1M137.6,490.3v-3.1M137.6,631.1v3.1M155.2,490.3v-3.1M155.2,631.1v3.1M172.8,490.3v-3.1M172.8,631.1v3.1M190.4,490.3v-3.1M190.4,631.1v3.1M208,490.3v-6.0M208,631.1v6.0M225.6,490.3v-3.1M225.6,631.1v3.1M243.2,490.3v-3.1M243.2,631.1v3.1M260.8,490.3v-3.1M260.8,631.1v3.1M278.4,490.3v-3.1M278.4,631.1v3.1M296,490.3v-3.1M296,631.1v3.1M313.6,490.3v-6.0M313.6,631.1v6.0M331.2,490.3v-3.1M331.2,631.1v3.1M348.8,490.3v-3.1M348.8,631.1v3.1M366.4,490.3v-3.1M366.4,631.1v3.1M384,490.3v-3.1M384,631.1v3.1M401.6,490.3v-3.1M401.6,631.1v3.1M419.2,490.3v-6.0M419.2,631.1v6.0M436.8,490.3v-3.1M436.8,631.1v3.1M454.4,490.3v-3.1M454.4,631.1v3.1M472,490.3v-3.1M472,631.1v3.1M489.6,490.3v-3.1M489.6,631.1v3.1M507.2,490.3v-3.1M507.2,631.1v3.1M524.8,490.3v-6.0M524.8,631.1v6.0M542.4,490.3v-3.1M542.4,631.1v3.1M560,490.3v-3.1M560,631.1v3.1M577.6,490.3v-3.1M577.6,631.1v3.1M595.2,490.3v-3.1M595.2,631.1v3.1M612.8,490.3v-3.1M612.8,631.1v3.1M630.4,490.3v-6.0M630.4,631.1v6.0M648,490.3v-3.1M648,631.1v3.1M665.6,490.3v-3.1M665.6,631.1v3.1M683.2,490.3v-3.1M683.2,631.1v3.1M700.8,490.3v-3.1M700.8,631.1v3.1M718.4,490.3v-3.1M718.4,631.1v3.1M736,490.3v-6.0M736,631.1v6.0M102.4,490.3h-3.1M736,490.3h3.1M102.4,507.9h-6.0M736,507.9h6.0M102.4,525.5h-3.1M736,525.5h3.1M102.4,543.1h-3.1M736,543.1h3.1M102.4,560.7h-6.0M736,560.7h6.0M102.4,578.3h-3.1M736,578.3h3.1M102.4,595.9h-3.1M736,595.9h3.1M102.4,613.5h-6.0M736,613.5h6.0M102.4,631.1h-3.1M736,631.1h3.1" stroke="#000" stroke-width="1.9" stroke-linecap="round" fill="none"/>
<path d="M100.9,490.3H737.5M100.9,631.1H737.5" stroke="#000" stroke-width="2.2" fill="none"/>
<path d="M102.4,489.3V632.1M736,489.3V632.1" stroke="#000" stroke-width="3" fill="none"/>
<!-- panel 4 -->
<g transform="translate(102.4,712.6)" clip-path="url(#pc)">
<rect x="0" y="0" width="633.6" height="140.8" fill="#F8F8F8"/>
<path d="M73.8,140 36.2,140 36.6,135 36.1,132 35,130.2 33,129.4 29,129 24,126.3 21,126.6 20.6,126 20,121 18.4,117 14.1,100 11.6,95 9.8,87 9.7,85 10.7,81 9.7,77 9.7,75 12.3,71 12.8,68 12.2,64 9.9,60 10.3,57 11,55.7 13,54.2 18,52.4 19.6,46 25.2,38 29.1,34 30,25 31.2,20 33,18.3 37,16.1 40.2,12 44.6,4 45,2 44.4,0 92.6,0 91,3.6 88.7,7 87.5,13 86,17 86.9,20 90,23 91.1,26 90.5,28 88,30.1 87.1,32 88,35.4 91.1,40 90.5,45 89.8,47 88.9,48 87,48.2 85.9,47 85,43.8 84,42.8 83,42.5 78.9,43 74,44.2 70,47.9 67,49 65.7,50 62.7,57 62.8,59 64,61 66,62.3 74,65.8 75.1,67 74.4,70 68.8,79 68.5,86 66.9,90 66.8,93 65.8,96 66.1,98 67.9,101 71.7,110 70.6,112 67,114.4 64.4,121 64.8,123 68.6,131ZM102,69.4 99.8,63 98,60.8 95.2,59 94.8,58 95.1,55 97,51.6 98,50.9 104,50.4 110,48.2 123,45.5 128,42.5 132,39.1 136,37.4 140,37.1 141,36.6 142.1,35 142.7,32 144.2,28 144.2,26 143.1,22 145.6,16 150,12 154,11.2 156,10.2 159,5.8 166,0 170,0.3 171,2 170.9,6 171.6,8 173,10.1 176.2,13 177.2,21 176.9,26 177.5,30 179,32.6 181,34.4 186,36.4 187.9,38 188.6,40 188.1,44 188.2,47 190.2,52 190,53 189,53.4 188,53.1 185,50.6 182,50 179,48.8 177,48.7 173,49.4 170,48.1 167.4,53 165,56 159,59.2 158,59.3 157,58.7 154.9,54 154,52.8 153,52.4 151,52.7 145,54.7 143.5,56 142.3,58 139.5,67 141.4,68 152,70.3 155.4,72 156.2,73 156,74.2 154,76 148.1,78 140,78 132,76.8 130.6,76 129,72.9 127,70.7 121,68.3 116,68.8 114.3,67 113,66.5 109.4,67 104,70 103,70.1ZM201,34 201.1,33 202,32.4 207,31.6 209,30.6 209.9,29 211.3,24 215.2,17 223,8.2 233.9,0 285.7,0 278.1,4 273,5.7 269,9.5 258,16.4 252,17.8 249,19 243,24.8 236,27.5 233.7,31 232,32.3 229,32.8 221,30.8 218,31 216,31.8 212,35.2 209,36.5 207,36.8 202.5,36ZM612.2,140 575.7,140 571.4,133 568.6,130 562,121 558,117 557.4,115 557.7,112 557.4,111 556.2,110 549,107.7 543,103 541.2,101 538,96.1 534,92.1 532,91.8 529,93 527,93.2 523,92.4 517,92.6 513,91.4 510.5,89 508.4,84 507.8,79 506,74 505.7,72 508,64.4 511.5,60 515,53 520.9,51 522,50 521.9,48 520,45 518.3,39 517.9,36 516.3,31 517,27 518.8,23 522.9,19 524.7,16 524.6,15 522,13.3 520,12.7 517,12.8 512,13.9 503,17.2 495,17.5 493.7,18 492.4,20 491,20.8 487,20.8 485,21.5 482.3,24 479.7,29 470.1,40 469.7,43 471.8,48 471.8,49 470,49.6 461,48.3 456,46.6 452,45.9 450,45 447,42.3 446.1,41 445.7,39 447.7,31 447,27.3 446,25.7 444,24.2 440,20 437.2,15 436,10 435,8.8 434,8.4 429,9.8 424.4,7 419,5.1 417,5.5 413,7.5 405,9.1 403,10.2 398,14.4 394,19 391,20.1 390.2,21 389.1,26 390.7,36 390.2,39 389,42 389,44 396.4,52 398.1,55 397.8,57 394.9,61 393.4,64 393.2,65 393.9,66 397,67.1 402,65.7 405,63.6 409,58.2 411,57.6 416,59.1 421,67.5 423,68.8 425,69.1 428.4,72 432,74 433,73.7 435,70.9 439,69.6 447,69.5 453,71.7 457.7,70 460,69.7 461,70.6 461.7,73 460.7,77 461,78.1 462,79.1 467,80.2 472.3,83 474.6,86 478.5,89 479.7,93 480.9,95 492.2,106 497.3,115 500.7,120 509.8,140 449,140 448.2,134 449,131.3 451.2,127 450,120 448,118 442,114.8 439,111.9 436,110.1 435.3,109 435.5,107 437.5,102 441.2,97 441.2,96 440.5,95 439,94.2 435,93.8 432,89.7 430,88.2 429,88.2 426,90.4 424,91 420,91.1 415,89.8 412,89.6 409.2,90 405,91.5 396,92.7 395,91.5 393.4,87 390,81.4 384,75.6 382.9,74 382.9,73 384.5,70 384.2,69 383,68.6 381.2,69 379,71.5 376,71.4 374.3,70 373,68 368,64.6 365.7,62 364.8,60 364,55.9 361.9,51 357.5,46 354,39 353.5,35 355,27 355.6,26 360,22.6 364.2,18 369.7,15 375,11.3 380,9.7 387.1,10 389,9.7 389.9,9 390.2,7 385.6,3 385,2 385.2,1 386.2,0 548.3,0 546.6,3 543,3.6 540.8,5 540,7 540.4,9 547,15 553,15.8 558,13.9 559,14.1 560,15.2 562,19.8 563.3,25 559,32.5 555,38.1 551.9,41 549.3,46 545,48.7 537,51 535.2,52 535,53.2 538,58.2 542,61.1 546.6,63 548.7,65 548.7,66 547.7,68 548,69 552,72.6 556,75 557,78.4 561,77.3 564,78.7 567,78.8 570,80.2 571,79.9 573,77 576,76.6 577.9,78 579.4,81 585.8,85 588,88.1 590,89.3 595,91.2 597,92.6 597.8,94 599.7,103 603.4,111 607.4,124 611.1,131ZM329,127.9 326,127.4 315,122 314,122 310,124.1 308,124.6 297,123 294.9,122 292.9,118 292,117.2 287,117.6 285,117.1 284,115.8 282.4,111 278,106.5 275,102 272.9,94 272,93.2 269,92.6 265.9,89 258,85.6 252.3,80 253.3,74 258.2,69 258.7,63 259.4,61 265,55.9 270,54.3 276,51.3 283,51.1 292,48.2 294,48.4 301,50.7 303,50 304.5,48 304.3,44 303.1,41 303.2,40 304.8,37 305,33 307.7,30 311.2,28 312.3,26 313.1,22 319,16 320,15.6 322,15.8 325,16.9 330,16.8 332,17.2 334.5,19 335.3,21 335,22 330,28.7 324,32.5 322,33.2 317,30.8 315,30.7 313,34.2 308.4,36 307.1,37 307.2,38 310.5,41 311.6,43 311.4,45 309.6,47 309.6,48 315.9,52 318,56.5 322,61.4 323,62.1 326,62.7 328,63.5 329.7,66 329.7,68 327.7,73 323,80.8 316.5,87 315.8,88 315.9,90 317.9,92 325.9,95 330,97.7 332.5,100 337,105.8 343.5,109 344.5,110 344.6,111 341.4,115 337,124.7 336,125.2 334,125 331,127.3ZM582,60.2 579.3,56 577.8,50 577.9,48 582,43.4 587,31.5 590.1,26 591.6,21 593,18.9 595,18.1 611,18.6 613,18.2 618,15.8 619,15.8 625,20.4 627,24 628,27 626,33 622.9,37 617,42.5 614,42.8 613,44 613,45.1 614,46.3 618,46.5 619,47.1 619.4,48 618.5,52 618.9,55 618,57.2 615,57.4 613.6,60 612.2,61 605,61.5 600,62.8 594,62.2 588,63 584,61.6ZM616,25.2 617,24.5 617.4,23 616,21.9 614.3,23 614.2,24 615,25.1ZM493,66.7 492,67 490,66 489,64 489,61.8 491,61.5 493.5,63 493.9,65ZM39.3,74 39.5,73 38.4,67 37,64.9 35,64.9 30,68.1 27,68.1 26.8,70 27.4,72 28.3,73 33,75.2 36,75.6 38,75.2ZM555,88.8 559.6,85 559.7,84 557,81.3 556,81.3 555,82.1 553.4,85 553.5,88 554,88.6ZM266.7,130 264.3,134 264.1,140 179.9,140 177.2,138 176,137.6 174.4,138 173,140 165.1,140 163,138.9 160,138.7 157,136.8 155,136.4 152,137.9 149,138.3 147.8,140 124.6,140 118,134.1 114,133 110,133.8 107,133.2 104,131.9 100.6,129 96,126.1 92,125.4 91,124.7 85.2,119 83.9,115 83.7,113 85,111.4 88,109.7 91,108.8 95,109.7 96,109.6 101,105.5 109,103.5 115,103.4 122,105.6 130,103.7 135,103.5 140,104.3 146,106.6 153,106.9 166,109.1 178,109.7 185,109.2 190,110.4 194,110.7 198.4,113 202,115.7 204.3,121 207,124.3 210,124.9 219,123.1 221,123.2 225,125 230,129.4 233,130.1 236,131.7 243,131.1 248,132.5 250,132.7 257,129.4 264,128.1 266,128.5 266.6,129ZM269.9,140 273.1,135 275,133.2 277,133.2 279.7,136 279.7,137 278.8,138 277,139 274,139.9ZM232,139.4 232.1,138 231,138 231,139.4Z" fill="#FDDBC7" fill-rule="evenodd"/>
<path d="M37.4,40 37,39 37.6,35 37.4,22 40.5,17 43.3,14 46,9.7 50,5.2 53.9,4 55,3.1 56.5,0 74.6,0 76.5,2 78,5.9 80,8.3 80.4,10 80.7,18 78.6,24 77.8,28 77,29.5 69,35.8 65,39.6 63,40.6 57,42.3 53,42.5 49,43.6 43,41.4 39,40.8ZM216.9,24 217.2,21 219,18 225,12.8 235,6.3 239.4,2 242,0.2 275.1,0 257,13.4 247.2,17 242,21 236,23.2 230,26.7 227,27.3 221,26.4 218,25.2ZM457.3,41 455.5,36 455.7,31 454.2,24 448.3,14 448.2,13 448.7,12 451.5,10 452.4,8 451.4,6 448.3,3 447.7,1 448.1,0 513.5,0 514,1 513.8,2 511,4.9 507,5.9 502,8 498,8.4 487,7.8 482,8.8 475,9.1 472,8.8 469,7.4 468,7.2 467,7.9 467.5,9 469.5,11 473,13.6 474.6,16 475.2,19 475.3,27 473,30.2 465.3,37 462,41.9 461,42.4 459,42.4ZM462.7,8 462.2,7 460.4,7 461.7,8ZM158,32.9 157.1,32 157.4,29 159.2,27 159.6,25 158.1,22 158.2,21 160.1,18 161,12.5 162,11.5 164,11.3 167,13 169.5,17 170.2,21 168.8,24 168.7,25 170.2,28 170.6,30 170,31.2 168,32.2 166,32.4 162,31.7ZM386,61.9 384,61.3 383,60.3 382.2,56 380.8,54 375.2,50 369,49.5 362.4,46 360.6,44 358.1,39 357.9,32 359,29 367,19.7 374,15.2 377,14.1 382,14.1 385,17.3 386.3,20 386.3,23 385.2,30 384.8,36 382,42 381.3,45 381.8,47 382.8,48 386.5,50 390.2,53 390.3,55 389.4,59 388,61ZM543,42.1 540,42 536,40.3 533,40.4 532,39.9 531.1,38 531.4,34 530.8,29 532.9,26 537,22.3 539,22.2 545,23.6 552.1,26 553.1,27 552.6,29 549,35.4 545,40.6ZM586,53.3 584.9,52 584.2,49 585.9,41 589,33.7 593,29.2 596,23.7 598,22.6 600,22.6 604,23.6 607,25.1 612.7,31 613.3,33 608,39.1 604,42.1 600,42.6 599,43.2 598.2,46 599.4,50 599,51.1 595,51.4 592,53.8 591,54.1 588,54ZM139.7,45 139.9,44 141,42.8 147,40.5 149,39.2 154,34 156,34.1 159.4,40 159.6,41 159.2,42 155,45.2 150,45.2 146,46.8 144,47.1 141,46.3ZM32,57.1 31,56.6 30.1,55 29.8,48 31.4,42 32,41 34,40.2 35.4,41 35.1,44 35.4,45 38.4,49 39.1,51 36.9,56 35,56.9ZM135.3,56 132,61.8 130,62.6 126.5,62 125.1,61 124,57.8 123.3,57 119,55.9 118,54.5 117.7,53 118.8,51 120,50.6 122,50.7 125,52.3 129,51.6 132,51.6 134.8,53 135.4,54ZM306,108.8 303,108.7 299,106.4 294.8,106 292.6,105 291.6,104 291.5,102 293.4,95 292.8,92 291,89.7 286,87.9 283.8,86 281.1,80 278.8,77 278.6,72 276.8,70 276,68.1 276.1,66 277.8,61 281,58 283,57.5 285,57.8 290,62.1 292,62.9 294,62.2 295.4,60 298,58.5 302,57.3 308,56.7 314,61.1 318.9,68 318.4,73 317,74.5 315,74.3 312,72.2 311,72 305,73.7 302.2,79 301,82.9 298.3,86 298.5,87 300,88.6 304,89.5 306,90.9 309.7,99 309.9,102 309.4,105ZM545,86 542,88.4 540,89 538,88.2 535,85.8 528.7,84 526,84 521,85.8 516.7,85 515.7,84 518.5,80 518.2,76 520.2,72 520.4,69 521,67.6 523,66.3 529,66.1 532,68.5 536,69.5 541,72.8 543.8,76 545.4,79ZM65.8,69 65,71 64,71.7 63,72 61.5,71 61.2,70 61.6,69 63,67.8 65,67.8ZM414,76.3 410,76.2 408,74.7 406.8,73 407.1,71 409,68.8 411,67.5 413,67.6 414,68.3 415.6,71 415.9,74 415,75.7ZM56,135.4 54,136 50,136 46,137.7 45,137.6 44,136.6 43.3,135 42.8,130 40.4,127 37.6,125 33,124 30.7,123 28.5,121 26,117.3 22.7,115 20.3,108 20.3,101 19.8,97 20.1,93 21,90 25,86.6 26.1,83 26.9,82 40,81.6 43,80.9 46,79.4 47,79.6 52.4,83 54,84.8 55,91 57.7,96 63.3,103 63.9,105 62.6,112 58.5,119 57.9,121 58.2,125 60.3,128 60.5,130 58.9,133ZM455,92.1 454,92.5 452.7,92 452.2,90 453,88.6 454,88.2 455,88.6 455.9,90 455.9,91ZM607.8,140 585,140 581.5,138 578.2,135 575.5,131 571.6,127 562.7,108 560,106 555,104.9 553.5,104 551.4,101 550.7,98 558,94.4 562,91.8 567,91.3 571,89.5 574,88.7 576,88.9 580,92.5 586,92.9 589,94.2 593,97.3 594.4,99 601.7,113 604.3,121 604.7,128 607.2,136ZM502,140 464.4,140 462.1,138 460.4,135 457.8,123 453.6,117 452.2,113 450,109 449.6,107 450.2,105 452,103.2 456.7,100 463,97 465,94.1 470,91.6 471.6,92 472.3,93 472.5,96 473.4,98 476,99.6 482,101.3 489,106.8 491,109 495,116.1 498.7,121 500,124 500.8,129 502.3,133ZM326,109.6 325,109.9 323,109.2 321,106.7 320.5,104 322,101.7 323,101.4 325,101.7 326.9,103 327.5,104 327.6,107ZM205.4,131 204.4,134 203,136.3 201,137.8 199,138.3 197,138 194,136.1 192,135.4 188,135.3 180,134.1 173,132.4 165,133 160,131.3 154,130.6 151,130.9 145,133.6 141,133.7 128,130.5 123,130.1 119,128 116,126.9 112,126.2 108,126.1 106.1,125 99.5,119 99,117 100,115.5 102,114.1 108,111.5 120,113 126,110.9 129,110.8 132,111.4 136,113.2 142,114.3 149,112.6 152,112.4 158,114.3 162.8,117 167,117.4 171,119 174,118.3 182,118.9 187,117.5 190,118 202,125.2 205.2,129Z" fill="#F4A582" fill-rule="evenodd"/>
<path d="M222.5,21 223.2,19 225.7,16 236.8,9 244,3.1 253.2,0 261.6,0 263.5,1 264.2,2 262.2,6 256,11 245,15.1 240,18.8 235,19.6 228,23 223.7,22ZM471.1,1 471.3,0 498.3,0 498.8,2 498,3.3 496,4.1 479,5.2 474,4.1 472.5,3ZM44.4,36 42.9,34 41,25 42,22.3 48.2,12 50,10.3 54,8.1 60,6.2 65,3.6 69,2.8 71,3 72,3.6 75,9 77,11.7 77.5,14 76.9,18 73.3,26 69,30.1 65.9,32 62,35.7 60,36.7 55,37.9 49,38.1 47,37.7ZM467,25 465,25.5 463,24.9 457.6,20 457.2,19 457.4,17 459,14.2 460,13.7 462,13.8 464,14.7 465.4,16 468.2,22 467.8,24ZM369,45.4 365,43.2 361.7,39 361,36 360.9,31 367.3,23 372.2,19 376,17.2 379,17.3 381,17.8 383,19.3 384,22 381.8,36 381.1,38 378,42 375,44.7 372,45.8ZM590.2,45 589.5,42 590,39.5 594.7,34 596,30 597.2,28 599,26.9 601,26.9 604,27.9 606,29.4 607.5,32 606.7,34 605,35.3 599.4,38 595,39.5 593.2,44 591,45.4ZM49,125.8 46,125.1 36.8,120 35.6,119 33,115 30.1,112 28.8,110 25.2,107 24.7,104 25.5,98 26.1,96 27,94.9 31,93.1 35,90.6 39,90.1 42,90.6 47,90.2 48.4,91 49.4,94 51.8,97 53,100.2 54,101.2 57,102.1 59,104 59.8,107 59,109.9 52.3,122ZM602.4,140 593,139.7 586.1,137 581,132.8 577.9,128 573.3,123 569.5,114 567.7,108 560.1,101 559.7,100 560.4,99 564.9,96 570,94.6 572,94.5 576,95.3 580,97 586,97 590.7,100 600,114.2 601.6,118 602.3,122 601.3,128 601.2,133 602.7,137ZM497.1,140 474.4,140 467.6,136 464,131.5 462.7,129 462,126.6 461.7,121 458.1,114 458.2,111 460,108.1 461.3,107 467,104.9 479,104.1 482,105.1 487.2,109 489.1,111 497.4,124 498.5,135ZM171.9,125 171.8,126 167,128.1 164.3,128 158,125.9 151,127.2 146,128.9 143,129.1 137,128.3 131,125.7 119,124.2 110.4,120 111,119 113,118 128,115.8 130,116.1 134,118.2 136,118.6 146,117.8 151,118.3 157,120.7 166,121.5ZM183.7,129 182,129.9 178.4,129 177.2,128 177.4,126 179.1,124 182,123.8 183.2,125 184,127Z" fill="#D6604D" fill-rule="evenodd"/>
<path d="M245.3,9 245.3,7 246,6 247.7,5 255,3 257,3.1 258,4 257.2,6 255,8.3 253,9.5 247,10.3 246,10ZM51.2,34 50,32 49.4,28 48.9,27 46.5,25 46.2,24 50,14.5 52,12.7 56,11.3 62,10.8 67,8.6 70,8.4 71,8.8 73.9,13 74.4,16 73.8,18 69.2,26 67.2,28 63,29.9 61,32.3 59,33.8 55,34.7ZM367,40.3 365,38 364.3,36 364.3,32 365.3,30 369,25.4 374,20.8 377,19.9 380,20.5 381.3,22 381.5,24 380,31.8 378,37.2 376,39.3 373,40.8 369,41ZM44,118.8 42,117.9 40.3,113 37,110.6 36.2,109 37,105 36.8,101 41,97.8 43,97.1 45,97.5 46.8,99 51,106 50.3,109 48.2,113 46.8,117 46,118.1ZM595,132.7 590,133.9 588,134 584.5,132 582.3,130 580,126.4 576.1,122 574.8,120 571.8,113 570.6,106 567.8,102 567.8,101 568.5,100 572,99.2 577,100.6 586,100.8 592,106.5 598.8,116 600.2,120 599.7,124 596.5,131ZM489,139.2 487,140 483.7,139 482.2,138 480.7,134 479,132.2 477,131.7 474,132.4 472,132 471.5,131 471.8,128 471.1,127 469,127.3 467,126.2 466.6,125 467.2,121 465.1,117 464.8,114 469,109.2 471,108.6 478,108.3 481,108.9 485.7,112 491.2,118 494.5,125 494.9,129 493.7,134Z" fill="#B2182B" fill-rule="evenodd"/>
<path d="M56,29.4 55.1,27 54.9,23 57.6,17 59,16.1 66,14.6 68,14.6 68.6,15 68.8,16 66.9,20 66,23.5 65,25 62,26.3 58,30 57,30.1ZM370,35.9 368.9,35 368.1,33 368.9,30 370.3,28 374,25 376,24.1 377,24.1 378.1,25 378.4,27 377,32 375,34.4 373,35.8 371,36.2ZM593,129.2 590,130.3 587,130.3 585.1,129 581,124.3 577,118.5 574.4,113 573.7,108 574,106.6 575,105.6 577,104.9 584,104 587,105.3 591.4,109 596.9,117 597.7,120 597.5,122 596,125.2ZM488,124.6 486,125.9 485,125.1 483,121.1 478,118.5 473.3,117 472.8,116 473.1,115 478,113 480.1,113 482.1,115 484,117.9 488,121.1 488.5,123Z" fill="#67001F" fill-rule="evenodd"/>
<path d="M0,39.2 0,28.8 0.6,26 0,23.5 0,0 1.9,0 2.7,6 4,6.4 6.4,5 7.8,0 39,0 39.2,3 38.4,8 37.2,11 36,12.4 34,13.3 29,14.4 22,14.5 19.2,15 18,16 16.7,19 14.9,21 14.4,23 15,28.6 15.9,32 14.9,35 15.1,39 13.9,41 12.6,42 11,42.4 4,38.9ZM101.5,34 99.7,30 97,27 96,25 94.6,15 97.2,7 100.3,0 138.5,0 138.3,4 140.6,8 141.1,11 138.1,22 138.1,27 136.6,29 134,30.7 129,31.9 122,37 118,37.9 112,40 110,39.9 109,39.4 107.1,36 106,35ZM222.1,0 220.1,2 218.2,6 215.9,9 209.3,22 206,25.5 203,26.5 196,24.8 190,24.3 187,24.7 186.4,24 185.7,21 187,7 185.3,5 182,3.8 181.2,3 180.2,0ZM220.4,40 221.1,39 227,37.8 230,38.6 233,40.6 237,42 238,41.6 241.2,36 241.3,31 245,27.7 250,22.3 252,21.3 258,20 262,17.4 269.2,14 274,11 282,8.2 288,5.5 294,4 299,3.8 300.8,2 301.1,0 377.6,0 377.9,5 377.3,6 369,12.1 361,14.9 357,16.9 355,17.3 350,17.1 344,19.8 342,19.2 339,17.4 335,13.9 325,13.3 319,10.7 311,3.9 309,3.4 306.9,4 302.7,7 304.6,15 306.9,19 306.9,23 298.8,32 296.9,38 296,38.8 292.2,40 288,42.1 277,43.6 272,48.1 269,50.1 267,50.4 263,49.9 256,52.7 252.6,55 250,59.3 246,61.3 242,61.8 239,61.3 233,57.3 226.1,54 223.7,51ZM569,36 568,33 568.3,25 566.8,16 566.9,12 566.1,8 566.6,4 565.7,2 562.8,0 633,0 633,22.4 632.1,19 631.8,10 631,8.1 629,7.2 625,7.7 623,7.2 621.6,6 620,3.4 619,3.1 613,5.3 609,5.4 608,5.8 607.1,7 607,8 608.5,11 608.2,12 600,14.9 594,13.6 591,15 588.9,18 587,26 583.4,36 582,38.2 580,40 578,40.4 574,39.4 571,38ZM402.1,48 399,42.2 396.5,39 396.3,33 397.2,29 398,27.2 404,21.7 407.6,17 414,13.6 422,12.5 423,13.1 426,17 432.9,21 435,26 437.8,30 439.9,37 439.5,41 438,44.2 436,44.7 432,44.2 431,43.4 430,41 428.6,40 427,39.9 423,42.4 418.9,44 415,47.1 413,47.9 407,49ZM494,54.5 492,53.2 489.3,48 485,43 479.8,40 478.8,38 479.4,35 486,29.2 496,26.4 502,23.1 505,22.5 509,23.8 510.5,25 511.5,30 511.6,33 511,37 512.4,44 512.1,46 507.7,50 506.3,53 505,54.1 498,55ZM356,105.5 348,102.1 343,102.5 339.2,101 336.6,99 332.6,93 331.3,89 331.5,88 334,85.6 335,83 335.1,81 333.2,77 334.3,74 336,72.4 346,73.5 348.1,72 348.5,70 348,68.8 347,68 341,68.4 339,67.5 335.4,63 330,54 329,52.9 325.7,51 324,48 324,46.9 327,44.9 327.9,39 329.7,35 335,30 344,26.2 345,26.2 346.1,27 347,33 348.9,38 353,43.9 356.2,51 356.8,56 356.1,61 358.7,66 359,74 359.4,75 361.4,77 361.7,78 358,85.3 357.9,87 358.7,91 358.4,95 359.3,99 358.7,101 357.1,103 356.9,105ZM633,39.7 632,39.1 631.6,38 633,31.8ZM205.5,48 205,48.6 203,48.9 200.2,48 198.9,46 199.4,44 202,42.9 204,42.8 205,43.3 206,45ZM578,66 571,67.1 564,69.4 562,69.5 560,68.2 556.2,64 554.3,60 550.2,56 550.2,55 555,49.7 559.6,47 562,44.7 564,44.2 567,44.5 570,46.8 574,52.8 575,58.9 577.8,62 578.7,64 578.6,65ZM473.2,59 472,60.4 468,62.5 457,66.2 451,65.3 435,65.3 432,64.2 429.8,62 429.4,61 429.7,57 429.3,54 430.4,52 432,50.9 437,50.7 440.1,49 446,47.8 452,49.5 465,51.8 472,55.9 473,57.3ZM198,67 197,67.4 196,67.1 195,65.9 195,64 196,63.4 197,63.7 198,65.2ZM480,66.9 479,66.9 478,66 477.7,65 478,63.7 479,63.4 480.1,64 480.8,66ZM470,71.7 468.9,71 469.2,68 470,66.3 471,65.7 472,65.8 473.8,68 473.8,70 472,71.2ZM633,140 619.7,140 617,137 608.9,122 606.4,116 603.2,105 602.9,102 604.1,95 606,90 605,85 604,84.7 600,85.4 597,85.3 594,84.2 592.4,83 590.8,80 590.7,78 591.4,75 594,72.5 596,71.7 600,71.7 601,72.1 603,74.1 603.9,73 603.4,71 604,70 605.8,69 613,66.7 616,67 619.2,68 623,71.4 627,71.6 629,70.7 631,70.4 633,71.5 633,74.2 631.5,76 631.3,77 633,80.4ZM83,106.2 81.8,106 75,101.6 73.7,99 72.7,94 72.7,91 74,86 73.9,78 76,73.9 78,71.8 80,71.4 81,72.1 83.1,81 85.3,86 87,87.8 90.6,90 91,91 90.3,94 87.4,98 86.5,103 85,105.1ZM483.1,77 482,78.1 480,78.2 478.8,77 478.6,76 479.4,75 482,74.9 483.3,76ZM286.6,125 286,126.2 279,127 277,126.4 271.1,123 269,121.3 258,121.5 256.5,122 253,125.4 251,126.7 248,127.4 245,127 234,123.6 219,115.8 209,114.5 195,103.9 190,104 186.1,102 184.7,100 183,99.3 178,99.5 174,101.7 166,103.9 161,103.4 157,104 150,102.9 143,100.6 140,98 138,97 132,97 127,95.6 124,96.1 120,99.1 118,99.8 108,99.8 100,97.9 99,96.9 97.1,93 93.4,89 93.3,88 95,85 101,79 106,78.2 114,75.3 117,75.8 121.3,78 123.3,80 125.1,85 127,86.7 129,87.5 132,86.8 133.6,85 135.3,82 137,80.9 146,81.7 165,77.3 171,78.2 175,78.3 180.2,79 182.8,80 183.2,81 183.1,83 181.5,85 178.4,87 178.1,89 179,90.5 182,92.9 184,96.6 187,99.8 188,99.8 191,98.9 192,98 197.2,90 198,85.2 200,83.4 202,82.3 204,82.1 214,83.5 216.3,82 218,78.5 219,77.4 227,75.3 235,78.3 238.1,81 242.1,83 245.8,86 254,88.7 259.9,93 261.7,96 262,102 263,103.4 266.2,105 267.9,110 269,110.5 272,108.1 274,108.7 275.3,110 276.2,113 280.6,121 282,122.1 285,123.3ZM188,81 186,81.2 183.3,80 186,76.2 187,76.8 188.6,80ZM383,92 381,92.9 379,92.6 373,90.6 370,87.8 368.8,86 368.4,84 369.3,82 372,78.8 373.6,78 375,78 377,79.4 381,84.9 384,88 384.4,90ZM10.5,140 0,140 0,81.6 3,85.1 5.1,90 11.4,101 15.1,115 15.9,121 14.8,128 11,133.7ZM569.4,140 515.5,140 510,133.3 505.9,127 502,118.4 490.4,98 489.5,95 489.6,93 493.8,86 496,84.4 498,83.8 502,84.3 504,85.7 505,87.1 506.5,93 508.1,95 511,96.2 519,96.7 524,97.9 527,99.3 530.5,102 544,109.1 549,113 554,121 560.2,125 563.9,130 566.1,135ZM237,102.3 238.2,101 238,99.6 237,98.3 235,97.9 234,98.7 233.6,100 233.9,102 235,102.7ZM440.1,140 422.9,140 421.2,135 419.1,132 413,128.7 408.9,127 407.1,125 406.3,122 405.4,121 401,120.8 400.1,119 402.8,112 401.7,107 402,104 403,101.7 405,100.9 411,100.9 413,101.6 416,105.4 422.2,108 426,112 432,116.6 435,121 438.2,124 440.3,127 442.1,135 441.8,137ZM80,127.7 78,128.5 76,128.4 73,126.8 71.3,123 70.9,120 71.3,119 73,118 75.6,118 78,119 80.5,121 81.9,123 82.1,124 81.4,126ZM404.2,127 402.9,127 402.8,126 404,125.6 404.6,126ZM368.6,140 361.8,140 362,138.8 362.9,138 364,137.8 366,138.2 367.7,139Z" fill="#D1E5F0" fill-rule="evenodd"/>
<path d="M35.3,5 34,8.8 32,10.3 29,11.1 22,11.4 18,10.9 16,10 13.8,7 13.3,4 14.3,2 16.4,0 34.8,0ZM131,24.5 129,25.5 126,26.3 120,26.7 115,26.2 112,26.8 108.7,26 106,24.4 102.6,18 102.3,16 104.5,6 109.2,0 130.6,0 132,1.3 133.6,4 136.1,10 136.3,12 134.2,19 132.3,23ZM372.1,2 371.8,4 370,6.6 363,10.5 355,12.8 343,13.8 340,13.4 335,10.9 328,10.9 323,9.4 320.8,8 319.2,6 318,3 317.7,1 318.1,0 371.5,0ZM578,36 576,35.1 575.1,34 572.9,29 572.4,20 573.8,11 574.3,10 578,7.5 580.5,4 586,2.4 588,3.9 588.6,6 587.3,10 584.2,13 583.7,14 583.6,17 584.6,22 584.2,25 581,34.2 580,35.4ZM251,34.4 251,33 252.7,30 256,27.2 257.8,25 260.6,23 269,18.6 275,18.6 281,16.2 285,15.2 290,11.3 294,11.6 296.9,13 300.8,19 300.4,22 296,29.8 292.6,34 287,37.7 280,38.9 275.4,39 273.1,40 269.3,43 267,43.4 258.5,41 254,36.5ZM205.8,18 204.2,20 202,20.4 199.6,19 198.8,18 198.7,17 200,16.3 204,16.4 205.5,17ZM429.4,32 428.5,33 425,34.9 421,39 418,39.7 406,36.6 404,34.7 403.3,32 404,29 409,23 411,21.5 413,21 418,21.3 420,22 424,26.6 428.6,29 429.5,31ZM505.4,44 503,45.5 501,46 499,45.8 494,44 493,43 490.8,38 491,35.7 492.5,34 495,32.8 501,32.7 505,33.6 506,35 506.6,40 506.4,42ZM347.2,57 343,57.5 338.1,56 337.3,55 336.2,51 332.3,46 332.1,43 333,40.5 339,36.1 341,35.9 343,36.8 349.3,45 349.8,47 349.7,54 348.8,56ZM565,61.6 564,61.7 563,61 562,59 562,56.6 563,55.4 564,55.2 565,55.9 567,58 566.7,60ZM461.6,59 461,60 459,60.4 457.7,60 457.3,59 458,57.5 459,57.4 461.1,58ZM115,94.5 112,94.1 110.3,92 110.6,87 109.9,84 111,82.6 117,84.1 118.8,86 119.7,88 119.5,90 119,91ZM150,97.5 145.3,93 144.8,91 145,90 146,88.9 150,87.2 153,85 156,83.8 158.4,84 160,87.3 162,89.9 164,91.7 166.9,93 167.4,94 166.6,95 164,96.4 159,96 153,98.3ZM633,140 629.8,140 627,138.8 625,137.3 623,134.9 617,129.3 612,123.1 608.4,116 606.5,106 606.6,104 609,95.7 614,90.4 615,90.1 619,91.1 625,91.5 629,92.5 633,94.5ZM0.2,140 0,94.7 3,95.4 5,96.7 8.6,102 10.6,107 12.7,115 13.1,119 12.5,123 10.5,128 6,134.9ZM249,101.7 247,100.2 246.1,98 246.7,95 248,94 249,94.1 250,94.9 251.4,98 250.9,100 250,101.2ZM215,107.8 213.5,107 212.4,105 212.7,102 215,98.6 217,98.4 219,98.9 220.9,101 220.6,103 218,105 216,107.6ZM562.1,140 522.7,140 519,137.5 513,132.2 508,125.8 500,109 499.1,104 500,101 502,99.7 505,99.2 515,99.3 519,100.1 523,101.7 533.3,109 541,112 542.3,113 552,125.3 556,127.8 559,131 560.6,134ZM255,114 253.9,117 252,118.7 246,121.5 243,121.8 236,120.2 230,116.9 227.9,115 227.4,112 228,110 230,108.4 241,106.9 249,104.9 250,105.1 250.9,106 252.1,109 254.6,112ZM427,130.7 425,130.7 417,125.5 414.3,123 413.1,121 412.8,119 413.1,117 414,115.6 416,114.5 419,114.9 424,117.2 429,121.7 430.4,124 430.4,126Z" fill="#92C5DE" fill-rule="evenodd"/>
<path d="M17.8,7 17.2,5 17.6,3 19,1.2 20.9,0 30.5,0 32.4,3 32.5,5 32,6.2 31,7.4 29,8.5 21,8.9 19,8.3ZM366.5,2 365.5,5 361,8.8 355,10.6 349,11.2 341,10.8 335,8.5 326.4,8 323.4,6 322.2,3 322.8,1 323.9,0 366.2,0ZM124,21.8 119,21.8 112.5,19 109.5,16 108.5,14 108.9,12 110.9,9 111.2,6 112.1,4 114,2.3 119,0.2 121,0.3 125,2.6 130,4.5 131.2,6 132,8.5 132.4,12 131.7,14 127.1,20ZM578,29.1 576.9,28 576.4,23 577,21.3 578,20.9 580,21.8 580.7,24 579.4,28ZM260.5,35 260.8,32 263,27.7 266.2,25 270.1,23 275,22.8 280,25.2 285,26.3 287.7,25 289,24.9 290.6,26 290.3,27 289,27.8 286,28.2 285.2,29 284.9,32 284.5,33 283,34 279,35.1 269,35.6 264,36.8 262,36.5ZM419,34.8 418,35 416,34.4 412.1,32 411.2,31 411.1,29 411.9,27 412.8,26 416,25 418,25.5 419,26.3 420,28 420.8,31 420.5,33ZM633,135.3 630,135.3 627,134.2 615,123.2 611.6,118 610.4,114 609.8,106 612,99 613.3,97 615,95.8 623,94.6 633,99.1ZM0,134.9 0,99.1 2,99.3 4,100.5 7.7,105 8.6,107 10.9,116 11.2,119 10.2,123 7.1,128 3,132.7ZM556.9,140 530.8,140 523.4,137 514,129.2 509,122.5 507.2,119 504.1,111 504.1,105 506,103.3 509,102.4 514,102 518,102.6 523,105.2 529,110 540,115.3 542,117.4 546.6,124 549.4,130 551,131.3 555,132.8 556.3,134 557.3,137ZM245.3,117 244,118.2 240.8,118 236.4,115 235.6,113 236.1,112 238,110.8 240,110.4 242,110.7 245.7,114 246,115Z" fill="#4393C3" fill-rule="evenodd"/>
<path d="M362.3,2 361.5,5 359.5,7 356,8.4 352,9.3 349,9.3 340,7.9 336,6.1 330.7,5 329.4,4 330,3 333,1.1 337.8,0 360.8,0ZM28.6,4 28.2,5 27,5.9 25,6.3 22,5.4 21.2,4 22.7,2 25,1.3 27.6,2 28.4,3ZM123,17.9 118.3,17 116.8,15 116.4,9 116.7,8 119,6.1 121,5.3 125.5,8 126.5,9 127.2,11 125,16.3ZM275,31 273.8,31 272.9,30 273,29 274,27.9 275,27.9 276.1,29 276.1,30ZM633,131.3 629,131.4 626,129.8 617,121.9 613.6,116 613.3,110 614.6,103 616.5,100 619,98.3 622,98 629,101 633,102.1ZM0,131 0,102.2 4,103.6 6.3,106 9.2,117 9.4,119 8.3,122 4.9,127ZM547.6,135 546.8,136 545,136.8 538,138.4 534,138.1 525,135.1 516,127.4 514,123.4 510,119.4 509,117 507.7,111 508.4,108 510.5,106 513,104.8 515,104.6 518,105.1 522,107 528,112 539,118.3 540.8,120 544.4,126Z" fill="#2166AC" fill-rule="evenodd"/>
<path d="M357.6,4 356,6 352,7.2 350,6.9 347.9,6 345.3,4 345.4,3 348,1.1 352,0.7 356,1.6 357.5,3ZM633,127.9 630,128.1 627,127.3 622,123.5 618.9,120 616.6,115 616.5,112 618,105.9 619,104.2 620,103.5 627,103.5 633,104.7ZM0,127.5 0,104.7 3,105.5 4.5,107 5.2,109 6.6,118 6.1,120 2.9,125ZM541.4,132 539,134.1 536,134.8 529,133.8 526,132.5 517.9,126 516,121.2 512.4,117 511.8,114 512.5,111 516,108.3 518,108.2 521,109.5 532,116.6 538,121.4 541.8,126 542.6,129Z" fill="#053061" fill-rule="evenodd"/>
<path d="M0,70.4H633.6M316.8,0V140.8" stroke="#555" stroke-width="1.2" stroke-dasharray="5,4.6" fill="none"/>
<use href="#map"/>
<g fill="none" stroke="#000" stroke-width="2.1"><ellipse cx="73.5" cy="15.7" rx="19.3" ry="16"/><ellipse cx="73.5" cy="14.7" rx="8.8" ry="6.7"/><ellipse cx="165.8" cy="17.8" rx="14.7" ry="16.4"/><ellipse cx="165.8" cy="14.7" rx="6.3" ry="5.5"/><ellipse cx="272.9" cy="5.2" rx="21" ry="5.2"/><ellipse cx="47.2" cy="111.3" rx="23.1" ry="22" transform="rotate(40 47.2 111.3)"/><ellipse cx="44.1" cy="109.2" rx="15.7" ry="13.6" transform="rotate(40 44.1 109.2)"/><ellipse cx="45.1" cy="108.1" rx="6.7" ry="6.3"/><ellipse cx="155.4" cy="123.9" rx="17.8" ry="8.4"/><ellipse cx="298.1" cy="97.6" rx="13.6" ry="8.4" transform="rotate(15 298.1 97.6)"/><ellipse cx="292.2" cy="78.7" rx="3.4" ry="1.7"/><ellipse cx="382.1" cy="114.4" rx="26.2" ry="17.8" transform="rotate(65 382.1 114.4)"/><ellipse cx="380" cy="117.6" rx="8.4" ry="6.3"/><ellipse cx="475.5" cy="118.6" rx="28.3" ry="17.8" transform="rotate(60 475.5 118.6)"/><ellipse cx="470.9" cy="108.7" rx="3.4" ry="2.7"/><ellipse cx="587.8" cy="119.7" rx="28.3" ry="16.4" transform="rotate(55 587.8 119.7)"/><ellipse cx="589.9" cy="123.9" rx="13" ry="7.3" transform="rotate(30 589.9 123.9)"/><ellipse cx="394.7" cy="2.1" rx="14.7" ry="6.3"/><ellipse cx="505.9" cy="1" rx="23.1" ry="7.3"/><ellipse cx="596.2" cy="39.9" rx="5.9" ry="5.5"/></g>
<g fill="none" stroke="#000" stroke-width="2.1" stroke-dasharray="6.5,4.5"><ellipse cx="120.1" cy="14.7" rx="18.9" ry="16.4"/><ellipse cx="118.6" cy="13.6" rx="12.2" ry="9.4"/><ellipse cx="204.7" cy="14.7" rx="10.9" ry="15.1"/><ellipse cx="2.1" cy="115.5" rx="12.6" ry="18.9"/><ellipse cx="1" cy="117.6" rx="6.3" ry="12.6"/><ellipse cx="424.1" cy="114.4" rx="23.1" ry="19.3" transform="rotate(60 424.1 114.4)"/><ellipse cx="427.2" cy="115.5" rx="11.5" ry="10.9" transform="rotate(60 427.2 115.5)"/><ellipse cx="525.9" cy="120.7" rx="30.4" ry="16.8" transform="rotate(40 525.9 120.7)"/><ellipse cx="626.7" cy="114.4" rx="18.9" ry="16.8" transform="rotate(50 626.7 114.4)"/><ellipse cx="629.8" cy="116.5" rx="10.5" ry="9.4" transform="rotate(50 629.8 116.5)"/><ellipse cx="340.1" cy="5.2" rx="21" ry="8.4"/><ellipse cx="342.2" cy="3.1" rx="12.6" ry="4.2"/><ellipse cx="587.8" cy="8.4" rx="14.7" ry="6.3"/><ellipse cx="553.2" cy="44.1" rx="9.9" ry="8.8"/><ellipse cx="348.5" cy="130.2" rx="12.6" ry="5.2" transform="rotate(30 348.5 130.2)"/><ellipse cx="477.6" cy="36.7" rx="4.6" ry="3.4"/></g>
<g transform="translate(154.9,46.2)"><path d="M-5,0C-5,-4 -2,-8 3.4,-9.6L3.7,-8.1C1.5,-7.4 0.3,-6.3 0,-5A5,5 0 0 1 5,0C5,4 2,8 -3.4,9.6L-3.7,8.1C-1.5,7.4 -0.3,6.3 0,5A5,5 0 0 1 -5,0Z" fill="#E60000" stroke="#000" stroke-width="0.9" stroke-linejoin="round"/><text x="0" y="2.9" font-size="8" font-weight="bold" style="fill:#fff" text-anchor="middle">M</text></g>
<g transform="translate(460.2,46.6)"><path d="M-5,0C-5,-4 -2,-8 3.4,-9.6L3.7,-8.1C1.5,-7.4 0.3,-6.3 0,-5A5,5 0 0 1 5,0C5,4 2,8 -3.4,9.6L-3.7,8.1C-1.5,7.4 -0.3,6.3 0,5A5,5 0 0 1 -5,0Z" fill="#E60000" stroke="#000" stroke-width="0.9" stroke-linejoin="round"/><text x="0" y="2.9" font-size="8" font-weight="bold" style="fill:#fff" text-anchor="middle">2</text></g>
</g>
<path d="M102.4,712.6v-6.0M102.4,853.4v6.0M120,712.6v-3.1M120,853.4v3.1M137.6,712.6v-3.1M137.6,853.4v3.1M155.2,712.6v-3.1M155.2,853.4v3.1M172.8,712.6v-3.1M172.8,853.4v3.1M190.4,712.6v-3.1M190.4,853.4v3.1M208,712.6v-6.0M208,853.4v6.0M225.6,712.6v-3.1M225.6,853.4v3.1M243.2,712.6v-3.1M243.2,853.4v3.1M260.8,712.6v-3.1M260.8,853.4v3.1M278.4,712.6v-3.1M278.4,853.4v3.1M296,712.6v-3.1M296,853.4v3.1M313.6,712.6v-6.0M313.6,853.4v6.0M331.2,712.6v-3.1M331.2,853.4v3.1M348.8,712.6v-3.1M348.8,853.4v3.1M366.4,712.6v-3.1M366.4,853.4v3.1M384,712.6v-3.1M384,853.4v3.1M401.6,712.6v-3.1M401.6,853.4v3.1M419.2,712.6v-6.0M419.2,853.4v6.0M436.8,712.6v-3.1M436.8,853.4v3.1M454.4,712.6v-3.1M454.4,853.4v3.1M472,712.6v-3.1M472,853.4v3.1M489.6,712.6v-3.1M489.6,853.4v3.1M507.2,712.6v-3.1M507.2,853.4v3.1M524.8,712.6v-6.0M524.8,853.4v6.0M542.4,712.6v-3.1M542.4,853.4v3.1M560,712.6v-3.1M560,853.4v3.1M577.6,712.6v-3.1M577.6,853.4v3.1M595.2,712.6v-3.1M595.2,853.4v3.1M612.8,712.6v-3.1M612.8,853.4v3.1M630.4,712.6v-6.0M630.4,853.4v6.0M648,712.6v-3.1M648,853.4v3.1M665.6,712.6v-3.1M665.6,853.4v3.1M683.2,712.6v-3.1M683.2,853.4v3.1M700.8,712.6v-3.1M700.8,853.4v3.1M718.4,712.6v-3.1M718.4,853.4v3.1M736,712.6v-6.0M736,853.4v6.0M102.4,712.6h-3.1M736,712.6h3.1M102.4,730.2h-6.0M736,730.2h6.0M102.4,747.8h-3.1M736,747.8h3.1M102.4,765.4h-3.1M736,765.4h3.1M102.4,783h-6.0M736,783h6.0M102.4,800.6h-3.1M736,800.6h3.1M102.4,818.2h-3.1M736,818.2h3.1M102.4,835.8h-6.0M736,835.8h6.0M102.4,853.4h-3.1M736,853.4h3.1" stroke="#000" stroke-width="1.9" stroke-linecap="round" fill="none"/>
<path d="M100.9,712.6H737.5M100.9,853.4H737.5" stroke="#000" stroke-width="2.2" fill="none"/>
<path d="M102.4,711.6V854.4M736,711.6V854.4" stroke="#000" stroke-width="3" fill="none"/>
<!-- panel 5 -->
<g transform="translate(844.7,45.7)" clip-path="url(#pc)">
<rect x="0" y="0" width="633.6" height="140.8" fill="#F8F8F8"/>
<path d="M40,44 39.1,41 39.7,36 39.8,27 42.3,22 47.4,17 51,15.7 60,14.8 69,12.2 72.7,10 75,8 76.7,6 78.8,2 81,0.7 86.1,0 100,0 104,2.7 107.8,4 108.6,5 109,9 106.8,17 99,25 94.4,28 87.5,34 77,38.6 65,40.3 59,47.6 56,48.9 51,49.1 44,47.3 41.7,46ZM190,64.3 186,65.2 181,64.5 178,62.6 175,59 172,56.6 160.9,53 159.3,52 158.9,51 158.2,45 158.6,40 160.2,34 163.2,30 164.5,27 166.4,15 168.6,6 168.1,0 199.6,0 200.3,3 210.2,20 213,23.1 220.2,28 220,29 216,31.2 212,34.2 210.5,36 210.1,39 211.3,45 209.9,48 208,49.8 204,51.5 199,55.3 193.7,62ZM238.3,28 239.2,27 242,26.3 244,25 251.7,13 251.3,10 248.2,4 247,0 311.1,0 310.7,3 308.7,6 305,9.4 297.8,14 295.6,16 294.9,18 293.7,25 289,32 288.8,35 278,40.1 263,43.9 259,43.7 255.8,42 255,41 253.8,37 250.7,34 245,30.1ZM372.6,40 372,39 371.9,35 369.2,27 370.3,22 372.8,18 376.8,14 383.2,10 392,2.1 395.5,0 403.7,0 405,1 406.6,4 406.2,6 400.3,14 397.5,19 394.6,23 386.5,31 380,38.3 376,40.9 374,40.8ZM425,67.4 423.9,65 424,61 427.3,53 429.3,46 433.8,36 435,32.2 436.1,31 443,26.4 447.5,21 452.3,13 455,3 458,0 470.9,0 473.7,1 474.5,2 474.6,3 473.2,8 473,11 475.2,21 472.4,31 471,38.7 469.3,44 468.7,48 467,51.6 462,57.6 460,58.2 452,58.3 448.9,59 442,63.1 434,68.7 432,68.9 427,68.1ZM521,83.8 515.2,80 509,78.1 508,77.4 506.9,75 506.2,72 507,70 512,63.3 516.1,56 517.1,50 516.6,39 518.4,29 520,25.9 526.2,19 527.2,17 527.2,16 526.1,14 519,5 519.5,4 521,3.2 531,0 540.4,0 549,1.7 551,3 552.7,5 553.4,8 550.8,11 548,13.1 542.5,16 541.9,17 542.6,21 542.7,26 544.4,33 544.9,38 544.8,51 545.8,58 545.5,61 540,66.8 537.9,72 529,82.3 526,84 524,84.2ZM628.7,60 627.4,61 625,61.7 614,63.1 611,62.7 600,60 593,59.7 592,59.1 585.4,47 584.1,43 583.8,40 585.1,31 590,19.2 591,17.8 592.1,17 594,16.9 603,21.7 611,27.4 614.9,31 615.8,33 616.2,41 617,43 625,48 630.1,54 630.7,57ZM414.6,118 413.1,120 411,121.2 402,122.7 392,122.2 382,120.8 369,120.9 365,120.1 362.5,119 359.8,117 356.2,112 353,108.8 351,107.8 346,106.7 343.5,105 342,101 340,98 338,93.3 335,90.8 332.6,88 325,83.7 318.6,78 314,72.8 306.8,69 305.3,67 302.3,59 296,54.2 295.4,53 295.6,52 296.2,51 299.3,49 313.7,43 322,37.8 326,36.9 340,37.3 344,37.8 354,40.8 359,42.8 366,44 370,43.4 377,46.5 382,52.1 385.4,59 392,66.3 397,70.1 401,71.1 403.3,73 404.9,79 412.5,93 416.2,104 416.6,111ZM37.7,79 36.7,81 35,82.3 32,82.9 29,82.8 26,82 24,80.8 22.4,79 22,77 23,75 25,73.6 28,73 32,73.1 35,74 36.4,75 37.7,77ZM585,86 583.8,84 584,81.7 585.4,80 589.8,77 593,75.3 595,74.8 597,75.6 598.4,77 599.3,79 600.4,84 599.9,85 596,88.2 594,89.2 592,89.1ZM40.9,96 42,91 45.9,86 53,80.8 57,78.8 59,78.4 65,80.1 71,80.1 76,82.7 79,81.5 81.6,82 83.5,84 84.4,88 87,91.5 90,93.8 95,96.4 100,100.7 102,103.5 104,104 112,100.4 120,99.5 122,98.6 127,93.4 132.8,85 137.2,82 148,79.8 154,79.2 158,79.3 163,77.6 169,76.9 171,78 174,82.2 174.9,85 174.5,93 173,99 186,102.1 195,102.7 202,103.8 205,105 214,110.2 218.8,114 220.2,116 220.7,118 220.3,123 219.2,126 217,127.7 211,130.1 203,132.4 186,135.5 175,134.3 168,135.3 163,133.4 158,129.3 150,126.5 148.1,125 147.2,123 146.6,119 149.9,110 149,109.1 148,109.1 144.9,110 142.6,116 141,117.9 133,120.8 126.3,122 121.7,124 121.6,125 123.9,130 123,132.4 120.5,134 120.3,135 122.3,138 122,140 71.2,140 68.9,135 61,127.2 51.9,113 45.1,106 41.3,100ZM625.5,140 604.7,140 597,130.7 593.1,127 590.2,117 590.4,113 591.7,110 595.6,104 597.1,96 601.5,91 604,87 606,86.8 608.3,89 608.9,91 608.4,95 609,97.2 614,103.8 619,111.6 620.6,115 621.4,118 622.4,126 624.9,134ZM514.2,140 465.5,140 466.8,137 467.9,128 469.4,123 474.2,115 476,96.9 478,92.5 481,88.9 482,88.7 482.9,90 485,98.1 486.3,99 491,99.9 497,102.2 500,104.1 501.7,106 507.5,122 512.7,132ZM248.9,132 249,131 250.5,129 253.8,127 261.8,125 273,123.4 288,125.9 302,129.5 304,130.5 305,131.6 305.7,135 305,136.6 304,137.5 299,138.9 288,138.6 278,139.2 274.4,140 268.2,140 258,136.1 251,134.3 249.2,133Z" fill="#FDDBC7" fill-rule="evenodd"/>
<path d="M304.6,2 303.5,5 300.4,8 297,10 291,12.3 284,13.4 268,13.9 264,13.4 260,11.1 255.5,6 254.5,4 254.1,2 254.4,0 273,0 303.8,0ZM188,31.1 184,30.9 181,29.6 175.8,26 174.2,24 173.4,22 173.4,18 175.4,11 178,7.6 182,5.2 186,5.3 191,7.6 195.5,12 199.2,18 199.2,21 197.8,25 190,30.4ZM51.2,30 51.4,28 52,27 55.6,24 72.2,16 79,13.6 82,14.1 84.7,16 85,17 84.5,19 81.1,23 78,25.4 73,28 67,28.9 60,32.4 57,33.1 53,32.2ZM435.9,58 435.1,57 434.5,55 435.1,49 436.3,45 439.3,39 453,22.6 460,15.9 462,15.3 465,16.4 468,20 468.4,23 466,32.9 461.2,44 459.3,46 451.4,52 445,54.6 439,57.9 437,58.3ZM381.9,23 382,21 383,19.8 386,17.6 387,17.4 388,17.7 388,19.1 385,22.9 383,23.5ZM531,59.6 530,59.5 527,57.7 524,54.4 521.8,49 520.3,42 520.4,37 522,32.3 524,30 528,28.4 532,29.2 536,31.6 538.1,35 539,39 539.3,46 538.2,52 535,56.9 533,58.7ZM601,47.5 597,47.3 594,46 591.3,43 590.1,40 590.6,37 593,33 595,31.3 599,30 602,30.8 605,32.7 606.9,35 607.6,37 607.4,40 606,44.1 604,46.3ZM344.2,48 343,49.5 341,50.5 334,51.7 330,51.7 327,51.1 323.9,49 323.2,47 324.4,45 326,44 334,42.2 337.6,43 342.4,45 343.6,46ZM410.4,113 406,117.1 403,118.2 400,118.6 392,118.5 387,117.9 377,115.6 373,113.9 366,108.2 361.4,101 359,95 358.4,86 355.5,82 351,79.7 349.5,78 347.3,73 346.8,71 347.1,69 348,68 351,66.7 357,65.7 361,66 363.6,69 368,72.3 372.9,75 376,76 383,76.8 389,78.4 395,80.6 400,83.4 403,85.9 406.6,90 409.7,95 411.9,100 412.7,103 412.9,106 412,110ZM97,127.3 95,128.9 92,130 87,129.9 79,127.9 73.6,125 68,121 66,118.9 62.8,114 61,107 56.2,101 56,98.2 57.8,95 62,92.7 65,92.7 66.7,94 68.1,96 68.7,98 68.7,101 71.1,104 73,105 78,106.1 85,108.5 92,112.3 95,115.9 97.7,123 98,125ZM613,126.8 611,127.4 607,126.3 603,123.8 600,121 598.9,119 598.9,116 600,113.6 602,111.5 605,110.2 608,110.3 611,111.5 613.6,114 614.9,117 615.4,121 614.7,124ZM504.9,137 502.6,140 479.2,140 477.9,138 476.8,134 476.7,131 477.5,127 479.3,124 483,122.4 490,121.5 493,121.7 497,122.7 501.2,125 504.2,129 505.7,133Z" fill="#F4A582" fill-rule="evenodd"/>
<path d="M259,3 259.8,0 273,0 298.2,0 299,1 299.5,3 298.7,5 296.7,7 291,9.6 284,10.6 273,11.1 267,10.5 263.3,9 260.1,6ZM443,47.7 442.4,46 443.6,42 450,32.3 452.8,29 455,27.2 457,26.5 459.2,27 460.6,29 460.5,31 457.4,39 455.8,42 453.8,44 449,47.3 446,48ZM531,51.6 529,51.4 526.7,50 525,47.4 524,44 524,40 524.9,37 526,35.5 528,34.7 530,34.9 532,36.4 533.9,39 534.8,42 535,45 534.3,48 533,50.3ZM408,109.7 404,113.3 400,115 397,115.5 392,115.7 387,115.2 377,111.9 374.1,110 370.1,106 367.2,102 365.8,99 364.7,95 364.6,92 365.1,90 367.6,86 369.5,84 372,82.5 375,81.5 381,80.9 385,81.1 389,81.8 394,83.7 398,85.7 400.9,88 404,91.2 406.6,95 408.4,99 409.4,103 409.2,107ZM499.2,134 498.1,136 496,137.5 493,138.4 490,138.4 487,137.6 484.4,136 483.1,134 482.9,132 483.5,130 486,127.7 489,126.4 493,126.1 496,127 498.4,129 499.3,131Z" fill="#D6604D" fill-rule="evenodd"/>
<path d="M262.9,3 263.4,1 264.1,0 273,0 290.7,0 293,1.2 294.3,3 293.5,5 290,7 284,8.3 275,9 270,8.6 267,7.7 264,5.5ZM404.8,108 403,109.8 401,111 397,112.5 393,113.1 386,112.4 379,109.4 376,107.5 373.5,105 370.4,100 368.9,95 369.1,92 369.8,90 371.2,88 374,85.8 380,83.9 387,84 395,87 398,88.8 402.9,94 404.7,97 406.1,103 405.7,106Z" fill="#B2182B" fill-rule="evenodd"/>
<path d="M287,3 286.9,4 285,5.3 281,6.2 275,6.9 269.9,6 268.3,5 267.1,3 267.9,1 269.2,0 273,0 281.7,0 284.6,1ZM402,106 399,108.6 393,110.6 388,110.5 383,108.8 378,105.8 374.7,102 372.4,96 372.4,93 373.2,91 374.9,89 377,87.6 382,86.3 387,86.5 393.9,89 397.9,92 402.2,98 403,102Z" fill="#67001F" fill-rule="evenodd"/>
<path d="M10,53.9 8,53 0,45 0,0 3.7,0 7.3,4 8,7 7.5,13 8.7,16 11,17.8 15,20 22,20.6 24.5,24 25.9,28 26.3,32 25,38 21.7,46 20,48.3 18,50ZM67.4,4 66.9,6 65,8.2 60.7,10 55.7,11 48,11.2 44,10.7 40.8,9 38.8,6 39,4 40,2.8 42,1.7 47.8,0 64.5,0 66.7,2ZM141,52.6 138,52.4 131,48.9 128,46.9 124.8,43 121.8,37 121,31 121.2,24 120,16 123.3,3 124.7,0 155.5,0 157.6,5 158.6,12 158.2,17 157,19.7 155,22.3 149.5,27 148.8,31 149.5,37 148.8,41 145,49.7 143.7,51ZM242.4,9 240.4,13 237,16.1 232,18.4 229,18.9 227,18.8 221,15.7 216.1,12 214.1,8 214.2,4 215.2,0 237.5,0 242,5 242.6,7ZM372.8,0 371.6,3 364,11.9 357.7,22 352,27.6 350,28.9 346,29.4 337,29.6 321,27.6 318,26.1 312.5,19 312.2,16 314.7,9 316,7 319.8,3 321.5,0ZM399.1,56 397,53.4 391.5,44 392.3,41 399.8,28 402,25.8 407,22.8 413.6,21 419.5,18 423.8,3 425.8,0 445,0 446,3 446.3,6 445.6,11 444.2,15 442,18.7 440,20.6 430,24.1 428,25.2 426.3,27 425.6,29 425,34 421.3,47 418,53.1 412,57.6 408,59.1 405,58.9ZM633,44.5 629.8,41 628.4,38 628.4,35 629.8,29 629.5,27 627,25 615,20 610.4,16 607.4,12 605.3,7 605,5 606.3,2 608.8,0 633,0ZM491,62.3 487,60.7 482.7,55 478.7,51 478.1,46 478.2,39 478.7,35 481.9,22 482.5,15 483.8,12 488,7.2 494,3.6 497,2.5 502,1.8 503,2.7 503.9,6 505.1,8 508.4,11 512.8,14 514.4,16 513.7,35 511,43.5 503.1,56 497,61.6 494,62.4ZM563,61 560.5,60 558.1,57 557.2,54 553,46.3 551.8,39 552.3,20 552.8,18 556,16.2 562,14.9 564.1,15 566,16 567.3,21 568.1,22 571.4,24 573,25.5 575.9,33 576.8,38 575.5,48 574.6,51 564.9,60ZM284,47 283.7,46 285.2,44 298.1,37 302,35.8 305,35.5 308,36 308.6,37 307.2,40 304.9,42 291,48.1 288,48.7 285.3,48ZM232.6,41 232.9,40 234.1,39 237,37.8 239,37.6 239.8,38 240.4,39 240.2,40 239.3,41 237,41.8 234.3,42ZM163.1,63 161,65 158,66.3 149,67.1 139,66.2 136,65.5 132,63.7 130.6,62 130.5,61 131.1,59 134,56.8 141,54.8 146,55 153.4,56 159.1,58 162.1,60 163.2,62ZM90.5,77 90.4,75 92,73.5 101,71 102.4,70 99.2,67 98.6,65 99,63 100.1,61 102.8,59 110,58.2 121,59.3 124.8,61 127.3,64 127,67 125.4,69 122,70.9 115.6,73 117,75 117.1,77 115.6,79 113,80.6 104,81.8 100,81.6 93.6,80 92,78.9ZM283.9,67 282.7,69 281,70.2 274,72 259,73.6 250,73.5 242,71.9 237.3,70 233.8,68 232.6,66 232.7,65 234.5,63 242,59.5 265,58.7 271,59.5 278.5,62 283.1,65ZM633,128.2 629.4,118 627.5,109 628.4,98 632.8,86 632,85.3 624,86.3 618,85.1 616,83.7 610.3,77 609.5,75 609.8,73 612,71.3 617,69 624,67.2 627,67.3 630,68.8 632,70.6 633,72.5ZM463.4,112 462.3,117 458.4,124 445.8,135 444,138.4 442.4,140 348.1,140 347.4,138 346,136.9 344,136.9 341,138.3 340,138.3 335,136.2 333,136.6 329,138.7 324,138.8 321,137.7 319.6,136 317.7,132 316.3,130 312,125.7 309,124 304,122.7 284,120.4 273,118.6 269,118.6 261,119.6 249,118.5 236.8,114 226,107.2 221,104.9 213,99 209.4,95 193.9,93 192.3,92 192,90 192.6,86 193.4,84 197,78 199.7,75 203,73.2 205,72.7 215,73 219,74.4 225,78.2 236,80.4 244,81.1 250,84.1 255,85.1 260,87.4 265,87.6 270,90.2 282,94.1 290,95.9 297,96 299,96.4 303,98 308,100.8 311,101 319,99.7 325,99.9 328,100.7 330.4,103 332,109.1 338,116 341,118.8 346.2,121 352,127.7 355,129.5 359,130 365,129.3 371,129.2 383,127.2 392,127 401,127.7 413,127.9 426,131.2 430,130.9 431.4,130 432.3,128 432.2,125 431.1,122 429.8,120 423,112.2 420.5,108 416.4,95 415.9,89 416.6,86 420,81.6 423,80 436,80 444.6,78 445.7,77 446.7,74 448.7,71 451,69.1 453,68.5 455,69 455.7,70 455.9,72 455,75.6 452.6,78 452.4,79 456,81.4 458,83.3 462.5,93 462.6,99 463.5,106ZM529.6,140 526,137.5 524,135.4 519,124 518.1,121 517.5,115 515.5,109 516,106.4 518,104.4 526,101.6 529,99.6 532.3,96 535.6,91 544.8,83 547.8,78 550,75.8 554,73.3 556,73.3 558,73.9 568,79.9 569.7,82 570.5,84 572.7,97 572.3,103 575.9,111 576.8,118 576.4,123 574.4,136 573.1,140ZM48.9,140 10.5,140 0,129.2 0,74.2 2,82.5 4,82.3 8,80.6 10,80.7 14,82 19,86 25,89.6 29.9,95 30.8,97 31.2,101 32.1,103 36.7,110 40.2,114 43,119.4 48,126.7 50.9,136 50.4,138Z" fill="#D1E5F0" fill-rule="evenodd"/>
<path d="M142,21 139,20.3 135.2,17 133.5,14 133,11 134,7 136.2,3 139,1.1 143,0.5 147,1.3 150,3.3 152.6,7 153.7,12 153,15.1 150.7,18 146,20.3ZM331,19.6 329.1,18 327.1,15 326.4,13 326.6,10 327.8,8 329.1,7 338,1.8 341,1.1 348,2.4 350.6,4 354.5,8 354.6,10 353.4,13 350,16.9 347,19.1 344,19.7 341,21.1 339,21.4 335,20.8ZM236.8,8 235.7,10 234,11.5 232,12.3 229,12.5 226,12.1 223.7,11 221.7,9 221,7 221.6,5 224,3.1 227,2.3 230,2.2 233,3 235,4.2 236.5,6ZM436.1,13 434,13.8 433.4,13 435,12.1ZM499,44.5 494,43.8 490.7,42 486.5,36 485.7,31 486.8,25 489,20.1 495,15 497,14 499,13.6 502.4,15 506.4,20 508.8,26 509.4,32 508.1,37 506,41.1 503,43.7ZM8,42.4 6,41.7 4.6,40 4,38 4.2,36 6,32.4 8,30.1 10,29.2 12,29.4 14,30.3 16,32.2 17.3,35 17.3,37 16.1,39 13.8,41 11,42.2ZM411,49.7 408,49.7 405,48.4 402.6,46 400.9,43 400.8,40 402,36 404,33.2 407,31.3 410,31.1 413,31.6 414.8,33 415.9,36 416.8,41 416.2,44 414.2,48ZM565,45.7 563,45.6 560.2,44 558.8,42 558.3,40 558.6,36 559.7,34 562,32.4 564,32 566,32.3 568,33.6 569.2,35 570,37 570,40 569,42.8 567,44.9ZM451,117.9 449,119.1 446,119.9 443,119.9 440,119.1 434,116.5 429,112.7 426,109.8 422.8,105 420.9,100 420.1,96 420.7,91 423,87.4 425,86 427,85.4 431,85.3 435,85.9 440,87.5 446,91 448.5,93 453.3,100 454.5,103 455.1,106 455.1,110 454.6,112 452.6,116ZM301.3,115 300,116.2 293,116.4 284,115.5 261,110.2 253,105.4 245,105.8 241,105.3 227,98.9 223.8,96 222.8,94 222.8,93 223.3,92 225,91 229,90.4 232,90.6 242,93.2 248,96.1 252,98.9 254,99.8 260,99.5 277,101.8 285,105.8 291.1,107 295.6,109 300.2,112 301,113ZM35.6,128 32,131 26,132.9 21,132.7 17,131.4 10,126.6 5,121 3.6,117 4.3,113 8,108.2 11,107 18,107.2 24,109.5 30,113.4 34,118 36.4,124 36.5,126ZM528.7,129 527.7,127 527.4,124 528,121.9 530,119.6 535.6,116 541,111.8 543,111.4 547,111.7 550,110.6 552,111.1 553.7,114 557.5,118 560.5,126 559.9,129 558,130.8 551,133.6 544,135.1 540,134.9 536,133.6 532,131.7ZM320.7,120 320,120.7 319,120.9 317.2,120 316.6,119 317,118.4 318,118.2 319.9,119ZM417.1,137 416.4,139 415.3,140 395,140 375.9,140 374.8,137 375.1,136 377.3,134 382,131.5 387,130.3 392,130 404,130.9 412,132.1 415.3,134Z" fill="#92C5DE" fill-rule="evenodd"/>
<path d="M141,15.7 140,15 138.9,13 138.6,10 139.2,8 140,6.9 141.7,6 144,5.7 146,6 147.5,7 148.8,9 149.3,11 148.8,13 147,14.7 145,15.7 143,16.1ZM499,38.6 496,38.2 494,37 492.5,35 491.4,31 491.5,28 492.4,25 494.1,23 497,21.6 499.2,22 501.8,24 503.1,26 504.1,29 503.7,33 502.7,36 501,37.8ZM448.7,112 447,113.5 445,114.3 440,114.3 435,112.7 429.5,109 426.1,105 424.3,100 424.2,95 426,91.2 429,89.8 436,90 439,91.1 445,95.2 448.6,100 450.3,105 450.3,109ZM29.6,125 27.5,127 24,128 21,127.7 17,126.3 14,124.2 11.1,121 9.5,118 9.6,116 11.1,114 15,112.5 18,112.4 22,113.6 26.7,117 29.2,120 30,122ZM553.7,125 553.2,127 551,129.3 548,130.9 544,131.6 540,131.4 536.3,130 533.8,128 533,126 533.6,124 536,122.1 539,121 543,120.6 548,120.8 551,121.7 552.7,123ZM408.7,137 408,138 406.3,139 403.1,140 387,139.7 384,138.6 382.7,137 383.9,135 385.6,134 388.4,133 392,132.6 404.2,134 407.1,135 408.4,136Z" fill="#4393C3" fill-rule="evenodd"/>
<path d="M445,107.9 443,109.1 439,109.7 436,109.1 433,107.5 430,104.7 428.4,102 427.9,98 429,95.2 431,93.9 435,93.7 438,94.4 442,96.8 443.9,99 445.6,103 445.9,106ZM547.2,126 546.8,127 544,127.9 541,127 540.5,126 541.2,125 544,124.3 546.7,125Z" fill="#2166AC" fill-rule="evenodd"/>
<path d="M439,104 437,104.8 434.9,104 433,101 433.7,99 436,98.4 437.7,99 438.9,100 439.6,102Z" fill="#053061" fill-rule="evenodd"/>
<path d="M0,70.4H633.6M316.8,0V140.8" stroke="#555" stroke-width="1.2" stroke-dasharray="5,4.6" fill="none"/>
<use href="#map"/>
<g fill="none" stroke="#000" stroke-width="2.1"><ellipse cx="96.6" cy="13.6" rx="16.4" ry="13"/><ellipse cx="97" cy="14.7" rx="5.5" ry="3.8"/><ellipse cx="185.2" cy="11.5" rx="9.9" ry="10.9"/><ellipse cx="293.9" cy="3.1" rx="25.2" ry="5.9"/><ellipse cx="67.6" cy="105" rx="8.4" ry="7.6"/><ellipse cx="396.8" cy="108.1" rx="21" ry="16.4" transform="rotate(60 396.8 108.1)"/><ellipse cx="397.2" cy="113.8" rx="6.9" ry="6.3"/><ellipse cx="495.4" cy="126" rx="15.7" ry="26.2"/><ellipse cx="605.7" cy="115.5" rx="30.4" ry="18.5" transform="rotate(55 605.7 115.5)"/><ellipse cx="607.8" cy="117.6" rx="16.8" ry="8.8" transform="rotate(55 607.8 117.6)"/><ellipse cx="543.7" cy="4.2" rx="23.1" ry="7.3" transform="rotate(10 543.7 4.2)"/></g>
<g fill="none" stroke="#000" stroke-width="2.1" stroke-dasharray="6.5,4.5"><ellipse cx="142.8" cy="17.8" rx="15.1" ry="15.1"/><ellipse cx="228.8" cy="10.5" rx="13" ry="8.8"/><ellipse cx="302.3" cy="28.3" rx="8.4" ry="3.1" transform="rotate(-10 302.3 28.3)"/><ellipse cx="14.7" cy="118.6" rx="10.5" ry="10.5"/><ellipse cx="14.7" cy="118.6" rx="19.3" ry="18.9"/><ellipse cx="14.7" cy="119.7" rx="28.3" ry="27.3"/><ellipse cx="56.7" cy="5.2" rx="8.4" ry="6.3"/><ellipse cx="443" cy="110.2" rx="24.1" ry="14.7" transform="rotate(75 443 110.2)"/><ellipse cx="551.1" cy="120.7" rx="25.2" ry="17.8"/><ellipse cx="556.3" cy="126" rx="10.5" ry="7.3"/><ellipse cx="365.3" cy="4.2" rx="21" ry="5.9"/><ellipse cx="350.6" cy="114.4" rx="6.3" ry="2.9"/></g>
</g>
<path d="M844.7,45.7v-6.0M844.7,186.5v6.0M862.3,45.7v-3.1M862.3,186.5v3.1M879.9,45.7v-3.1M879.9,186.5v3.1M897.5,45.7v-3.1M897.5,186.5v3.1M915.1,45.7v-3.1M915.1,186.5v3.1M932.7,45.7v-3.1M932.7,186.5v3.1M950.3,45.7v-6.0M950.3,186.5v6.0M967.9,45.7v-3.1M967.9,186.5v3.1M985.5,45.7v-3.1M985.5,186.5v3.1M1003.1,45.7v-3.1M1003.1,186.5v3.1M1020.7,45.7v-3.1M1020.7,186.5v3.1M1038.3,45.7v-3.1M1038.3,186.5v3.1M1055.9,45.7v-6.0M1055.9,186.5v6.0M1073.5,45.7v-3.1M1073.5,186.5v3.1M1091.1,45.7v-3.1M1091.1,186.5v3.1M1108.7,45.7v-3.1M1108.7,186.5v3.1M1126.3,45.7v-3.1M1126.3,186.5v3.1M1143.9,45.7v-3.1M1143.9,186.5v3.1M1161.5,45.7v-6.0M1161.5,186.5v6.0M1179.1,45.7v-3.1M1179.1,186.5v3.1M1196.7,45.7v-3.1M1196.7,186.5v3.1M1214.3,45.7v-3.1M1214.3,186.5v3.1M1231.9,45.7v-3.1M1231.9,186.5v3.1M1249.5,45.7v-3.1M1249.5,186.5v3.1M1267.1,45.7v-6.0M1267.1,186.5v6.0M1284.7,45.7v-3.1M1284.7,186.5v3.1M1302.3,45.7v-3.1M1302.3,186.5v3.1M1319.9,45.7v-3.1M1319.9,186.5v3.1M1337.5,45.7v-3.1M1337.5,186.5v3.1M1355.1,45.7v-3.1M1355.1,186.5v3.1M1372.7,45.7v-6.0M1372.7,186.5v6.0M1390.3,45.7v-3.1M1390.3,186.5v3.1M1407.9,45.7v-3.1M1407.9,186.5v3.1M1425.5,45.7v-3.1M1425.5,186.5v3.1M1443.1,45.7v-3.1M1443.1,186.5v3.1M1460.7,45.7v-3.1M1460.7,186.5v3.1M1478.3,45.7v-6.0M1478.3,186.5v6.0M844.7,45.7h-3.1M1478.3,45.7h3.1M844.7,63.3h-6.0M1478.3,63.3h6.0M844.7,80.9h-3.1M1478.3,80.9h3.1M844.7,98.5h-3.1M1478.3,98.5h3.1M844.7,116.1h-6.0M1478.3,116.1h6.0M844.7,133.7h-3.1M1478.3,133.7h3.1M844.7,151.3h-3.1M1478.3,151.3h3.1M844.7,168.9h-6.0M1478.3,168.9h6.0M844.7,186.5h-3.1M1478.3,186.5h3.1" stroke="#000" stroke-width="1.9" stroke-linecap="round" fill="none"/>
<path d="M843.2,45.7H1479.8M843.2,186.5H1479.8" stroke="#000" stroke-width="2.2" fill="none"/>
<path d="M844.7,44.7V187.5M1478.3,44.7V187.5" stroke="#000" stroke-width="3" fill="none"/>
<!-- panel 6 -->
<g transform="translate(844.7,268)" clip-path="url(#pc)">
<rect x="0" y="0" width="633.6" height="140.8" fill="#F8F8F8"/>
<path d="M98,34.4 96.7,31 97.3,27 98.5,24 101.3,20 103,16.5 105.8,8 107.3,0 148.8,0 145.1,10 145.3,16 144.5,20 142.9,23 140,27 137.1,34 134,37 127,40.6 123,42 114,43.2 104,40.6 100.9,38ZM239,19.1 236,20.8 228,22 222,21.3 218,19.4 216,17 215.3,14 215.5,8 217,4 220,1.4 224.5,0 230,0.3 236,2.2 239,3.6 242,7 242.9,9 243.2,11 242.5,15 241.2,17ZM305.9,0 361.6,0 360.7,2 357.5,5 351,8.4 343.8,13 333,18.2 327,20 325,19.7 317,15.5 310,10.1 307.8,7ZM589,58 587,59 570,61.3 560,61.2 546,64.1 542,64.2 536.8,63 539,66 543.2,77 543.2,79 542.1,84 540.8,87 538,89.4 535,89.9 530.6,89 527.9,87 525.9,84 523.4,77 523.1,72 525,66.6 527,63.9 530,62.3 534.4,62 531,61.5 523,57 519.5,54 516.8,38 517.3,34 518.8,31 524,24.4 528,21.1 529.9,20 528.9,19 520,18 511,16.1 503,13.1 491,11.7 489,11 487.6,10 487.1,9 488,7.7 492.2,6 509,1.9 544,2.3 550,2.9 555,4.4 556.8,6 557.1,7 556.3,9 554,11 546.7,15 531.9,19 531.1,20 540,22.7 548,26.4 561.8,34 567,35.9 575,37.6 581,40.1 588.1,42 590,44.6 591.2,49 590.8,53ZM26,47.6 23,45.5 20.2,42 16.2,33 15.9,29 16.7,24 19,18.2 21,14.8 26,9.1 34.6,4 44,3.1 49,5.1 51,6.5 53.8,10 55.3,14 55.2,16 53.5,22 52.8,31 51.5,37 50.7,39 49,41.1 40,46.2 32,48.3 29,48.3ZM461,49.9 459,50.4 456,50.3 449,48.3 444,45.8 438,41.2 431.6,38 429,35.7 426.4,31 424.1,20 426.6,11 428,8.6 430,7.7 439,7.9 444,9 450,12 454.9,17 457.3,22 457.6,31 459,37.4 461.7,43 462.2,45 462.4,48 462,49ZM251,73 251.3,71 255.2,66 258.6,63 262,61.5 269,60.9 282,56.7 293,54.8 313,54.6 316,53.6 320,50.8 325,48.7 331.3,45 335,43.6 348,41.1 358,39.9 372,36.3 381,32.5 383,32.8 384.4,35 384.6,39 383,45 379.7,51 377,53.6 371,56.7 361,60.9 355,62.6 335,70.9 329,74.4 317,77.6 312,79.6 291,84 284,84 268,82.7 262,80.4 258,79.5 252.4,75ZM433,139.4 430,139.9 426,139.6 424.9,139 422.6,136 419.6,134 412,122.7 406.9,114 403.2,109 401.8,106 399.4,93 399.3,89 404,79.2 406,77.3 409,75.7 411,75.4 415,76.3 419,78.4 421,80 426,87.9 429.8,95 436.9,111 443.2,119 444.7,123 444.6,125 439.6,135 438,136.7ZM146.8,140 97,140 91,139.1 86,136.4 77.3,130 75,127.4 73.7,125 70.8,112 68.9,108 64.7,101 63.4,97 62.9,90 66,83.8 67,82.6 69,81.8 73,81 76,81 77.3,82 79.3,85 81,86.2 84,87.4 93,88.6 98,90.3 101,92.5 107,98.3 117,101.4 122,103.7 128,105 132.3,108 138,114.2 140,115.1 145,116.1 146.3,118 147.5,122 147,129 148.9,134ZM633,128.8 629,131.5 614,134.1 606,133.8 598.9,132 592.6,125 590.3,117 586.1,110 584.1,100 584.3,96 585.5,93 590,89.8 597,87.2 610,85.6 617,85.9 622.6,88 627,90.7 633,91.1ZM0,128.2 0,91.1 9.3,96 10.8,98 11.3,101 10.2,116 9,120.4 7,123.5ZM253,131.6 248.9,128 247,124 247.3,121 248.8,117 252,112.1 256,108.6 262,106.6 265,106.4 268,106.9 272,109.2 275.7,113 277.4,117 277.7,122 277.2,124 276.1,126 269,131.4 262,134 259,134ZM347.5,135 346.9,136 345,137.1 337,138.8 334,138.6 323,135.8 315,131.5 309,125 307.3,121 306.8,118 307.2,116 310.4,113 315,111.2 321,111.4 325,112.8 335,117.7 340.1,121 347,131 347.7,133ZM512.9,127 509.4,137 508.3,139 506.7,140 500.4,140 484,138 472,137.4 464.2,135 456,131.6 449.6,128 447.4,126 447,125 447.4,124 448.8,123 455,121.4 462,118.7 481,115.6 488,113.8 500,113.2 503,113.7 505,114.6 510,118.6 512.1,122Z" fill="#FDDBC7" fill-rule="evenodd"/>
<path d="M343.2,4 342,7 339,10 334,12.2 331,12.8 325,11.9 320,10 316.5,7 315.5,4 316.2,2 317.9,0 331,0 341.5,0 343,2ZM115,21.5 112.1,18 111.3,15 112.3,10 115.1,6 119,2.9 123,1.5 128,1.6 130,2.3 132.5,4 133.7,7 133.5,11 132.2,15 130,17.8 125,21.4 122,22.7 118,22.7ZM29,32.8 27,30.9 26.1,26 26.9,23 28.6,21 33,18 36,16.9 40,17.2 44.1,19 45.3,21 45.4,24 43.7,28 41.2,31 39,32.4 36,33.2 32,33.3ZM448.7,32 447,33.3 444,33.9 440,32.9 437,31.2 434.3,28 432.8,25 432.7,23 433.5,21 436,18.9 439,18.3 443,19.3 445.9,21 448,23.2 449.8,27 449.8,30ZM547.7,42 546.3,44 544,45.5 539,46.1 536,45.4 533,43.9 531,42 530.4,40 531.7,38 534,36.6 537,35.7 540,35.5 543,36.3 546.1,38 547.6,40ZM425,118.7 423,119.2 420,119.1 416,117 412.9,114 408.5,107 407.6,103 407.8,98 409.3,94 412,91.3 415,90.8 420,92.8 424,96.4 426.5,100 428.4,106 428.6,111 427.5,116ZM619.9,109 618.2,111 616,112.4 613,113 610,112.8 607,112 603.8,110 602.3,108 601.9,106 602.5,104 605,101.3 608,100.1 611,100 615,101.3 618,103.1 619.9,106 620.2,108ZM123.9,127 122.7,129 119,131.2 115,131.8 109,131.2 101,128.6 94.5,125 92.1,122 91.7,120 91.9,118 94,115.5 98,113.7 107,112.9 113,113.6 116,115 121,119 123.2,123ZM503.9,125 503.2,127 501,129.1 498,130.1 494,130.3 491,129.6 488.3,128 486.6,126 486.2,124 486.9,122 489.3,120 493,118.8 497,118.5 500,119.4 502.3,121 503.7,123Z" fill="#F4A582" fill-rule="evenodd"/>
<path d="M336.3,5 335.9,6 334,7.6 330,8.4 326,7.5 324.1,6 323.7,5 324.5,3 326,2.1 331,1.3 333,1.4 335,2.3 336,3.4ZM120,14 119.1,13 119,12 119.9,10 121,9 124,7.8 125.4,8 126.6,9 127,11 125.8,13 123,14.2ZM442.1,27 441,26.9 440.7,26 442,25.8ZM421,112.2 418,112.2 416,111.1 413,106.7 412.2,104 412.4,101 413.2,99 415,97.4 417,97.3 420,98.8 422,100.6 423.5,103 424.1,105 424,108 423,110.5ZM112.2,122 112,122.6 111,122.5 110.7,122Z" fill="#D6604D" fill-rule="evenodd"/>
<path d="M65,30.9 62.9,28 62.6,24 66.2,13 66.2,5 66.9,3 68.4,1 69.6,0 94.9,0 96.3,4 96.8,7 96.4,10 95.5,12 93,15.4 83.4,23 81.7,28 79.8,31 77,32.6 73,33.1 69,32.5ZM101.5,78 98.8,73 98.1,67 99,64.8 106.4,59 103.5,56 102.3,54 102,51 103.1,48 106,46.4 108,46.3 110.9,47 113.4,49 115,53 116,53.5 120,51.7 128,50 134,47.7 144,45.8 152,41 152.5,40 150.9,37 150.2,34 149.7,29 149.9,25 151.6,21 155.9,15 156.2,10 156.9,8 160,4.3 169,0.4 179.4,0 197,0.3 203,1.7 205,2.7 206.3,4 207.8,8 208,11.6 206.6,17 204.3,19 199,20 192,19.9 183,21 171,20.9 170,21.7 170.4,29 169.5,35 170,36.7 174,36.6 176.3,37 181,41.3 187.8,44 188.2,47 187,50.4 183,55.1 181,56.5 175,58.8 173,60.6 169,67.5 167.2,78 166.1,80 162,80.8 160,81.8 147,92.2 140,94.7 134,95.7 125,94.7 117.7,91 104.4,81ZM316.7,35 311,40.5 308,42 304,42.1 297,40.2 294,38.4 292.1,36 290,29.7 288,29 281,28.8 278,28.2 270,25 263,20 261.3,18 259.2,14 259.3,11 262.3,6 268,2 274.7,0 284,0 289,3.5 291.8,7 294.5,12 299,16.6 304,19.9 310,25.2 316,29.4 317.4,32ZM400,59.4 396,59.1 392,57.9 389,56.3 387.9,55 387.7,53 388.7,50 395,39 396.5,34 398.4,31 398.5,30 393.8,23 388.9,18 387.6,15 387.5,12 389.2,8 396.7,0 406.7,0 409.3,3 411.1,8 413.4,12 416,22.3 418.3,36 415.2,46 411.5,53 409.5,55 406,57.4 403,58.8ZM551,90.1 549,87.4 548.3,85 548.9,79 551,74.6 553.5,72 557,69.6 560,68.6 568,67.8 587,64.6 600,65 605,63.9 606.6,63 607,62 605.6,52 602,45.2 599.4,38 598,36.1 596,35.3 584,33.1 568,28.5 558,23.6 555.7,21 555,19 558,16.9 569.2,12 575,6.9 579,4.9 587,4.3 595,5.9 599,6.1 602.1,5 605.6,0 633,0 633,73.7 629,75.2 616,75.7 610,77.1 600,77.3 589,79 584,79.2 574,78.5 573.2,79 573,80 573.4,84 572.4,87 570.3,90 567,92.4 563,93.7 559,93.6 554,92ZM0,73.3 0,0.5 2.7,3 7.3,6 8.7,8 9.1,10 5.5,31 7.5,53 7,55 3.9,60 3.8,64 2.7,67 3.1,70 1.8,72ZM331.8,33 332.3,30 335.3,27 338.2,25 343,22.7 348,18.5 355,15.3 374,10.2 376.6,11 380.3,15 380.5,18 378.8,21 370.4,29 365,32 357,34.1 344,34.8 339,35.5 334,34.6 332.6,34ZM576,136 572,138.5 568,140 543.9,140 534,138.4 530,135.2 528.3,133 525.4,125 518.1,113 512.7,106 510,104.4 505,104.6 498,106.4 487,107.4 480,109.4 459,111.9 457,111.8 455.1,111 451.9,108 446,100 439,93.2 436,88.4 435,85.8 434.3,82 434.8,72 435.4,70 443.2,57 445,55.4 448,55.2 456,57.7 464,58.6 469,57.9 474.1,55 474.6,54 474.3,52 467,38 465.8,35 467,25.5 467.9,23 469,21.5 471,20.3 476,19 486,18.3 498,18.9 503,20.3 504.2,22 505.2,27 503.4,43 503.2,50 502.7,52 500.9,55 500.6,57 502,58.4 508.3,61 514.9,65 515.2,66 514.9,71 515.3,74 517.8,85 520.7,92 522,93.2 525,94.6 536,97.1 543,97.9 557,97.1 565,99.5 568,101.3 573.8,108 579.3,122 579.8,130 578.5,133ZM402,136.5 398,140 361.5,140 355.9,128 351,121.4 347.1,117 338.3,109 337.2,107 337,103.9 334.8,101 334.5,98 336,90 341.3,82 343,80.4 348,77.4 351.3,74 358,70.7 367,68.6 374,69 377,70.1 377.9,72 376.9,77 377.5,80 385,91.6 393.3,107 400.5,118 402.8,123 403.8,127 404,132 403.6,134ZM57,126.6 53,128.6 40,129.9 35,129.2 30,127.4 24,123.5 22,120.9 20.9,118 20.3,114 21.3,109 22.8,107 28.3,102 33,99 36,97.6 41,97 47,97.4 51,98.6 54,101 56.2,104 58.3,108 60.8,115 60.8,118 59.5,123 58.5,125ZM244.5,107 243.9,110 242.5,113 238,117.5 226,122.4 220,123.2 212,123.2 203,121.6 196,119.6 193.4,118 192,116.4 189.9,110 190.6,108 192.5,105 194.8,103 206,97.6 214,96.1 218,96.3 236,99.5 241,102.2 243.7,105ZM307.2,135 306.2,138 303.9,140 295,140 284.6,140 281.7,138 280.9,137 280.4,135 281.6,132 285,128.4 289,126.5 293,125.7 298,126.4 303,128.8 306.2,132Z" fill="#D1E5F0" fill-rule="evenodd"/>
<path d="M89.1,10 88.7,11 87,12.5 85,13.3 82,13.6 79.2,13 77.6,12 76.7,11 76.3,9 77,7.7 79,6.4 85,5.8 88,7.1 88.8,8ZM351.6,27 351.7,26 353,23.9 355,22.2 357,21.4 359,21.1 363,21.5 364.4,22 365.1,23 364.4,25 363.2,26 358.8,28 355,28.5 352.9,28ZM623,35.9 621,36.1 619.7,35 618.6,30 619,28.3 620,27.6 623,28.1 625.2,30 625.6,32 625.2,34ZM119.6,73 119.9,71 122.1,68 127.5,63 132,60.2 139,57.4 149,55 155,55.1 156,55.6 156.8,57 156.8,59 156.1,61 153,65 150,67.2 141,71.5 134,74.2 128,75.7 122,74.7 120.4,74ZM448.9,84 449.1,81 450,77.9 454,71.9 457,70.1 466,67.8 477,68.4 486,71.5 489,73.1 495,77.4 496.1,80 496.1,83 494.9,88 494,89.3 487.4,95 484,96.6 475,97.9 470,99.5 463,98.4 460,97.1 450.6,89ZM395.7,129 394,130.9 392,132.2 387,134 383,134.6 377,134.4 368,130.9 363,126.2 360.2,122 358.8,119 358.3,115 360,109.9 361,108.5 363,107.1 371,105.2 377,106.3 386,110.5 392,115 395.3,119 396.9,124 396.6,127ZM564.8,126 562.3,128 559,128.9 553,129 549,128.3 545.7,126 544.5,124 544.4,122 545.6,118 547.8,115 551,113 555,112.4 560,113.3 563.5,116 565.6,119 566.1,123ZM51,124.2 49,123.8 47.8,122 48.5,120 50,119.2 52,119.8 52.8,121 52.6,123Z" fill="#92C5DE" fill-rule="evenodd"/>
<path d="M461.1,85 460.9,83 462.7,81 474,75.7 477,75.4 481,76.3 483.9,78 485.1,80 484.9,83 483,85.1 480,86.7 473,88.4 470,88.7 465.8,88 463,86.9ZM390.6,126 388.4,128 384,129.9 379,130 375,128.9 370,126.4 366.2,123 365,120 365.2,116 367.4,113 371,111.5 376,111.1 382,112.7 386.3,115 390.2,119 391.3,123Z" fill="#4393C3" fill-rule="evenodd"/>
<path d="M479.9,81 479,82.2 477,82.6 475.4,82 475,81 475.5,80 477,79.4 479,79.8ZM384.7,123 383.9,124 382,125 379,125.3 377,124.9 374,123.5 372.1,122 371.1,120 371.3,118 372,116.9 374,115.8 377,115.5 379.2,116 381.4,117 383.9,119 384.9,121Z" fill="#2166AC" fill-rule="evenodd"/>
<path d="M0,70.4H633.6M316.8,0V140.8" stroke="#555" stroke-width="1.2" stroke-dasharray="5,4.6" fill="none"/>
<use href="#map"/>
<g fill="none" stroke="#000" stroke-width="2.1"><ellipse cx="118.6" cy="14.7" rx="8.8" ry="4.6" transform="rotate(-20 118.6 14.7)"/><ellipse cx="0" cy="116.5" rx="10.5" ry="18.5"/><ellipse cx="245.6" cy="3.1" rx="11.5" ry="7.3"/><ellipse cx="313.9" cy="2.1" rx="12.6" ry="5.2"/><ellipse cx="413.6" cy="106" rx="13.6" ry="17.2" transform="rotate(-10 413.6 106)"/><ellipse cx="507" cy="134.4" rx="13.6" ry="21" transform="rotate(-10 507 134.4)"/><ellipse cx="543.7" cy="136.5" rx="12.6" ry="16.8" transform="rotate(-40 543.7 136.5)"/><ellipse cx="620.4" cy="110.2" rx="19.3" ry="22"/><ellipse cx="621.4" cy="110.2" rx="9.7" ry="9.7"/><ellipse cx="325.4" cy="2.1" rx="14.7" ry="5.2"/></g>
<g fill="none" stroke="#000" stroke-width="2.1" stroke-dasharray="6.5,4.5"><ellipse cx="47.2" cy="117.6" rx="14.7" ry="19.9"/><ellipse cx="365.3" cy="113.4" rx="14.3" ry="10.5"/><ellipse cx="459.8" cy="101.8" rx="7.6" ry="7.6"/><ellipse cx="566.8" cy="120.7" rx="26.2" ry="21"/><ellipse cx="573.5" cy="123.9" rx="7.6" ry="6.7"/><ellipse cx="459.8" cy="138.6" rx="14.7" ry="9.4"/></g>
</g>
<path d="M844.7,268v-6.0M844.7,408.8v6.0M862.3,268v-3.1M862.3,408.8v3.1M879.9,268v-3.1M879.9,408.8v3.1M897.5,268v-3.1M897.5,408.8v3.1M915.1,268v-3.1M915.1,408.8v3.1M932.7,268v-3.1M932.7,408.8v3.1M950.3,268v-6.0M950.3,408.8v6.0M967.9,268v-3.1M967.9,408.8v3.1M985.5,268v-3.1M985.5,408.8v3.1M1003.1,268v-3.1M1003.1,408.8v3.1M1020.7,268v-3.1M1020.7,408.8v3.1M1038.3,268v-3.1M1038.3,408.8v3.1M1055.9,268v-6.0M1055.9,408.8v6.0M1073.5,268v-3.1M1073.5,408.8v3.1M1091.1,268v-3.1M1091.1,408.8v3.1M1108.7,268v-3.1M1108.7,408.8v3.1M1126.3,268v-3.1M1126.3,408.8v3.1M1143.9,268v-3.1M1143.9,408.8v3.1M1161.5,268v-6.0M1161.5,408.8v6.0M1179.1,268v-3.1M1179.1,408.8v3.1M1196.7,268v-3.1M1196.7,408.8v3.1M1214.3,268v-3.1M1214.3,408.8v3.1M1231.9,268v-3.1M1231.9,408.8v3.1M1249.5,268v-3.1M1249.5,408.8v3.1M1267.1,268v-6.0M1267.1,408.8v6.0M1284.7,268v-3.1M1284.7,408.8v3.1M1302.3,268v-3.1M1302.3,408.8v3.1M1319.9,268v-3.1M1319.9,408.8v3.1M1337.5,268v-3.1M1337.5,408.8v3.1M1355.1,268v-3.1M1355.1,408.8v3.1M1372.7,268v-6.0M1372.7,408.8v6.0M1390.3,268v-3.1M1390.3,408.8v3.1M1407.9,268v-3.1M1407.9,408.8v3.1M1425.5,268v-3.1M1425.5,408.8v3.1M1443.1,268v-3.1M1443.1,408.8v3.1M1460.7,268v-3.1M1460.7,408.8v3.1M1478.3,268v-6.0M1478.3,408.8v6.0M844.7,268h-3.1M1478.3,268h3.1M844.7,285.6h-6.0M1478.3,285.6h6.0M844.7,303.2h-3.1M1478.3,303.2h3.1M844.7,320.8h-3.1M1478.3,320.8h3.1M844.7,338.4h-6.0M1478.3,338.4h6.0M844.7,356h-3.1M1478.3,356h3.1M844.7,373.6h-3.1M1478.3,373.6h3.1M844.7,391.2h-6.0M1478.3,391.2h6.0M844.7,408.8h-3.1M1478.3,408.8h3.1" stroke="#000" stroke-width="1.9" stroke-linecap="round" fill="none"/>
<path d="M843.2,268H1479.8M843.2,408.8H1479.8" stroke="#000" stroke-width="2.2" fill="none"/>
<path d="M844.7,267V409.8M1478.3,267V409.8" stroke="#000" stroke-width="3" fill="none"/>
<!-- panel 7 -->
<g transform="translate(844.7,490.3)" clip-path="url(#pc)">
<rect x="0" y="0" width="633.6" height="140.8" fill="#F8F8F8"/>
<path d="M205,21.3 203.2,13 203.3,10 204,8.2 206,6.2 209,4.3 218.9,0 256.5,0 254.6,5 250,11 241,20.2 236,23.2 225,26.7 219,27.1 214,26.4 208,24.5 206,23ZM308.4,22 305.7,12 305.1,7 305.1,0 339.1,0 343,2.4 345,5 345.5,8 343.7,12 339.9,17 335,20.2 328,22.2 321,22.5 317,25.3 314,26.1 311,25.2ZM472.5,140 426.7,140 421.6,131 421.1,129 421.1,126 422.9,120 421.4,118 416,113.1 411.1,105 409.3,100 407.8,93 407.1,83 407.6,80 410.2,74 413.5,68 422.6,54 422.9,51 421.7,49 416,43 412.4,38 409.4,35 407,33.5 395,28 393.8,27 394.1,25 398.9,17 404,4.8 405.1,3 407,1.6 411.3,0 423.2,0 429,2 431,3.4 438,11 439.8,14 440.8,17 442.2,25 441.6,32 438.6,40 435.5,45 431.2,50 430.2,52 430.7,54 434.5,59 437,64 439.2,71 439.6,76 439.2,85 435.9,100 435.1,108 433.7,112 430.7,118 431,118.9 434,119.7 444.3,121 454.5,125 463.3,130 467.5,133 471.3,137ZM37.1,33 30,39.8 25,42 21,42.8 13,43.4 8,43.3 4,42.2 2,40.7 0,37.7 0,16.8 2.6,14 5,12.2 8,11.1 12,10.5 15,10.8 32.5,16 35.6,18 38.3,23 38.5,28 38,31ZM633,36.4 631.5,32 631.1,27 631.9,21 633,17.8ZM565,56.5 559,55.7 555,54 551.9,52 550.1,50 547.8,46 546,39 547.2,30 549.4,26 552,23.4 556,20.8 561,18.7 564,18.1 567,18.4 571,19.9 576,22.8 578.9,25 581,27.5 583.1,31 584.7,35 585.2,38 585,41 583.8,44 581.6,48 579,51.1 576,53.4 573,55ZM369.4,54 368.7,56 367,57.5 361,59.6 353,60.2 338,59.2 330,57.4 325.1,55 321.3,52 320.3,50 320.2,48 322,45.6 328,43.8 342,43.2 350,43.5 361.3,46 365,47.3 368.2,50 369.2,52ZM309.1,50 308.5,52 306,53.6 302,54.8 298,55.4 291,54.5 288.2,53 286.7,51 287.2,49 289,47.5 292,46.2 296,45.5 301,45.7 305,46.6 307.7,48ZM185.2,93 184.2,96 182.1,98 160,108.7 156,111.5 151.5,116 147.6,121 145.3,126 144.1,132 144,140 79.8,140 78.5,138 78.1,136 78.9,134 82,130.2 84.3,126 85.2,123 85.3,119 81.7,109 72.9,101 71.4,96 72.3,92 72.1,91 71,90.9 66,93.4 63,94 60,94.2 56,93.5 53,91.9 50.3,89 49,86 48.7,83 49.7,80 52,77.4 56,75.2 60,74.2 64,74.2 68,75.5 75,81.9 79,79.6 85,79.6 87.7,77 89.3,72 90.1,71 94,68.4 102.6,66 104,64.9 106.9,61 111.3,58 114,55.2 117,54.8 126,55.7 133,57 136,58.5 141,62.6 148,65.1 159,66.6 165,66.7 174,68.2 181,71.7 182.6,73 183.5,75 184.1,81 183.8,84 184.9,88ZM380,80.3 378.7,82 377,83.1 372,84.3 366,84 358,81.3 353.3,78 349.8,74 348.9,71 349.8,67 351,65.3 352.8,64 357,62.8 363,62.9 370,65 374.3,68 378.5,73 380.3,77ZM271.4,77 270.9,79 268.7,81 266,82.2 261,82.7 258,82.3 254.9,81 253,79 252.6,77 253.4,75 255.8,73 259,71.9 262,71.6 265,71.9 268,73 270.6,75ZM8,123.5 5,121.4 3.3,119 2.2,116 1.9,112 2.2,107 3,103 7.8,94 11,90.1 15.5,86 23,82.1 27,81.7 30,81.9 36,85 38.3,87 40.5,90 43.9,96 44.4,99 43.9,102 42.5,105 36,114 32,121 29,123.8 26,125.1 21,124.5 15,125.4ZM370.6,115 368,118.6 364,121.3 356,123.4 350,123.3 345,121.6 340.5,118 338.3,114 338.2,110 340.3,105 343.6,102 347,100.4 351,99.3 354,98.8 357,99 365,101.5 369,104.4 370.7,107 371.5,109 371.5,112ZM590.5,140 561.8,140 558,138.5 551,134.3 542.5,127 538.3,121 537.5,118 537.7,116 539.3,114 542,112.7 550,112.9 555,114.2 574,122.2 577.2,124 581.1,127 588.5,134 590.4,137ZM246.4,136 245,137.7 243,138.8 236,139.9 232,139.6 225,137.4 217,132.7 213.6,130 211.3,126 210.8,124 211,122 212,120.3 213.5,119 218,117.1 225,117.5 231,119.1 238,122.8 243,126.9 246.3,132 246.8,134Z" fill="#FDDBC7" fill-rule="evenodd"/>
<path d="M311,14.8 309.4,12 308.8,8 309.5,4 311.4,1 313.6,0 324,0 326.5,2 327.6,4 327.8,6 327.1,8 326,9.4 323,11.2 318,12.6 315.7,15 314,15.9 312,15.6ZM216.7,14 217.4,11 219.3,9 225,5.3 231,2.7 235,1.9 240,2.2 242.1,3 243.6,5 243,8 240.6,11 236,14.1 231,16.2 226,17.3 222,17.2 218.2,16ZM425.6,25 424,26.5 421,27.5 419,27.4 416,26.4 414.1,25 412.7,23 412.3,21 412.8,19 414.3,17 417,15.4 420,14.8 423,15.3 425.3,17 426.8,20 426.6,23ZM108,125.7 106.2,124 105,122 102.5,114 103,107 104.6,104 107,100.8 111,97 119,91.2 128.8,88 132,86.4 134,86.4 135,86.9 141,92.7 145.2,99 145.8,101 143.4,108 136.9,118 134,121.6 131,124.1 128,125.7 119,128 115,127.9 111,127.1ZM455.4,138 454.8,139 453,140 440.8,140 439,139 438.2,138 438.1,137 438.7,136 441,134.7 445,133.8 448,133.7 453.1,135 454.6,136 455.4,137Z" fill="#F4A582" fill-rule="evenodd"/>
<path d="M320.6,5 320,6 319,5 320,4.6ZM226,11.3 226.1,10 226.9,9 230.2,7 234,6.2 236.1,7 236.3,8 235.9,9 234,10.7 232,11.7 228,12.4 226.5,12ZM313,9.9 312.2,8 313,6.2 314,6.4 314.4,8 314,9.2Z" fill="#D6604D" fill-rule="evenodd"/>
<path d="M300.6,31 295,34.7 288,37.5 279,37.7 272,37 264,34.2 256,28.8 254.5,27 253.2,24 252.7,21 253,19 255.4,14 262,5.9 265.8,0 298.5,0 300.2,6 302,20 302.1,27 301.7,29ZM340.9,31 340.1,28 341.5,25 355,7.3 358,5 369.6,0 389,0 390.5,2 391.6,5 391.9,8 391.1,13 389.8,17 387.6,21 383,27.1 380,30.2 377,32.3 373,34.2 364,36.9 355,37.2 350,36.3 345,34.6 342.5,33ZM51.3,8 49.9,10 46,12 43,12.5 38,12.5 33,11.8 27.3,10 24.3,8 23.2,6 24.2,4 28,2 33,1.3 38,1.3 45,2.5 48,3.6 51,6ZM190,31.1 185,30.6 181,29 178.4,26 177.1,22 177.5,17 179.4,12 182.3,9 186,7.2 191,7.5 193,8.2 195,9.7 197.1,13 198.8,19 198.6,23 196.7,27 194,29.5ZM607,46.7 604,45.9 600,43.6 598,41.5 595,36.9 593.1,33 592.1,29 591.9,26 592.4,22 593.2,19 594.3,17 600,11.5 609,8.3 615,8 618.3,9 621,10.9 623,13.4 624.1,16 624.5,19 623.9,30 624.4,37 624.1,40 622.5,43 619,45.2 614,46.5ZM462,32.9 458,31.3 454.8,28 453.1,24 453,18.3 454.3,14 456.7,11 461,9.1 466,8.8 470,10.3 474.8,15 476.4,18 476.3,21 474.7,26 471,30.2 466,32.6ZM174.8,49 172.9,52 169,55.3 163,57.7 158,58 151.2,56 146,52.2 143.3,48 142.5,44 144.1,41 148.5,38 156,35.2 162,35 167.2,37 171.9,41 174.5,45 175,47ZM216.8,44 215.3,47 212,49.4 208,50.6 203,50.9 197,50.4 192,49 188.9,47 187.4,44 188.5,41 192,38.4 196,37.3 202,36.9 208,37.6 213,39.4 216,41.7ZM399,74.7 394,75.2 389,73.5 386,71.3 381.9,67 378.6,62 377.9,54 376.4,48 376.3,45 377.7,42 379,40.4 384,37.2 387,36.6 391,36.7 402,39.9 404,41.1 407,44.1 412,52 412.6,54 412.5,56 410.4,61 404,70.6 401,73.6ZM596,122.6 587,120.4 581,117.7 574,115.6 565.8,112 560.6,109 557.1,105 554,98.5 549,91 547.4,82 547.6,80 549.9,73 554,68.7 561,66 576,62.3 589,54.3 596,51.1 602,52.7 607.6,55 616,57.6 621,59.9 629,65.1 630,65.2 633,64 633,68 633,89.2 625,104.5 621,109.9 618.6,112 602.9,121 599,122.2ZM0,88.1 0,63.8 5,63.6 7,64.2 9,65.5 10,67 10.2,69 8.9,71 5.2,74 4.5,79 2,84.9ZM516.9,130 514,133.9 511.8,136 504,139.2 496,139.6 491,138.4 486,136.2 475.6,129 449,116 446,114 444.2,109 443.9,103 444.8,98 446.5,93 448,91 451,88.6 460,86.2 474,85.9 480,87.2 489,90.4 496,95.3 504.8,103 510.7,109 514.7,114 516.6,117 518.1,121 517.8,127ZM273,136 268,135.7 265,134.8 259,131.5 253.6,127 249.8,123 247.6,119 246.7,116 246.1,110 246.1,105 246.7,103 248.9,99 251.7,96 258,90.4 261.8,88 265,87.1 271,86.4 273,86.5 280,88.2 288,94 290.6,97 294,103 295.2,110 294.9,113 293,120.1 291.2,123 285.3,130 280,133.8 276,135.5ZM397,105.7 395,106.7 392,106.9 389,106 386.6,104 385.6,102 385.3,99 386.2,96 388,93.9 390,92.9 393,92.5 396,93.4 398,95 399.7,98 400,101 399,103.6ZM72.5,125 69.7,128 67,129.7 61,131.5 57,131.9 49,129.8 45.2,128 43,126.2 42.2,125 41.7,122 42.5,119 44.7,115 46.9,112 49,110 53,108.2 61,107.7 64,108.4 66.6,110 73,117 73.9,121 73.5,123ZM411.3,136 409,138.8 406.8,140 384.7,140 382,137.9 380,134 379.2,130 379.8,125 381,122.5 383,120 386.8,117 390,115.3 396,113.6 400,113.6 403,114.3 408,117.4 410.5,120 411.6,122 412.4,129 412.1,133ZM196.5,128 195.7,132 194.4,135 190,140 157.4,140 156,138 155.3,136 154.8,132 155.1,129 156,126 158,122.6 160,120.2 162.8,118 167,115.5 170,114.6 174,114.2 181,114.6 186,116.1 189.1,118 195.1,123 196.3,125Z" fill="#D1E5F0" fill-rule="evenodd"/>
<path d="M289,20.1 286,21.9 283,22.4 277,21.4 273,18.6 271,15.6 270.2,12 270.8,8 272.8,5 275,3.2 277,2.4 282,1.7 287,2.6 290.9,5 292.6,7 293.5,9 293.8,13 292.7,16ZM397,60.1 394,59.4 392,57.9 390.4,55 389.9,52 390.5,49 392,46.7 395,44.7 398,44.2 400.9,45 403,46.8 404.4,49 405,52 404.4,55 403,57.4 400,59.6ZM586,105.3 580,102.9 574.6,98 573,95.6 570.5,90 570.2,85 572.3,79 573.6,77 576,74.8 584,70.3 590,68.9 592,68.9 600,72.1 604,75.6 608.4,83 609.2,86 609.3,89 608.2,92 604,97.7 601.4,100 597,102.7 593,104.3 589,105.3ZM177.9,136 176,137.4 173,138.4 170,138.4 167,137.2 165,135.3 163.8,133 163.6,130 164.4,128 166.3,126 169,124.8 173,124.6 176,125.6 178,127.2 179.4,130 179.5,133Z" fill="#92C5DE" fill-rule="evenodd"/>
<path d="M286,13.7 283,15 281,15 279,14.3 276.8,12 276.6,11 277.1,9 278,7.9 280,6.7 283,6.4 285,6.9 286.4,8 287.4,10 287.2,12ZM595,92.6 593,93.8 591,93.9 586,92.8 583,91.1 581.6,89 581.2,87 581.7,84 582.9,82 585.2,80 588,78.9 591,78.9 594,80.2 596.5,83 597.8,87 597.2,90Z" fill="#4393C3" fill-rule="evenodd"/>
<path d="M591.1,86 590,86.6 589,86.3 588.4,85 588.8,84 590,83.5 591,83.9 591.4,85Z" fill="#2166AC" fill-rule="evenodd"/>
<path d="M0,70.4H633.6M316.8,0V140.8" stroke="#555" stroke-width="1.2" stroke-dasharray="5,4.6" fill="none"/>
<use href="#map"/>
<g fill="none" stroke="#000" stroke-width="2.1"><ellipse cx="6.3" cy="110.2" rx="13.9" ry="10.1"/><ellipse cx="533.2" cy="127" rx="19.3" ry="7.6" transform="rotate(22 533.2 127)"/><ellipse cx="633" cy="108.1" rx="6.3" ry="6.7"/></g>
<g fill="none" stroke="#000" stroke-width="2.1" stroke-dasharray="6.5,4.5"><ellipse cx="589.9" cy="114.4" rx="13" ry="13.9"/></g>
</g>
<path d="M844.7,490.3v-6.0M844.7,631.1v6.0M862.3,490.3v-3.1M862.3,631.1v3.1M879.9,490.3v-3.1M879.9,631.1v3.1M897.5,490.3v-3.1M897.5,631.1v3.1M915.1,490.3v-3.1M915.1,631.1v3.1M932.7,490.3v-3.1M932.7,631.1v3.1M950.3,490.3v-6.0M950.3,631.1v6.0M967.9,490.3v-3.1M967.9,631.1v3.1M985.5,490.3v-3.1M985.5,631.1v3.1M1003.1,490.3v-3.1M1003.1,631.1v3.1M1020.7,490.3v-3.1M1020.7,631.1v3.1M1038.3,490.3v-3.1M1038.3,631.1v3.1M1055.9,490.3v-6.0M1055.9,631.1v6.0M1073.5,490.3v-3.1M1073.5,631.1v3.1M1091.1,490.3v-3.1M1091.1,631.1v3.1M1108.7,490.3v-3.1M1108.7,631.1v3.1M1126.3,490.3v-3.1M1126.3,631.1v3.1M1143.9,490.3v-3.1M1143.9,631.1v3.1M1161.5,490.3v-6.0M1161.5,631.1v6.0M1179.1,490.3v-3.1M1179.1,631.1v3.1M1196.7,490.3v-3.1M1196.7,631.1v3.1M1214.3,490.3v-3.1M1214.3,631.1v3.1M1231.9,490.3v-3.1M1231.9,631.1v3.1M1249.5,490.3v-3.1M1249.5,631.1v3.1M1267.1,490.3v-6.0M1267.1,631.1v6.0M1284.7,490.3v-3.1M1284.7,631.1v3.1M1302.3,490.3v-3.1M1302.3,631.1v3.1M1319.9,490.3v-3.1M1319.9,631.1v3.1M1337.5,490.3v-3.1M1337.5,631.1v3.1M1355.1,490.3v-3.1M1355.1,631.1v3.1M1372.7,490.3v-6.0M1372.7,631.1v6.0M1390.3,490.3v-3.1M1390.3,631.1v3.1M1407.9,490.3v-3.1M1407.9,631.1v3.1M1425.5,490.3v-3.1M1425.5,631.1v3.1M1443.1,490.3v-3.1M1443.1,631.1v3.1M1460.7,490.3v-3.1M1460.7,631.1v3.1M1478.3,490.3v-6.0M1478.3,631.1v6.0M844.7,490.3h-3.1M1478.3,490.3h3.1M844.7,507.9h-6.0M1478.3,507.9h6.0M844.7,525.5h-3.1M1478.3,525.5h3.1M844.7,543.1h-3.1M1478.3,543.1h3.1M844.7,560.7h-6.0M1478.3,560.7h6.0M844.7,578.3h-3.1M1478.3,578.3h3.1M844.7,595.9h-3.1M1478.3,595.9h3.1M844.7,613.5h-6.0M1478.3,613.5h6.0M844.7,631.1h-3.1M1478.3,631.1h3.1" stroke="#000" stroke-width="1.9" stroke-linecap="round" fill="none"/>
<path d="M843.2,490.3H1479.8M843.2,631.1H1479.8" stroke="#000" stroke-width="2.2" fill="none"/>
<path d="M844.7,489.3V632.1M1478.3,489.3V632.1" stroke="#000" stroke-width="3" fill="none"/>
<!-- panel 8 -->
<g transform="translate(844.7,712.6)" clip-path="url(#pc)">
<rect x="0" y="0" width="633.6" height="140.8" fill="#F8F8F8"/>
<path d="M110.8,11 110.4,13 109,15.3 106.3,18 104,19.4 97,21.6 88,22.4 81.1,21 72.8,17 70.8,15 69.6,13 68.9,9 69.9,6 72,3.7 74.9,2 80,0.3 100.2,0 104,1.1 108,3.6 110.1,7ZM224,8 223,11.3 219,14.5 214,16.9 208,17.9 200,17.5 193,15.4 189,12.9 187.5,11 186.9,9 187.5,6 189.1,4 193,1.6 197.5,0 216,0.2 219,1.3 221.3,3 223.1,5ZM335.1,4 334.5,6 332.9,8 322,17 319,18.2 314,18.4 305,16.6 300,13.9 298,11.8 296,8.4 294.9,5 294.6,2 294.9,0 334.8,0ZM410,31.2 407,31.5 404,31.1 396,28.2 393.3,26 391.4,21 391,14 391.7,10 392.8,7 395,4.2 397,2.6 403,0.2 410,0.1 413,1 416,2.7 418.4,5 420.5,8 422,11 422.9,14 423.2,17 422.9,19 419.9,25 416,28.8ZM522.3,5 520,7.2 516,7.8 514,7.4 512,6.4 510.8,5 510.6,4 511,2.9 513,1.3 517,0.6 521.1,2 522,3ZM630,19.4 627,19.7 625,19.1 623,17.8 621.2,15 620.8,12 621.7,9 623.5,7 626,5.8 628,5.6 630,6 633,8.1 633,17.4ZM0,16.6 0,8.9 0.9,11 1.2,13ZM550,44.2 545,45.9 540,45.3 535,42.8 530,37.8 527.5,32 527.2,27 529,20.8 530.2,19 532,17.5 537,15.5 541,15.2 544,15.7 549,18.4 553,22.9 555.8,30 556.3,33 556.2,36 554.6,40ZM444.9,51 442.8,53 439,54.3 435,54.3 432,53.5 429,51.7 426.7,49 425.6,46 426,43 428,40.9 431,39.9 435,40 439,41.2 442,43 444.7,46 445.5,49ZM498,54.1 496,53.9 494.5,53 493.6,52 492.9,50 493.1,48 494,46.3 497,44.6 499,44.8 501,46 502.5,49 502.2,51 501,52.8ZM165.7,78 164.8,80 162,82.3 154,84.8 144.9,87 142.7,88 142.1,89 142.2,91 143.6,97 144.1,102 143.4,106 135,120.7 131.3,125 128.5,130 127,131.7 121,134.9 106,139 103,139.3 97,137.9 87,137.1 79.2,133 77,131.3 69,122.2 66.4,115 65.6,114 56,110.7 53.4,109 51.5,107 49.6,104 49,102 48.8,96 48.3,95 40.3,90 35.7,86 32.4,81 31.2,78 31,76 32,73.7 35,72 40,71.5 45,72.3 50,74.1 55,76.7 64,84 70,86.2 73,86.8 75,85.9 83,78.6 85,77.5 97,73.7 106,71.5 127,68.4 143,68.5 157,70.5 160.9,72 163.7,74 165.3,76ZM424,96 423,97.4 421,98.5 416,99.1 413,98.5 411,97.6 409.6,96 409.6,95 410.2,94 412,92.9 415,92.1 418,92 422.1,93 423.4,94ZM625.8,132 623.4,134 615,138.7 610.3,140 595.3,140 588,137.6 583,135.1 580,133 576.7,128 576,126 575.4,121 577,114 579,110 582,106 586,102.7 591,100 597,98.8 606,98.9 609,99.2 616,101.4 622,104.9 623.9,107 624.9,109 625.7,120 626.9,128 626.8,130ZM500.8,140 483,140 478,136.3 475.2,132 473.6,128 472.7,124 472.7,118 473.2,115 475.3,110 477.6,106 480,103.5 483,101.6 486,100.6 490,100.4 495,101.4 498,102.8 504.2,108 506.3,111 508.9,116 509.8,119 510.2,123 508.8,130 506.1,135ZM363.7,130 363.2,133 362,134.9 355.6,140 302,140 300.5,136 300.7,133 301.6,130 303.5,127 306,124.7 312,122.3 320,118.2 337,115.8 341,115.7 346,116.3 349,117.1 353.5,119 358.1,122 361.6,125 363,127Z" fill="#FDDBC7" fill-rule="evenodd"/>
<path d="M325.6,4 324.2,7 322,8.8 318,10.3 314,10.5 310,9.7 307,8.1 305.2,6 304.4,3 305.2,0 324.6,0 325.5,2ZM612.7,121 611.1,124 609,125.7 606,126.9 602,127.3 598,126.5 595,124.8 592.7,122 592.2,119 592.8,117 595,114.7 599,112.9 603,112.4 608,113.6 611,115.3 612.7,118ZM311,138.5 309,138.1 308,137.5 306.7,135 307.5,132 310,130.4 313,131.1 314,132.1 314.7,134 314.4,136 313.7,137Z" fill="#F4A582" fill-rule="evenodd"/>
<path d="M320.1,4 317.9,6 314,6.5 311,5.4 309.8,4 309.5,3 310.5,1 312,0.1 317,0 319,0.9 319.9,2ZM605.8,121 604,122.2 601,122.1 599.4,121 599,119 601,117.4 604,117.5 605.9,119Z" fill="#D6604D" fill-rule="evenodd"/>
<path d="M166.2,7 165.8,9 164.5,11 160.8,14 156,16.1 150,16.9 137,16.1 131,14.7 128,13.2 125.2,11 123.7,9 123.4,7 124,5.3 125.1,4 127.8,2 131.8,0 148,0 158.4,0 163.7,3 165.6,5ZM283.5,9 282.7,11 281.7,12 276,14.6 270,16 261,16.5 254,15.9 246.5,14 242.3,11 241.2,8 242,6 243,4.9 245.8,3 249,1.7 259.8,0 267.1,0 275,1.8 280,3.9 282.6,6 283.2,7ZM378,30.9 375,32.5 371,33.9 367,34.4 363,34.3 360,33.5 358,32.3 353,27.7 348.8,20 348,16 348.1,12 348.7,9 350.7,5 355.6,0 375.5,0 379.3,3 381.1,5 382.8,8 383.7,11 383.7,20 382.8,24 381.5,27 380,29.1ZM465.3,7 464,9 460,10.9 456,11.7 450,12 445,11.4 441,10.1 438.3,8 437.5,6 438.4,4 441.4,2 446,0.7 451,0.4 457,1 461,2.2 464.9,5ZM575.7,12 575.7,11 576.6,9 579,6.6 584,3.7 590,1.6 597,0.4 602,0.2 605.8,1 607.2,2 607.7,3 607.5,5 604.9,8 599.6,11 594,13 587,14.5 582,14.7 578,13.9 576.4,13ZM50.2,13 48.6,17 46,20 44,21.6 39,23.4 33,23.8 26,22.8 21,20.4 19.4,19 18.1,17 17,13 17.5,10 18.6,8 22.8,4 28,2 34,1.2 41,2.2 46,4.5 49.1,8 50,10.2ZM335,27 332,26.5 329,24.9 327,22 327,19.7 329,16.1 332,13.6 336,12 339,12.1 341,13 343,15.1 343.9,18 343.5,21 342,23.6 340,25.4 338,26.4ZM179.4,46 178,48.6 176,50.8 171,53.8 165,55.2 158,55.9 154,55.7 148,53.9 144.6,52 142.2,50 140,46.3 139.5,41 140.5,38 142.8,34 145,31.6 148,29.5 151,28.2 155,27.4 163,27.6 168,28.6 172,30.1 175,32 177.1,34 179.1,37 180.1,40 180.2,43ZM405.6,47 404.7,49 402.9,51 398,54.2 392,55.7 385,55.5 381,54.3 376,50.8 373.6,47 373.3,43 375.2,39 379,35.3 384,33.3 390,33 394,33.9 399,35.8 403.9,39 405.8,42 406.1,44ZM585.8,37 584.9,38 583,38.9 580,38.9 578.1,38 577.2,37 577,35 577.5,34 579,32.7 581,32.2 583,32.4 585.5,34 586,35ZM521.2,133 519.5,129 519.6,125 521,120.2 524.5,115 524.8,113 523.1,106 520,100 518.6,96 518.2,92 518.8,88 520.3,83 522.9,78 534,67.8 538.6,66 564,60.6 576,58.6 586,57.4 606,56.7 612,56.9 624,58.7 630,61.7 633,64.8 633,72 629.8,75 625.5,77 617,79.6 610.9,82 602,86.7 587,90.2 579,90.7 571,89.9 569,90.9 564.6,103 565.9,111 565.5,115 564.6,118 561.8,122 557,126 554.4,133 552.8,135 550,137.2 547,138.6 542,139.8 534.2,140 527,137.9 523,135.2ZM455,84.3 450,85.9 444,85.3 439,83.2 436.3,81 434.7,79 433.8,77 433.2,74 434.1,68 436,63.7 440,60.1 446,57.7 452,57.3 457,59.4 460.5,63 461.9,66 462.4,69 462,75 461,78 459.2,81ZM0,71.3 0,65.6 0.8,67 1.1,69ZM245.3,131 244.1,125 244.6,119 246.6,113 250,107.1 252.5,104 254.9,102 265,96 270,93.8 280,90.8 284,90.4 289,91.1 298,94.4 302,92.9 306,92.1 310,92 316,92.6 322,89 325,88.2 329,88 333,88.4 337,89.9 340,92 342.1,95 342.6,97 342.3,99 341.4,101 339.7,103 335,105.9 330,107.1 325,106.8 319.5,105 316.7,103 314,98.8 301.5,99 302.3,103 301.7,106 300,110.1 296,115 292,118.9 287,122.3 283,124.1 275,125.9 273,126.9 268.2,136 266,138.3 263.1,140 255.8,140 251,138.5 248.2,136ZM188.4,135 185.7,140 148,140 145.3,135 144.9,132 145.2,128 146.2,124 148,120 150.4,117 155,112.8 158,110.8 166,108.2 169,108.1 177,110.3 180,111.7 184.4,115 187.7,119 189.4,122 189.8,125 189.5,130ZM44.5,135 43,136.8 41,138.3 39,139 35,139.6 26,139.2 20,137.9 16,136.5 8,132.5 4,129 2.1,126 1,123 0.8,120 1.6,117 2.9,115 5,113.6 8,112.9 12,112.6 20,113.3 30,116.5 37,120.9 42.3,126 44.2,129 44.9,131 45.1,133ZM451.1,133 450.4,135 448.9,137 444.2,140 418.1,140 410,137.4 404,134.3 397.6,129 396.1,126 396,124 397.3,121 400,118.2 403,116.5 408,114.8 416,114.3 426,115.3 436,118.1 443.6,122 449.3,127 450.9,130Z" fill="#D1E5F0" fill-rule="evenodd"/>
<path d="M596.2,76 594.1,79 590.9,81 586,82.5 581,82.7 574,81.6 570,80 567.7,78 566.6,75 567.6,72 570,70.2 576,68.2 581,68 587,68.7 592,70.4 595.3,73ZM554.9,114 553.3,116 551,117.6 548,118.5 544,118.4 541,117.3 538,115 536.1,112 535.9,109 537.6,106 540,104.3 543,103.4 547,103.9 551,105.5 553.9,108 555.4,111Z" fill="#92C5DE" fill-rule="evenodd"/>
<path d="M588,76 587.4,77 586,78 584,78.6 581,78.7 578,78.1 576,77.1 575.1,76 575.1,75 575.7,74 577.3,73 582,72.5 585,73 587,73.9 587.9,75ZM549.9,112 549.4,113 548.1,114 545,114.3 543,113.4 542,112.4 541.5,111 541.6,110 543,108.6 546,108.2 549,109.7 549.8,111Z" fill="#4393C3" fill-rule="evenodd"/>
<path d="M0,70.4H633.6M316.8,0V140.8" stroke="#555" stroke-width="1.2" stroke-dasharray="5,4.6" fill="none"/>
<use href="#map"/>
</g>
<path d="M844.7,712.6v-6.0M844.7,853.4v6.0M862.3,712.6v-3.1M862.3,853.4v3.1M879.9,712.6v-3.1M879.9,853.4v3.1M897.5,712.6v-3.1M897.5,853.4v3.1M915.1,712.6v-3.1M915.1,853.4v3.1M932.7,712.6v-3.1M932.7,853.4v3.1M950.3,712.6v-6.0M950.3,853.4v6.0M967.9,712.6v-3.1M967.9,853.4v3.1M985.5,712.6v-3.1M985.5,853.4v3.1M1003.1,712.6v-3.1M1003.1,853.4v3.1M1020.7,712.6v-3.1M1020.7,853.4v3.1M1038.3,712.6v-3.1M1038.3,853.4v3.1M1055.9,712.6v-6.0M1055.9,853.4v6.0M1073.5,712.6v-3.1M1073.5,853.4v3.1M1091.1,712.6v-3.1M1091.1,853.4v3.1M1108.7,712.6v-3.1M1108.7,853.4v3.1M1126.3,712.6v-3.1M1126.3,853.4v3.1M1143.9,712.6v-3.1M1143.9,853.4v3.1M1161.5,712.6v-6.0M1161.5,853.4v6.0M1179.1,712.6v-3.1M1179.1,853.4v3.1M1196.7,712.6v-3.1M1196.7,853.4v3.1M1214.3,712.6v-3.1M1214.3,853.4v3.1M1231.9,712.6v-3.1M1231.9,853.4v3.1M1249.5,712.6v-3.1M1249.5,853.4v3.1M1267.1,712.6v-6.0M1267.1,853.4v6.0M1284.7,712.6v-3.1M1284.7,853.4v3.1M1302.3,712.6v-3.1M1302.3,853.4v3.1M1319.9,712.6v-3.1M1319.9,853.4v3.1M1337.5,712.6v-3.1M1337.5,853.4v3.1M1355.1,712.6v-3.1M1355.1,853.4v3.1M1372.7,712.6v-6.0M1372.7,853.4v6.0M1390.3,712.6v-3.1M1390.3,853.4v3.1M1407.9,712.6v-3.1M1407.9,853.4v3.1M1425.5,712.6v-3.1M1425.5,853.4v3.1M1443.1,712.6v-3.1M1443.1,853.4v3.1M1460.7,712.6v-3.1M1460.7,853.4v3.1M1478.3,712.6v-6.0M1478.3,853.4v6.0M844.7,712.6h-3.1M1478.3,712.6h3.1M844.7,730.2h-6.0M1478.3,730.2h6.0M844.7,747.8h-3.1M1478.3,747.8h3.1M844.7,765.4h-3.1M1478.3,765.4h3.1M844.7,783h-6.0M1478.3,783h6.0M844.7,800.6h-3.1M1478.3,800.6h3.1M844.7,818.2h-3.1M1478.3,818.2h3.1M844.7,835.8h-6.0M1478.3,835.8h6.0M844.7,853.4h-3.1M1478.3,853.4h3.1" stroke="#000" stroke-width="1.9" stroke-linecap="round" fill="none"/>
<path d="M843.2,712.6H1479.8M843.2,853.4H1479.8" stroke="#000" stroke-width="2.2" fill="none"/>
<path d="M844.7,711.6V854.4M1478.3,711.6V854.4" stroke="#000" stroke-width="3" fill="none"/>
<text x="100.5" y="31.6" font-size="35">4-May to 10-May</text>
<text x="842.6" y="38.2" font-size="35">1-Jun to 7-Jun</text>
<text x="100.5" y="253.9" font-size="35">11-May to 17-May</text>
<text x="842.6" y="260.5" font-size="35">8-Jun to 14-Jun</text>
<text x="100.5" y="476.2" font-size="35">18-May to 24-May</text>
<text x="842.6" y="482.8" font-size="35">15-Jun to 21-Jun</text>
<text x="100.5" y="698.5" font-size="35">25-May to 31-May</text>
<text x="842.6" y="705.1" font-size="35">22-Jun to 28-Jun</text>
<text x="739" y="37.8" font-size="35" text-anchor="end">Observed</text>
<text x="1480.5" y="37.8" font-size="35" text-anchor="end">CFS Forecast</text>
<text x="75.3" y="76.0" font-size="35.5" text-anchor="end">30N</text>
<text x="75.3" y="128.8" font-size="35.5" text-anchor="end">0</text>
<text x="75.3" y="181.6" font-size="35.5" text-anchor="end">30S</text>
<text x="75.3" y="298.3" font-size="35.5" text-anchor="end">30N</text>
<text x="75.3" y="351.1" font-size="35.5" text-anchor="end">0</text>
<text x="75.3" y="403.9" font-size="35.5" text-anchor="end">30S</text>
<text x="75.3" y="520.6" font-size="35.5" text-anchor="end">30N</text>
<text x="75.3" y="573.4" font-size="35.5" text-anchor="end">0</text>
<text x="75.3" y="626.2" font-size="35.5" text-anchor="end">30S</text>
<text x="75.3" y="742.9" font-size="35.5" text-anchor="end">30N</text>
<text x="75.3" y="795.7" font-size="35.5" text-anchor="end">0</text>
<text x="75.3" y="848.5" font-size="35.5" text-anchor="end">30S</text>
<text x="102.1" y="909.8" font-size="35.5" text-anchor="middle">0</text>
<text x="207.7" y="909.8" font-size="35.5" text-anchor="middle">60E</text>
<text x="313.3" y="909.8" font-size="35.5" text-anchor="middle">120E</text>
<text x="418.9" y="909.8" font-size="35.5" text-anchor="middle">180</text>
<text x="524.5" y="909.8" font-size="35.5" text-anchor="middle">120W</text>
<text x="630.1" y="909.8" font-size="35.5" text-anchor="middle">60W</text>
<text x="735.7" y="909.8" font-size="35.5" text-anchor="middle">0</text>
<text x="844.4" y="909.8" font-size="35.5" text-anchor="middle">0</text>
<text x="950.0" y="909.8" font-size="35.5" text-anchor="middle">60E</text>
<text x="1055.6" y="909.8" font-size="35.5" text-anchor="middle">120E</text>
<text x="1161.2" y="909.8" font-size="35.5" text-anchor="middle">180</text>
<text x="1266.8" y="909.8" font-size="35.5" text-anchor="middle">120W</text>
<text x="1372.4" y="909.8" font-size="35.5" text-anchor="middle">60W</text>
<text x="1478.0" y="909.8" font-size="35.5" text-anchor="middle">0</text>
<rect x="229.60" y="970.5" width="54.82" height="21.7" fill="#053061" stroke="#000" stroke-width="1.4"/>
<rect x="284.42" y="970.5" width="54.82" height="21.7" fill="#2166AC" stroke="#000" stroke-width="1.4"/>
<rect x="339.24" y="970.5" width="54.82" height="21.7" fill="#4393C3" stroke="#000" stroke-width="1.4"/>
<rect x="394.06" y="970.5" width="54.82" height="21.7" fill="#92C5DE" stroke="#000" stroke-width="1.4"/>
<rect x="448.88" y="970.5" width="54.82" height="21.7" fill="#D1E5F0" stroke="#000" stroke-width="1.4"/>
<rect x="503.70" y="970.5" width="54.82" height="21.7" fill="#F7F7F7" stroke="#000" stroke-width="1.4"/>
<rect x="558.52" y="970.5" width="54.82" height="21.7" fill="#FDDBC7" stroke="#000" stroke-width="1.4"/>
<rect x="613.34" y="970.5" width="54.82" height="21.7" fill="#F4A582" stroke="#000" stroke-width="1.4"/>
<rect x="668.16" y="970.5" width="54.82" height="21.7" fill="#D6604D" stroke="#000" stroke-width="1.4"/>
<rect x="722.98" y="970.5" width="54.82" height="21.7" fill="#B2182B" stroke="#000" stroke-width="1.4"/>
<rect x="777.80" y="970.5" width="54.82" height="21.7" fill="#67001F" stroke="#000" stroke-width="1.4"/>
<text x="284.8" y="1020.3" font-size="30.5" text-anchor="middle">-18</text>
<text x="339.6" y="1020.3" font-size="30.5" text-anchor="middle">-14</text>
<text x="394.5" y="1020.3" font-size="30.5" text-anchor="middle">-10</text>
<text x="449.3" y="1020.3" font-size="30.5" text-anchor="middle">-6</text>
<text x="504.1" y="1020.3" font-size="30.5" text-anchor="middle">-2</text>
<text x="558.9" y="1020.3" font-size="30.5" text-anchor="middle">2</text>
<text x="613.7" y="1020.3" font-size="30.5" text-anchor="middle">6</text>
<text x="668.6" y="1020.3" font-size="30.5" text-anchor="middle">10</text>
<text x="723.4" y="1020.3" font-size="30.5" text-anchor="middle">14</text>
<text x="778.2" y="1020.3" font-size="30.5" text-anchor="middle">18</text>
<text x="873.3" y="1006.6" font-size="30">m s-1</text>
<text x="187.5" y="1090.3" font-size="51.5" textLength="835" lengthAdjust="spacingAndGlyphs">7-day VWND200 with CFS forecasts</text>
<path d="M1089.7,981.9H1157.4" stroke="#000" stroke-width="3.4" stroke-linecap="round"/>
<path d="M1089.7,1022.2H1157.4" stroke="#A030F0" stroke-width="3.3" stroke-linecap="round"/>
<path d="M1314.6,981.9H1379.4" stroke="#0000FF" stroke-width="3.3" stroke-linecap="round"/>
<path d="M1314.6,1022.2H1379.4" stroke="#FF0000" stroke-width="3.3" stroke-linecap="round"/>
<text x="1170.4" y="991.3" font-size="27.8" textLength="60.5" lengthAdjust="spacingAndGlyphs">MJO</text>
<text x="1170.6" y="1032.1" font-size="27.8">Low</text>
<text x="1391.3" y="991.3" font-size="27.5">Kelvin x2</text>
<text x="1391.3" y="1032.1" font-size="27.5">ER</text>
<text x="1083.5" y="1068.8" font-size="26.5">Contours every 4 m s-1</text>
<text x="1507" y="1127.2" font-size="20.7" text-anchor="end">Carl Schreck (cjschrec@ncsu.edu)</text>
<text x="3.1" y="1126.8" font-size="20.9">ncics.org/mjo</text>
<text x="669" y="1127" font-size="14.3" textLength="172.5" lengthAdjust="spacingAndGlyphs">Thu 2017-06-01 1036 UTC</text>
<g clip-path="url(#lc)">
<linearGradient id="sun" x1="0" y1="0" x2="0" y2="1"><stop offset="0" stop-color="#FFC400"/><stop offset="0.55" stop-color="#FFBC04"/><stop offset="1" stop-color="#F2A81C"/></linearGradient><rect x="10" y="946" width="150" height="50" fill="url(#sun)"/>
<path d="M9.0,977.4 26.9,976.6 47.8,979.6 59.8,984.8 77.7,984.8 97.2,990.1 125.6,983.3 149.5,982.6 161.4,984.8 161.4,1044.6 9.0,1044.6Z" fill="#38439A"/>
<path d="M9.0,989.3 29.9,985.6 49.3,993.8 71.7,984.8 89.7,986.3 103.1,991.6 83.7,1001.3 64.3,1005.8 9.0,1017.7Z" fill="#6B7AB8"/>
<path d="M9.0,1014.7 37.4,1007.3 62.8,1002.0 83.7,1002.0 92.7,1004.3 107.6,1002.8 128.6,997.5 161.4,990.8 161.4,1044.6 9.0,1044.6Z" fill="#6878D8"/>
<path d="M17.9,1016.2 37.4,1008.0 59.8,1002.8 80.7,1002.8 88.2,1006.5 77.7,1011.7 56.8,1017.7 37.4,1020.7 22.4,1019.2Z" fill="#98A4E4"/>
<path d="M9.0,1015.5 17.9,1016.5 37.4,1020.7 49.3,1021.5 29.9,1029.7 16.4,1035.7 9.0,1041.6Z" fill="#3448C8"/>
<path d="M9.0,1041.9 13.5,1041.9 22.4,1042.5 29.9,1037.5 37.7,1030.4 44.8,1038.7 51.6,1035.4 60.5,1041.0 70.3,1031.5 80.7,1021.9 89.7,1031.5 97.2,1038.7 103.4,1037.2 110.2,1027.1 118.8,1041.9 127.1,1029.4 142.0,1021.5 158.4,1008.5 162.9,1004.3 162.9,1104.4 9.0,1104.4Z" fill="#04076B"/>
<path d="M9.0,1041.9 13.5,1041.9 22.4,1042.5 29.9,1037.5 37.7,1030.4 44.8,1038.7 51.6,1035.4 60.5,1041.0 70.3,1031.5 80.7,1021.9 89.7,1031.5 97.2,1038.7 103.4,1037.2 110.2,1027.1 118.8,1041.9 127.1,1029.4 142.0,1021.5 158.4,1008.5 162.9,1004.3" fill="none" stroke="#F01414" stroke-width="2" stroke-linejoin="round"/>
</g>
<text x="87" y="1071.6" font-size="28" font-weight="bold" text-anchor="middle" style="fill:#fff" textLength="98" lengthAdjust="spacing">NCICS</text>
</svg></body></html>
